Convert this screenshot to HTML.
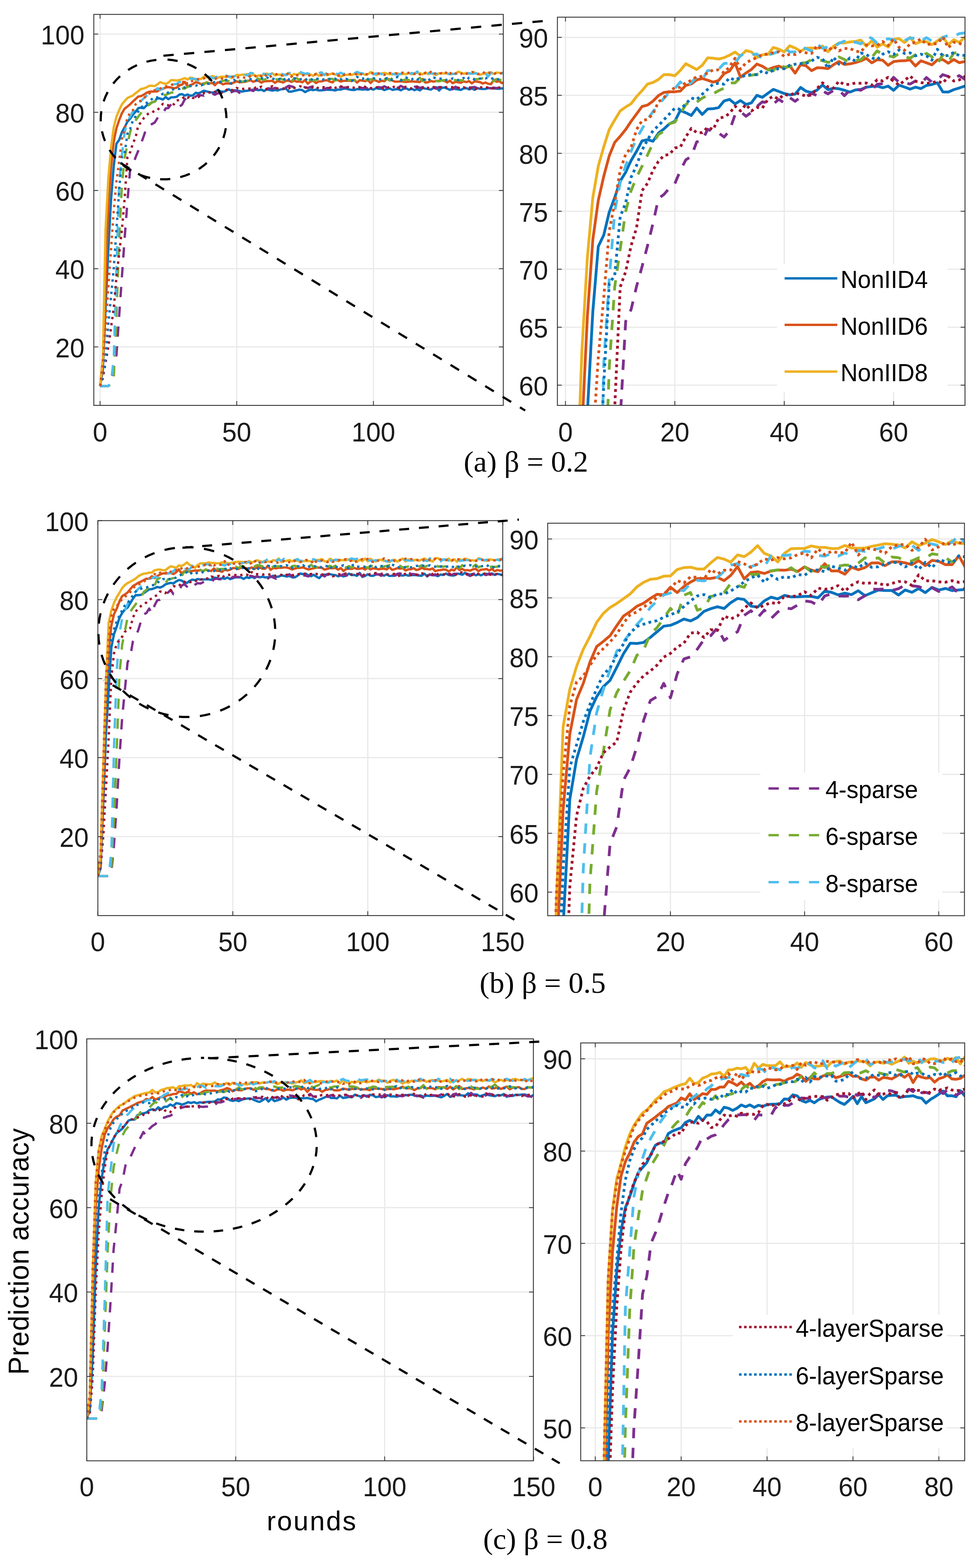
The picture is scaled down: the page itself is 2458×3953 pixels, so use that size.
<!DOCTYPE html><html><head><meta charset="utf-8"><style>html,body{margin:0;padding:0;background:#fff;overflow:hidden;}svg{display:block;}</style></head><body><svg width="2458" height="3953" viewBox="0 0 2458 3953">
<rect width="2458" height="3953" fill="#fff"/>
<g stroke="#e9e9e9" stroke-width="3" fill="none">
<line x1="252.3" y1="36.3" x2="252.3" y2="1022.0"/>
<line x1="596.8" y1="36.3" x2="596.8" y2="1022.0"/>
<line x1="941.4" y1="36.3" x2="941.4" y2="1022.0"/>
<line x1="236.5" y1="874.6" x2="1268.8" y2="874.6"/>
<line x1="236.5" y1="677.4" x2="1268.8" y2="677.4"/>
<line x1="236.5" y1="480.2" x2="1268.8" y2="480.2"/>
<line x1="236.5" y1="283.1" x2="1268.8" y2="283.1"/>
<line x1="236.5" y1="85.9" x2="1268.8" y2="85.9"/>
</g>
<clipPath id="cAl"><rect x="236.5" y="36.3" width="1032.3" height="985.7"/></clipPath>
<g clip-path="url(#cAl)" fill="none" stroke-width="5.9" stroke-linejoin="round">
<polyline points="252.3,973.2 259.2,933.8 266.1,776.4 273.0,628.8 279.9,504.3 286.8,417.7 293.6,362.3 300.5,352.6 307.4,333.1 314.3,320.7 321.2,306.8 328.1,299.2 335.0,289.2 341.9,281.4 348.8,272.5 355.7,271.5 362.6,272.8 369.4,265.9 376.3,262.3 383.2,258.0 390.1,255.9 397.0,246.6 403.9,248.6 410.8,250.9 417.7,244.6 424.6,250.1 431.5,245.4 438.4,245.2 445.2,244.2 452.1,238.5 459.0,237.3 465.9,241.0 472.8,238.2 479.7,241.5 486.6,240.2 493.5,233.8 500.4,235.5 507.3,232.1 514.2,228.7 521.0,230.5 527.9,232.2 534.8,233.4 541.7,232.7 548.6,227.1 555.5,230.3 562.4,231.5 569.3,229.4 576.2,224.9 583.1,229.0 590.0,227.7 596.8,228.2 603.7,229.5 610.6,231.0 617.5,229.2 624.4,228.7 631.3,226.9 638.2,226.3 645.1,226.0 652.0,227.3 658.9,226.0 665.8,229.5 672.7,225.1 679.5,226.8 686.4,228.5 693.3,226.8 700.2,228.0 707.1,225.4 714.0,224.6 720.9,223.1 727.8,230.9 734.7,231.0 741.6,229.0 748.5,227.5 755.3,226.0 762.2,227.2 769.1,232.2 776.0,228.4 782.9,225.9 789.8,227.1 796.7,225.9 803.6,227.9 810.5,227.7 817.4,226.8 824.3,226.1 831.1,226.5 838.0,226.5 844.9,228.0 851.8,225.6 858.7,226.0 865.6,223.7 872.5,223.4 879.4,225.4 886.3,226.5 893.2,226.9 900.1,224.5 906.9,225.1 913.8,225.9 920.7,225.0 927.6,226.4 934.5,223.4 941.4,225.9 948.3,222.2 955.2,224.0 962.1,223.5 969.0,227.1 975.9,224.4 982.7,223.1 989.6,226.7 996.5,225.2 1003.4,224.5 1010.3,227.6 1017.2,223.9 1024.1,222.7 1031.0,226.4 1037.9,223.7 1044.8,227.3 1051.7,224.5 1058.5,227.9 1065.4,221.9 1072.3,223.4 1079.2,224.4 1086.1,226.0 1093.0,221.5 1099.9,220.0 1106.8,228.2 1113.7,221.5 1120.6,220.6 1127.5,223.4 1134.3,226.7 1141.2,222.2 1148.1,224.5 1155.0,225.4 1161.9,226.7 1168.8,222.9 1175.7,222.3 1182.6,225.4 1189.5,222.9 1196.4,226.5 1203.3,222.2 1210.1,223.9 1217.0,224.4 1223.9,224.2 1230.8,222.1 1237.7,222.3 1244.6,222.8 1251.5,223.6 1258.4,223.8 1265.3,222.6 1272.2,223.4 1279.1,222.4 1285.9,224.6" stroke="#0072BD"/>
<polyline points="252.3,973.2 259.2,923.9 266.1,728.1 273.0,518.6 279.9,422.3 286.8,356.6 293.6,323.2 300.5,302.6 307.4,285.2 314.3,273.8 321.2,268.6 328.1,262.9 335.0,255.9 341.9,249.6 348.8,243.3 355.7,242.1 362.6,238.7 369.4,234.0 376.3,231.3 383.2,230.8 390.1,230.8 397.0,230.2 403.9,225.3 410.8,224.1 417.7,220.6 424.6,219.5 431.5,220.9 438.4,222.6 445.2,221.1 452.1,215.4 459.0,213.1 465.9,206.3 472.8,218.4 479.7,214.8 486.6,211.8 493.5,207.2 500.4,209.0 507.3,212.0 514.2,210.1 521.0,208.9 527.9,210.8 534.8,208.7 541.7,214.9 548.6,207.6 555.5,208.7 562.4,212.8 569.3,210.3 576.2,210.5 583.1,211.0 590.0,207.8 596.8,205.0 603.7,207.5 610.6,207.1 617.5,206.0 624.4,204.5 631.3,202.3 638.2,206.2 645.1,203.4 652.0,203.9 658.9,208.3 665.8,205.1 672.7,204.5 679.5,204.4 686.4,203.6 693.3,208.9 700.2,204.4 707.1,206.1 714.0,207.9 720.9,203.7 727.8,203.4 734.7,206.5 741.6,203.3 748.5,206.0 755.3,205.0 762.2,207.6 769.1,201.7 776.0,210.9 782.9,205.3 789.8,203.6 796.7,209.5 803.6,205.4 810.5,205.1 817.4,203.1 824.3,202.2 831.1,205.7 838.0,207.8 844.9,201.8 851.8,202.0 858.7,205.6 865.6,203.8 872.5,203.7 879.4,203.2 886.3,204.0 893.2,201.3 900.1,208.1 906.9,202.0 913.8,203.4 920.7,204.7 927.6,201.7 934.5,209.3 941.4,201.7 948.3,203.4 955.2,206.7 962.1,203.3 969.0,204.9 975.9,198.7 982.7,200.3 989.6,203.4 996.5,205.9 1003.4,205.6 1010.3,205.1 1017.2,205.7 1024.1,206.5 1031.0,205.8 1037.9,205.2 1044.8,205.8 1051.7,206.3 1058.5,206.8 1065.4,199.4 1072.3,208.2 1079.2,207.3 1086.1,204.2 1093.0,205.9 1099.9,204.4 1106.8,203.7 1113.7,202.8 1120.6,204.0 1127.5,207.9 1134.3,203.4 1141.2,209.8 1148.1,206.3 1155.0,207.3 1161.9,208.6 1168.8,205.1 1175.7,207.0 1182.6,204.5 1189.5,210.1 1196.4,205.1 1203.3,206.0 1210.1,207.0 1217.0,210.5 1223.9,208.1 1230.8,211.1 1237.7,212.4 1244.6,201.0 1251.5,206.1 1258.4,204.5 1265.3,209.5 1272.2,207.3 1279.1,207.4 1285.9,207.8" stroke="#D95319"/>
<polyline points="252.3,973.2 259.2,903.9 266.1,578.8 273.0,450.9 279.9,372.0 286.8,320.8 293.6,294.0 300.5,277.6 307.4,262.9 314.3,254.8 321.2,247.1 328.1,243.8 335.0,240.9 341.9,234.8 348.8,229.8 355.7,224.2 362.6,222.8 369.4,220.3 376.3,216.2 383.2,216.2 390.1,217.1 397.0,212.6 403.9,206.9 410.8,209.4 417.7,211.8 424.6,208.2 431.5,201.9 438.4,202.2 445.2,202.9 452.1,201.7 459.0,199.6 465.9,197.0 472.8,200.5 479.7,195.7 486.6,196.9 493.5,201.8 500.4,199.3 507.3,199.0 514.2,193.1 521.0,194.5 527.9,196.9 534.8,191.6 541.7,193.5 548.6,196.3 555.5,193.7 562.4,193.5 569.3,194.0 576.2,191.9 583.1,196.7 590.0,192.2 596.8,189.2 603.7,189.3 610.6,188.4 617.5,188.0 624.4,186.8 631.3,192.0 638.2,187.4 645.1,193.0 652.0,190.0 658.9,192.6 665.8,186.2 672.7,185.5 679.5,188.9 686.4,184.6 693.3,189.9 700.2,188.1 707.1,188.1 714.0,190.7 720.9,187.5 727.8,184.2 734.7,190.7 741.6,186.5 748.5,188.8 755.3,184.6 762.2,187.4 769.1,186.9 776.0,187.0 782.9,187.8 789.8,191.3 796.7,185.2 803.6,191.1 810.5,187.6 817.4,186.7 824.3,189.8 831.1,187.5 838.0,185.2 844.9,187.7 851.8,189.5 858.7,193.8 865.6,189.5 872.5,188.6 879.4,188.3 886.3,189.2 893.2,186.2 900.1,188.1 906.9,187.0 913.8,185.3 920.7,188.5 927.6,187.2 934.5,181.8 941.4,184.6 948.3,189.2 955.2,186.5 962.1,185.1 969.0,183.6 975.9,185.9 982.7,187.3 989.6,187.7 996.5,184.6 1003.4,185.3 1010.3,187.1 1017.2,186.3 1024.1,186.7 1031.0,184.2 1037.9,187.2 1044.8,184.6 1051.7,183.8 1058.5,184.6 1065.4,187.4 1072.3,182.6 1079.2,186.9 1086.1,184.5 1093.0,187.0 1099.9,189.1 1106.8,184.8 1113.7,184.6 1120.6,185.4 1127.5,184.6 1134.3,186.5 1141.2,186.7 1148.1,185.4 1155.0,180.9 1161.9,183.2 1168.8,186.1 1175.7,183.7 1182.6,185.9 1189.5,185.8 1196.4,182.9 1203.3,185.9 1210.1,188.4 1217.0,186.7 1223.9,184.5 1230.8,184.4 1237.7,181.9 1244.6,186.2 1251.5,183.0 1258.4,183.6 1265.3,184.9 1272.2,182.7 1279.1,183.4 1285.9,186.4" stroke="#EDB120"/>
<polyline points="252.3,973.2 259.2,973.2 266.1,973.2 273.0,973.2 279.9,968.3 286.8,924.9 293.6,894.7 300.5,795.3 307.4,696.9 314.3,599.3 321.2,509.4 328.1,426.1 335.0,415.9 341.9,396.2 348.8,379.5 355.7,361.7 362.6,342.6 369.4,321.5 376.3,318.1 383.2,312.6 390.1,308.9 397.0,297.7 403.9,288.6 410.8,285.7 417.7,273.3 424.6,272.4 431.5,262.6 438.4,264.8 445.2,265.7 452.1,269.3 459.0,263.8 465.9,250.4 472.8,247.5 479.7,251.6 486.6,248.3 493.5,243.3 500.4,239.3 507.3,240.3 514.2,241.1 521.0,237.2 527.9,240.2 534.8,235.7 541.7,238.9 548.6,235.2 555.5,234.8 562.4,232.2 569.3,234.0 576.2,230.1 583.1,232.5 590.0,229.7 596.8,229.1 603.7,234.1 610.6,229.3 617.5,228.5 624.4,229.5 631.3,226.7 638.2,229.5 645.1,224.4 652.0,223.9 658.9,223.7 665.8,218.6 672.7,222.7 679.5,222.9 686.4,224.2 693.3,221.6 700.2,223.9 707.1,218.7 714.0,222.5 720.9,220.4 727.8,216.2 734.7,217.8 741.6,219.6 748.5,217.0 755.3,220.1 762.2,218.3 769.1,220.0 776.0,222.0 782.9,219.1 789.8,218.0 796.7,220.9 803.6,222.5 810.5,221.3 817.4,225.4 824.3,221.6 831.1,222.7 838.0,216.0 844.9,221.7 851.8,223.8 858.7,218.7 865.6,221.0 872.5,220.6 879.4,220.3 886.3,220.3 893.2,221.6 900.1,218.8 906.9,219.7 913.8,222.0 920.7,221.3 927.6,223.0 934.5,220.4 941.4,219.4 948.3,219.6 955.2,219.6 962.1,221.2 969.0,217.5 975.9,221.4 982.7,220.9 989.6,221.7 996.5,220.8 1003.4,221.5 1010.3,216.6 1017.2,220.0 1024.1,224.6 1031.0,221.9 1037.9,224.0 1044.8,219.1 1051.7,218.0 1058.5,221.9 1065.4,219.6 1072.3,221.4 1079.2,220.1 1086.1,217.2 1093.0,221.7 1099.9,223.6 1106.8,219.4 1113.7,219.8 1120.6,219.5 1127.5,218.7 1134.3,222.4 1141.2,225.2 1148.1,218.7 1155.0,221.9 1161.9,223.6 1168.8,223.5 1175.7,218.5 1182.6,220.6 1189.5,220.3 1196.4,219.1 1203.3,222.4 1210.1,223.4 1217.0,222.8 1223.9,223.4 1230.8,221.6 1237.7,222.9 1244.6,220.9 1251.5,222.0 1258.4,221.1 1265.3,219.6 1272.2,217.9 1279.1,217.6 1285.9,220.7" stroke="#7E2F8E" stroke-dasharray="26 24" stroke-linecap="butt"/>
<polyline points="252.3,973.2 259.2,973.2 266.1,973.2 273.0,973.2 279.9,968.3 286.8,953.5 293.6,796.3 300.5,598.9 307.4,465.3 314.3,396.7 321.2,364.7 328.1,332.5 335.0,314.9 341.9,303.4 348.8,294.0 355.7,284.5 362.6,274.4 369.4,267.1 376.3,264.3 383.2,258.0 390.1,256.6 397.0,249.4 403.9,241.6 410.8,238.6 417.7,239.5 424.6,236.2 431.5,233.7 438.4,232.5 445.2,229.8 452.1,227.7 459.0,223.2 465.9,223.2 472.8,218.8 479.7,217.2 486.6,216.7 493.5,215.9 500.4,215.6 507.3,211.9 514.2,212.9 521.0,207.2 527.9,209.8 534.8,209.4 541.7,207.5 548.6,206.4 555.5,206.0 562.4,203.4 569.3,203.3 576.2,204.3 583.1,205.7 590.0,204.8 596.8,201.1 603.7,203.3 610.6,206.1 617.5,204.2 624.4,203.4 631.3,199.2 638.2,201.5 645.1,195.9 652.0,199.1 658.9,200.1 665.8,201.2 672.7,198.2 679.5,200.8 686.4,202.2 693.3,199.3 700.2,200.6 707.1,198.1 714.0,201.0 720.9,207.1 727.8,199.3 734.7,205.2 741.6,197.8 748.5,197.3 755.3,202.2 762.2,203.8 769.1,204.3 776.0,199.4 782.9,201.7 789.8,202.5 796.7,201.8 803.6,196.7 810.5,200.5 817.4,199.6 824.3,199.6 831.1,199.0 838.0,198.9 844.9,202.8 851.8,201.7 858.7,202.9 865.6,202.8 872.5,198.8 879.4,202.3 886.3,201.4 893.2,202.8 900.1,202.5 906.9,199.5 913.8,202.2 920.7,202.3 927.6,200.2 934.5,200.2 941.4,199.5 948.3,200.9 955.2,205.1 962.1,199.9 969.0,200.2 975.9,199.0 982.7,203.1 989.6,195.8 996.5,203.9 1003.4,199.7 1010.3,201.1 1017.2,202.3 1024.1,199.5 1031.0,201.9 1037.9,206.3 1044.8,203.8 1051.7,200.3 1058.5,196.4 1065.4,204.5 1072.3,201.3 1079.2,198.1 1086.1,199.9 1093.0,202.1 1099.9,204.3 1106.8,205.1 1113.7,202.9 1120.6,202.0 1127.5,206.1 1134.3,204.9 1141.2,200.6 1148.1,202.1 1155.0,202.9 1161.9,202.1 1168.8,203.0 1175.7,199.2 1182.6,197.7 1189.5,196.7 1196.4,199.7 1203.3,199.6 1210.1,198.1 1217.0,197.5 1223.9,198.1 1230.8,198.6 1237.7,202.6 1244.6,204.7 1251.5,199.3 1258.4,201.5 1265.3,201.4 1272.2,203.2 1279.1,204.1 1285.9,198.2" stroke="#77AC30" stroke-dasharray="26 24" stroke-linecap="butt"/>
<polyline points="252.3,973.2 259.2,973.2 266.1,973.2 273.0,973.2 279.9,963.3 286.8,903.6 293.6,676.7 300.5,461.5 307.4,390.5 314.3,332.6 321.2,308.0 328.1,293.5 335.0,281.3 341.9,270.4 348.8,262.3 355.7,254.4 362.6,247.5 369.4,241.8 376.3,236.3 383.2,231.3 390.1,228.1 397.0,222.3 403.9,226.9 410.8,222.9 417.7,218.1 424.6,220.6 431.5,212.7 438.4,212.5 445.2,211.6 452.1,206.7 459.0,206.5 465.9,206.5 472.8,199.8 479.7,198.2 486.6,199.0 493.5,198.6 500.4,202.7 507.3,199.4 514.2,198.2 521.0,196.3 527.9,193.3 534.8,196.9 541.7,196.8 548.6,192.4 555.5,194.1 562.4,196.2 569.3,189.9 576.2,193.8 583.1,192.6 590.0,193.1 596.8,189.6 603.7,187.7 610.6,190.5 617.5,188.5 624.4,190.1 631.3,183.7 638.2,185.2 645.1,189.5 652.0,186.8 658.9,185.7 665.8,186.5 672.7,188.8 679.5,187.2 686.4,185.0 693.3,185.3 700.2,187.8 707.1,184.7 714.0,187.6 720.9,189.8 727.8,184.6 734.7,182.7 741.6,183.7 748.5,181.3 755.3,180.7 762.2,183.7 769.1,185.9 776.0,184.6 782.9,187.7 789.8,184.7 796.7,184.8 803.6,184.3 810.5,182.3 817.4,189.4 824.3,183.2 831.1,186.0 838.0,183.2 844.9,184.6 851.8,187.3 858.7,183.2 865.6,186.7 872.5,184.0 879.4,186.5 886.3,186.3 893.2,185.1 900.1,181.2 906.9,183.9 913.8,185.5 920.7,181.8 927.6,185.4 934.5,186.1 941.4,187.6 948.3,185.1 955.2,185.2 962.1,187.0 969.0,189.6 975.9,185.8 982.7,185.2 989.6,186.3 996.5,187.5 1003.4,187.8 1010.3,186.5 1017.2,182.5 1024.1,185.1 1031.0,189.0 1037.9,184.0 1044.8,186.4 1051.7,180.4 1058.5,186.1 1065.4,185.5 1072.3,185.0 1079.2,184.8 1086.1,185.3 1093.0,185.3 1099.9,185.8 1106.8,186.5 1113.7,186.1 1120.6,187.9 1127.5,186.4 1134.3,186.7 1141.2,186.2 1148.1,186.2 1155.0,185.5 1161.9,184.2 1168.8,185.8 1175.7,184.9 1182.6,184.5 1189.5,185.8 1196.4,185.4 1203.3,184.2 1210.1,188.7 1217.0,183.5 1223.9,185.9 1230.8,192.9 1237.7,183.7 1244.6,187.4 1251.5,182.8 1258.4,186.8 1265.3,185.1 1272.2,183.2 1279.1,186.3 1285.9,186.6" stroke="#4DBEEE" stroke-dasharray="26 24" stroke-linecap="butt"/>
<polyline points="252.3,973.2 259.2,953.5 266.1,914.0 273.0,874.3 279.9,825.8 286.8,776.0 293.6,697.1 300.5,639.1 307.4,578.2 314.3,499.6 321.2,396.9 328.1,383.7 335.0,361.6 341.9,346.3 348.8,314.8 355.7,308.7 362.6,297.5 369.4,289.9 376.3,284.9 383.2,284.1 390.1,278.5 397.0,277.8 403.9,269.1 410.8,261.9 417.7,265.4 424.6,265.5 431.5,260.9 438.4,263.0 445.2,253.2 452.1,252.3 459.0,249.2 465.9,242.9 472.8,247.0 479.7,241.5 486.6,247.1 493.5,244.1 500.4,244.6 507.3,237.3 514.2,234.6 521.0,237.1 527.9,232.9 534.8,234.0 541.7,231.3 548.6,233.2 555.5,234.3 562.4,233.6 569.3,228.0 576.2,223.1 583.1,226.7 590.0,227.7 596.8,221.7 603.7,224.7 610.6,224.4 617.5,223.4 624.4,223.5 631.3,223.3 638.2,225.2 645.1,220.5 652.0,221.5 658.9,218.5 665.8,221.8 672.7,225.1 679.5,221.2 686.4,217.3 693.3,221.8 700.2,222.9 707.1,223.6 714.0,223.2 720.9,221.6 727.8,223.5 734.7,217.7 741.6,221.6 748.5,220.7 755.3,217.8 762.2,217.7 769.1,221.4 776.0,220.2 782.9,219.4 789.8,221.4 796.7,224.8 803.6,219.5 810.5,219.0 817.4,220.1 824.3,223.0 831.1,221.4 838.0,222.2 844.9,221.6 851.8,218.2 858.7,217.6 865.6,219.5 872.5,219.8 879.4,219.5 886.3,221.0 893.2,221.1 900.1,222.4 906.9,221.1 913.8,216.1 920.7,219.1 927.6,221.7 934.5,222.0 941.4,222.8 948.3,220.2 955.2,220.1 962.1,224.1 969.0,219.9 975.9,222.2 982.7,217.9 989.6,220.6 996.5,217.2 1003.4,221.9 1010.3,221.5 1017.2,220.3 1024.1,218.6 1031.0,219.7 1037.9,223.5 1044.8,220.5 1051.7,220.8 1058.5,221.8 1065.4,222.2 1072.3,217.0 1079.2,221.6 1086.1,222.6 1093.0,219.4 1099.9,220.4 1106.8,220.9 1113.7,219.0 1120.6,219.6 1127.5,219.8 1134.3,218.5 1141.2,220.0 1148.1,221.9 1155.0,221.3 1161.9,221.6 1168.8,220.0 1175.7,222.8 1182.6,224.4 1189.5,220.2 1196.4,223.3 1203.3,224.6 1210.1,219.5 1217.0,221.8 1223.9,219.2 1230.8,221.4 1237.7,222.6 1244.6,222.9 1251.5,221.3 1258.4,220.7 1265.3,221.9 1272.2,220.7 1279.1,223.3 1285.9,219.9" stroke="#A2142F" stroke-dasharray="5.9 9.7" stroke-linecap="butt"/>
<polyline points="252.3,973.2 259.2,943.6 266.1,905.4 273.0,816.3 279.9,747.9 286.8,675.9 293.6,577.7 300.5,478.8 307.4,394.0 314.3,386.9 321.2,337.1 328.1,325.2 335.0,303.5 341.9,293.4 348.8,280.4 355.7,271.8 362.6,263.8 369.4,259.6 376.3,254.5 383.2,249.7 390.1,244.7 397.0,245.7 403.9,241.1 410.8,236.1 417.7,237.4 424.6,232.8 431.5,228.7 438.4,224.1 445.2,223.6 452.1,224.3 459.0,218.8 465.9,220.9 472.8,218.5 479.7,216.6 486.6,216.1 493.5,216.2 500.4,212.9 507.3,215.1 514.2,212.4 521.0,211.0 527.9,211.2 534.8,208.2 541.7,207.3 548.6,206.8 555.5,206.7 562.4,204.5 569.3,201.5 576.2,202.5 583.1,211.0 590.0,201.2 596.8,207.3 603.7,206.6 610.6,201.9 617.5,204.6 624.4,197.8 631.3,199.1 638.2,202.0 645.1,203.4 652.0,198.8 658.9,196.7 665.8,199.1 672.7,195.2 679.5,198.2 686.4,197.7 693.3,200.2 700.2,198.8 707.1,200.2 714.0,203.9 720.9,194.6 727.8,200.4 734.7,199.9 741.6,197.3 748.5,200.0 755.3,199.8 762.2,199.3 769.1,202.7 776.0,196.9 782.9,199.4 789.8,201.5 796.7,198.1 803.6,199.4 810.5,202.2 817.4,199.7 824.3,200.0 831.1,199.2 838.0,199.1 844.9,198.3 851.8,202.4 858.7,199.8 865.6,201.7 872.5,198.6 879.4,202.5 886.3,204.3 893.2,200.5 900.1,194.0 906.9,197.0 913.8,199.2 920.7,194.0 927.6,199.8 934.5,199.7 941.4,197.4 948.3,198.6 955.2,199.4 962.1,200.2 969.0,199.3 975.9,196.9 982.7,202.0 989.6,200.5 996.5,196.2 1003.4,193.6 1010.3,203.0 1017.2,198.1 1024.1,195.4 1031.0,199.4 1037.9,200.2 1044.8,196.2 1051.7,200.1 1058.5,200.4 1065.4,200.1 1072.3,201.8 1079.2,204.0 1086.1,196.3 1093.0,195.1 1099.9,198.2 1106.8,199.1 1113.7,197.6 1120.6,199.0 1127.5,202.4 1134.3,201.2 1141.2,197.7 1148.1,199.4 1155.0,201.9 1161.9,201.7 1168.8,196.5 1175.7,201.8 1182.6,196.0 1189.5,197.4 1196.4,200.6 1203.3,199.1 1210.1,198.1 1217.0,197.6 1223.9,197.8 1230.8,195.3 1237.7,196.4 1244.6,199.5 1251.5,198.7 1258.4,200.3 1265.3,199.5 1272.2,198.1 1279.1,203.4 1285.9,198.1" stroke="#0072BD" stroke-dasharray="5.9 9.7" stroke-linecap="butt"/>
<polyline points="252.3,973.2 259.2,914.2 266.1,826.0 273.0,726.7 279.9,628.4 286.8,529.9 293.6,456.6 300.5,405.6 307.4,349.3 314.3,324.9 321.2,297.4 328.1,283.9 335.0,278.0 341.9,262.9 348.8,255.3 355.7,254.2 362.6,249.5 369.4,239.3 376.3,235.8 383.2,230.0 390.1,227.4 397.0,226.9 403.9,222.9 410.8,221.1 417.7,217.9 424.6,217.7 431.5,214.6 438.4,212.2 445.2,212.2 452.1,214.6 459.0,209.3 465.9,202.3 472.8,211.5 479.7,206.2 486.6,203.6 493.5,201.6 500.4,199.1 507.3,198.7 514.2,197.5 521.0,196.8 527.9,200.7 534.8,198.8 541.7,199.1 548.6,196.5 555.5,197.6 562.4,198.2 569.3,191.4 576.2,195.3 583.1,195.8 590.0,192.1 596.8,196.0 603.7,194.0 610.6,193.9 617.5,196.1 624.4,197.1 631.3,190.9 638.2,191.8 645.1,191.4 652.0,188.0 658.9,191.4 665.8,185.7 672.7,193.1 679.5,195.5 686.4,189.9 693.3,188.6 700.2,185.8 707.1,190.5 714.0,190.2 720.9,189.8 727.8,184.2 734.7,193.3 741.6,188.7 748.5,189.5 755.3,191.5 762.2,190.2 769.1,189.1 776.0,191.2 782.9,189.3 789.8,187.8 796.7,187.5 803.6,190.0 810.5,189.5 817.4,188.7 824.3,186.8 831.1,188.2 838.0,185.7 844.9,187.1 851.8,191.5 858.7,185.7 865.6,189.2 872.5,186.5 879.4,187.5 886.3,185.3 893.2,187.1 900.1,186.7 906.9,190.5 913.8,183.8 920.7,186.7 927.6,187.5 934.5,183.7 941.4,185.2 948.3,185.9 955.2,185.3 962.1,186.1 969.0,188.5 975.9,188.9 982.7,184.1 989.6,183.8 996.5,184.8 1003.4,185.3 1010.3,183.8 1017.2,183.3 1024.1,184.8 1031.0,183.5 1037.9,183.7 1044.8,186.7 1051.7,183.8 1058.5,187.7 1065.4,190.3 1072.3,183.9 1079.2,186.2 1086.1,181.1 1093.0,187.9 1099.9,183.1 1106.8,185.7 1113.7,184.5 1120.6,187.4 1127.5,179.8 1134.3,185.6 1141.2,180.5 1148.1,185.1 1155.0,187.5 1161.9,186.6 1168.8,181.9 1175.7,186.0 1182.6,184.5 1189.5,181.7 1196.4,182.3 1203.3,186.8 1210.1,185.3 1217.0,181.2 1223.9,185.8 1230.8,182.5 1237.7,184.1 1244.6,187.2 1251.5,183.9 1258.4,185.8 1265.3,184.2 1272.2,186.2 1279.1,183.1 1285.9,184.6" stroke="#D95319" stroke-dasharray="5.9 9.7" stroke-linecap="butt"/>
</g>
<g stroke="#e9e9e9" stroke-width="3" fill="none">
<line x1="1425.6" y1="43.3" x2="1425.6" y2="1022.0"/>
<line x1="1701.3" y1="43.3" x2="1701.3" y2="1022.0"/>
<line x1="1977.1" y1="43.3" x2="1977.1" y2="1022.0"/>
<line x1="2252.8" y1="43.3" x2="2252.8" y2="1022.0"/>
<line x1="1405.2" y1="971.0" x2="2432.8" y2="971.0"/>
<line x1="1405.2" y1="824.9" x2="2432.8" y2="824.9"/>
<line x1="1405.2" y1="678.7" x2="2432.8" y2="678.7"/>
<line x1="1405.2" y1="532.6" x2="2432.8" y2="532.6"/>
<line x1="1405.2" y1="386.5" x2="2432.8" y2="386.5"/>
<line x1="1405.2" y1="240.3" x2="2432.8" y2="240.3"/>
<line x1="1405.2" y1="94.2" x2="2432.8" y2="94.2"/>
</g>
<clipPath id="cAr"><rect x="1405.2" y="43.3" width="1027.6" height="978.7"/></clipPath>
<g clip-path="url(#cAr)" fill="none" stroke-width="7.0" stroke-linejoin="round">
<polyline points="1425.6,2432.3 1439.4,2315.4 1453.2,1848.8 1467.0,1411.5 1480.7,1042.4 1494.5,785.5 1508.3,621.3 1522.1,592.5 1535.9,534.9 1549.7,498.0 1563.5,456.7 1577.3,434.3 1591.0,404.6 1604.8,381.4 1618.6,355.1 1632.4,352.1 1646.2,356.1 1660.0,335.6 1673.8,325.0 1687.5,312.3 1701.3,305.9 1715.1,278.3 1728.9,284.2 1742.7,291.2 1756.5,272.5 1770.3,288.6 1784.1,274.7 1797.8,274.1 1811.6,271.3 1825.4,254.5 1839.2,250.6 1853.0,261.9 1866.8,253.5 1880.6,263.3 1894.3,259.3 1908.1,240.4 1921.9,245.4 1935.7,235.3 1949.5,225.3 1963.3,230.5 1977.1,235.7 1990.9,239.2 2004.6,237.2 2018.4,220.5 2032.2,230.0 2046.0,233.5 2059.8,227.2 2073.6,214.1 2087.4,226.1 2101.1,222.3 2114.9,223.8 2128.7,227.5 2142.5,232.2 2156.3,226.7 2170.1,225.4 2183.9,219.9 2197.7,218.0 2211.4,217.2 2225.2,221.1 2239.0,217.1 2252.8,227.6 2266.6,214.7 2280.4,219.5 2294.2,224.7 2307.9,219.7 2321.7,223.3 2335.5,215.5 2349.3,213.0 2363.1,208.7 2376.9,231.8 2390.7,232.1 2404.5,226.0 2418.2,221.8 2432.0,217.2 2445.8,220.7 2459.6,235.7 2473.4,224.5 2487.2,217.0 2501.0,220.6 2514.7,216.9 2528.5,222.9 2542.3,222.4 2556.1,219.5 2569.9,217.7 2583.7,218.6 2597.5,218.7 2611.3,223.3 2625.0,216.1 2638.8,217.3 2652.6,210.4 2666.4,209.5 2680.2,215.5 2694.0,218.7 2707.8,220.0 2721.5,212.8 2735.3,214.7 2749.1,217.1 2762.9,214.3 2776.7,218.3 2790.5,209.7 2804.3,216.9 2818.1,206.1 2831.8,211.2 2845.6,209.9 2859.4,220.7 2873.2,212.4 2887.0,208.7 2900.8,219.5 2914.6,214.9 2928.3,212.9 2942.1,221.9 2955.9,210.9 2969.7,207.4 2983.5,218.3 2997.3,210.4 3011.1,221.1 3024.9,212.8 3038.6,222.8 3052.4,205.2 3066.2,209.7 3080.0,212.4 3093.8,217.1 3107.6,203.9 3121.4,199.4 3135.1,223.9 3148.9,204.0 3162.7,201.4 3176.5,209.6 3190.3,219.4 3204.1,206.1 3217.9,212.8 3231.7,215.5 3245.4,219.4 3259.2,207.9 3273.0,206.3 3286.8,215.4 3300.6,208.0 3314.4,218.7 3328.2,206.1 3341.9,211.0 3355.7,212.4 3369.5,211.9 3383.3,205.6 3397.1,206.3 3410.9,207.8 3424.7,210.3 3438.5,210.6 3452.2,207.1 3466.0,209.6 3479.8,206.7 3493.6,213.1" stroke="#0072BD"/>
<polyline points="1425.6,2432.3 1439.4,2286.3 1453.2,1705.8 1467.0,1084.7 1480.7,799.1 1494.5,604.4 1508.3,505.3 1522.1,444.4 1535.9,392.9 1549.7,359.0 1563.5,343.6 1577.3,326.5 1591.0,306.0 1604.8,287.2 1618.6,268.5 1632.4,264.9 1646.2,255.0 1660.0,241.0 1673.8,233.0 1687.5,231.5 1701.3,231.4 1715.1,229.6 1728.9,215.3 1742.7,211.6 1756.5,201.4 1770.3,198.0 1784.1,202.1 1797.8,207.1 1811.6,202.9 1825.4,185.8 1839.2,179.1 1853.0,158.8 1866.8,194.6 1880.6,184.1 1894.3,175.1 1908.1,161.4 1921.9,167.0 1935.7,175.6 1949.5,170.2 1963.3,166.7 1977.1,172.2 1990.9,165.8 2004.6,184.3 2018.4,162.8 2032.2,166.0 2046.0,178.2 2059.8,170.8 2073.6,171.3 2087.4,172.9 2101.1,163.3 2114.9,155.0 2128.7,162.5 2142.5,161.1 2156.3,157.9 2170.1,153.5 2183.9,147.0 2197.7,158.4 2211.4,150.4 2225.2,151.7 2239.0,164.7 2252.8,155.3 2266.6,153.6 2280.4,153.1 2294.2,151.0 2307.9,166.4 2321.7,153.3 2335.5,158.3 2349.3,163.5 2363.1,151.2 2376.9,150.2 2390.7,159.4 2404.5,150.0 2418.2,158.0 2432.0,155.1 2445.8,162.6 2459.6,145.3 2473.4,172.6 2487.2,156.0 2501.0,150.8 2514.7,168.3 2528.5,156.3 2542.3,155.5 2556.1,149.5 2569.9,146.6 2583.7,157.1 2597.5,163.3 2611.3,145.4 2625.0,146.2 2638.8,156.8 2652.6,151.5 2666.4,151.1 2680.2,149.8 2694.0,152.0 2707.8,144.1 2721.5,164.2 2735.3,146.2 2749.1,150.4 2762.9,154.1 2776.7,145.2 2790.5,167.7 2804.3,145.2 2818.1,150.2 2831.8,160.0 2845.6,149.9 2859.4,154.7 2873.2,136.2 2887.0,141.1 2900.8,150.1 2914.6,157.7 2928.3,156.9 2942.1,155.4 2955.9,157.0 2969.7,159.4 2983.5,157.5 2997.3,155.7 3011.1,157.4 3024.9,158.8 3038.6,160.4 3052.4,138.3 3066.2,164.4 3080.0,161.7 3093.8,152.6 3107.6,157.7 3121.4,153.2 3135.1,151.1 3148.9,148.4 3162.7,152.0 3176.5,163.5 3190.3,150.3 3204.1,169.1 3217.9,158.9 3231.7,161.7 3245.4,165.7 3259.2,155.5 3273.0,160.8 3286.8,153.5 3300.6,170.0 3314.4,155.4 3328.2,158.1 3341.9,160.9 3355.7,171.3 3369.5,164.3 3383.3,173.1 3397.1,177.0 3410.9,143.0 3424.7,158.4 3438.5,153.6 3452.2,168.4 3466.0,161.7 3479.8,162.2 3493.6,163.4" stroke="#D95319"/>
<polyline points="1425.6,2432.3 1439.4,2226.9 1453.2,1263.1 1467.0,884.0 1480.7,650.0 1494.5,498.2 1508.3,418.8 1522.1,370.1 1535.9,326.6 1549.7,302.6 1563.5,279.7 1577.3,269.9 1591.0,261.4 1604.8,243.5 1618.6,228.5 1632.4,211.9 1646.2,207.8 1660.0,200.4 1673.8,188.2 1687.5,188.1 1701.3,191.0 1715.1,177.5 1728.9,160.6 1742.7,167.9 1756.5,175.3 1770.3,164.6 1784.1,145.7 1797.8,146.7 1811.6,148.8 1825.4,145.4 1839.2,139.1 1853.0,131.2 1866.8,141.7 1880.6,127.5 1894.3,130.9 1908.1,145.5 1921.9,138.1 1935.7,137.2 1949.5,119.7 1963.3,123.8 1977.1,130.9 1990.9,115.4 2004.6,121.0 2018.4,129.3 2032.2,121.4 2046.0,120.9 2059.8,122.3 2073.6,116.1 2087.4,130.3 2101.1,117.0 2114.9,108.1 2128.7,108.4 2142.5,105.7 2156.3,104.5 2170.1,101.0 2183.9,116.6 2197.7,102.9 2211.4,119.3 2225.2,110.5 2239.0,118.4 2252.8,99.2 2266.6,97.3 2280.4,107.2 2294.2,94.5 2307.9,110.2 2321.7,104.9 2335.5,104.9 2349.3,112.7 2363.1,103.1 2376.9,93.4 2390.7,112.5 2404.5,100.1 2418.2,106.9 2432.0,94.5 2445.8,102.8 2459.6,101.5 2473.4,101.6 2487.2,104.0 2501.0,114.5 2514.7,96.4 2528.5,113.9 2542.3,103.4 2556.1,100.7 2569.9,109.8 2583.7,103.3 2597.5,96.4 2611.3,103.8 2625.0,109.1 2638.8,121.8 2652.6,109.0 2666.4,106.3 2680.2,105.5 2694.0,108.1 2707.8,99.2 2721.5,105.0 2735.3,101.8 2749.1,96.5 2762.9,106.1 2776.7,102.3 2790.5,86.3 2804.3,94.4 2818.1,108.2 2831.8,100.2 2845.6,95.9 2859.4,91.5 2873.2,98.3 2887.0,102.5 2900.8,103.7 2914.6,94.7 2928.3,96.7 2942.1,101.8 2955.9,99.6 2969.7,100.9 2983.5,93.4 2997.3,102.4 3011.1,94.7 3024.9,92.2 3038.6,94.4 3052.4,102.7 3066.2,88.6 3080.0,101.5 3093.8,94.2 3107.6,101.7 3121.4,107.9 3135.1,95.1 3148.9,94.6 3162.7,96.8 3176.5,94.5 3190.3,100.3 3204.1,100.7 3217.9,97.0 3231.7,83.5 3245.4,90.4 3259.2,98.9 3273.0,91.9 3286.8,98.4 3300.6,98.2 3314.4,89.6 3328.2,98.4 3341.9,105.8 3355.7,100.7 3369.5,94.2 3383.3,93.9 3397.1,86.7 3410.9,99.2 3424.7,89.8 3438.5,91.7 3452.2,95.3 3466.0,88.9 3479.8,91.1 3493.6,99.7" stroke="#EDB120"/>
<polyline points="1425.6,2432.3 1439.4,2432.3 1453.2,2432.3 1467.0,2432.3 1480.7,2417.7 1494.5,2289.3 1508.3,2199.8 1522.1,1905.1 1535.9,1613.3 1549.7,1323.9 1563.5,1057.5 1577.3,810.4 1591.0,780.2 1604.8,721.9 1618.6,672.2 1632.4,619.6 1646.2,563.0 1660.0,500.4 1673.8,490.3 1687.5,474.1 1701.3,462.9 1715.1,430.0 1728.9,403.0 1742.7,394.2 1756.5,357.6 1770.3,354.7 1784.1,325.9 1797.8,332.2 1811.6,335.0 1825.4,345.5 1839.2,329.3 1853.0,289.5 1866.8,280.9 1880.6,293.2 1894.3,283.3 1908.1,268.6 1921.9,256.7 1935.7,259.5 1949.5,262.1 1963.3,250.6 1977.1,259.4 1990.9,246.0 2004.6,255.5 2018.4,244.7 2032.2,243.4 2046.0,235.6 2059.8,240.9 2073.6,229.4 2087.4,236.6 2101.1,228.2 2114.9,226.5 2128.7,241.3 2142.5,227.0 2156.3,224.7 2170.1,227.6 2183.9,219.2 2197.7,227.5 2211.4,212.5 2225.2,210.9 2239.0,210.6 2252.8,195.2 2266.6,207.6 2280.4,208.1 2294.2,212.0 2307.9,204.1 2321.7,211.0 2335.5,195.5 2349.3,206.9 2363.1,200.8 2376.9,188.2 2390.7,192.8 2404.5,198.3 2418.2,190.6 2432.0,199.8 2445.8,194.3 2459.6,199.3 2473.4,205.3 2487.2,196.8 2501.0,193.7 2514.7,202.0 2528.5,207.0 2542.3,203.4 2556.1,215.5 2569.9,204.2 2583.7,207.4 2597.5,187.6 2611.3,204.4 2625.0,210.9 2638.8,195.5 2652.6,202.4 2666.4,201.1 2680.2,200.4 2694.0,200.4 2707.8,204.3 2721.5,195.8 2735.3,198.7 2749.1,205.4 2762.9,203.3 2776.7,208.4 2790.5,200.5 2804.3,197.6 2818.1,198.2 2831.8,198.4 2845.6,203.2 2859.4,192.2 2873.2,203.7 2887.0,202.1 2900.8,204.5 2914.6,201.8 2928.3,203.9 2942.1,189.3 2955.9,199.6 2969.7,213.2 2983.5,205.1 2997.3,211.4 3011.1,196.7 3024.9,193.5 3038.6,205.2 3052.4,198.4 3066.2,203.7 3080.0,199.7 3093.8,191.2 3107.6,204.6 3121.4,210.3 3135.1,197.7 3148.9,199.0 3162.7,198.0 3176.5,195.7 3190.3,206.7 3204.1,215.0 3217.9,195.6 3231.7,205.0 3245.4,210.1 3259.2,209.9 3273.0,195.1 3286.8,201.2 3300.6,200.4 3314.4,196.9 3328.2,206.7 3341.9,209.6 3355.7,207.8 3369.5,209.4 3383.3,204.2 3397.1,208.1 3410.9,202.1 3424.7,205.4 3438.5,202.9 3452.2,198.2 3466.0,193.3 3479.8,192.3 3493.6,201.6" stroke="#7E2F8E" stroke-dasharray="26 24" stroke-linecap="butt"/>
<polyline points="1425.6,2432.3 1439.4,2432.3 1453.2,2432.3 1467.0,2432.3 1480.7,2417.7 1494.5,2373.9 1508.3,1908.0 1522.1,1322.9 1535.9,926.8 1549.7,723.2 1563.5,628.4 1577.3,533.0 1591.0,480.7 1604.8,446.7 1618.6,418.9 1632.4,390.7 1646.2,360.9 1660.0,339.0 1673.8,330.9 1687.5,312.2 1701.3,308.0 1715.1,286.8 1728.9,263.5 1742.7,254.7 1756.5,257.3 1770.3,247.4 1784.1,240.0 1797.8,236.4 1811.6,228.6 1825.4,222.3 1839.2,208.9 1853.0,209.1 1866.8,195.8 1880.6,191.3 1894.3,189.8 1908.1,187.2 1921.9,186.5 1935.7,175.5 1949.5,178.5 1963.3,161.5 1977.1,169.2 1990.9,168.0 2004.6,162.4 2018.4,159.0 2032.2,158.1 2046.0,150.2 2059.8,150.0 2073.6,153.0 2087.4,157.2 2101.1,154.5 2114.9,143.6 2128.7,149.9 2142.5,158.2 2156.3,152.7 2170.1,150.4 2183.9,137.8 2197.7,144.5 2211.4,128.1 2225.2,137.5 2239.0,140.4 2252.8,143.8 2266.6,134.8 2280.4,142.7 2294.2,146.7 2307.9,138.0 2321.7,141.8 2335.5,134.6 2349.3,143.1 2363.1,161.3 2376.9,138.1 2390.7,155.6 2404.5,133.8 2418.2,132.1 2432.0,146.6 2445.8,151.4 2459.6,152.9 2473.4,138.3 2487.2,145.2 2501.0,147.7 2514.7,145.5 2528.5,130.5 2542.3,141.7 2556.1,139.1 2569.9,138.9 2583.7,137.3 2597.5,137.1 2611.3,148.5 2625.0,145.3 2638.8,148.8 2652.6,148.5 2666.4,136.5 2680.2,147.1 2694.0,144.4 2707.8,148.3 2721.5,147.7 2735.3,138.8 2749.1,146.7 2762.9,147.0 2776.7,140.7 2790.5,140.7 2804.3,138.8 2818.1,142.8 2831.8,155.2 2845.6,139.8 2859.4,140.7 2873.2,137.3 2887.0,149.3 2900.8,127.7 2914.6,151.8 2928.3,139.2 2942.1,143.6 2955.9,147.0 2969.7,138.6 2983.5,145.7 2997.3,158.9 3011.1,151.4 3024.9,140.9 3038.6,129.5 3052.4,153.4 3066.2,144.0 3080.0,134.6 3093.8,140.0 3107.6,146.3 3121.4,153.0 3135.1,155.3 3148.9,148.7 3162.7,146.3 3176.5,158.3 3190.3,154.8 3204.1,141.9 3217.9,146.5 3231.7,148.7 3245.4,146.5 3259.2,149.1 3273.0,137.9 3286.8,133.3 3300.6,130.6 3314.4,139.3 3328.2,139.1 3341.9,134.5 3355.7,132.7 3369.5,134.5 3383.3,136.1 3397.1,148.0 3410.9,154.2 3424.7,138.2 3438.5,144.5 3452.2,144.2 3466.0,149.6 3479.8,152.3 3493.6,134.9" stroke="#77AC30" stroke-dasharray="26 24" stroke-linecap="butt"/>
<polyline points="1425.6,2432.3 1439.4,2432.3 1453.2,2432.3 1467.0,2432.3 1480.7,2403.1 1494.5,2226.0 1508.3,1553.4 1522.1,915.5 1535.9,704.8 1549.7,533.4 1563.5,460.3 1577.3,417.5 1591.0,381.3 1604.8,349.0 1618.6,324.9 1632.4,301.5 1646.2,281.1 1660.0,264.0 1673.8,247.9 1687.5,232.9 1701.3,223.4 1715.1,206.4 1728.9,219.8 1742.7,207.9 1756.5,194.0 1770.3,201.1 1784.1,177.9 1797.8,177.3 1811.6,174.5 1825.4,160.1 1839.2,159.3 1853.0,159.4 1866.8,139.5 1880.6,134.9 1894.3,137.3 1908.1,136.2 1921.9,148.1 1935.7,138.5 1949.5,134.9 1963.3,129.2 1977.1,120.4 1990.9,130.9 2004.6,130.8 2018.4,117.8 2032.2,122.8 2046.0,128.8 2059.8,110.2 2073.6,121.8 2087.4,118.2 2101.1,119.7 2114.9,109.4 2128.7,103.7 2142.5,112.0 2156.3,106.1 2170.1,110.7 2183.9,91.8 2197.7,96.4 2211.4,109.1 2225.2,101.1 2239.0,97.7 2252.8,100.2 2266.6,107.0 2280.4,102.4 2294.2,95.7 2307.9,96.7 2321.7,104.1 2335.5,94.9 2349.3,103.5 2363.1,109.9 2376.9,94.4 2390.7,88.9 2404.5,91.7 2418.2,84.8 2432.0,83.0 2445.8,91.9 2459.6,98.4 2473.4,94.6 2487.2,103.7 2501.0,94.7 2514.7,95.2 2528.5,93.6 2542.3,87.8 2556.1,108.6 2569.9,90.3 2583.7,98.7 2597.5,90.3 2611.3,94.5 2625.0,102.4 2638.8,90.3 2652.6,100.8 2666.4,92.9 2680.2,100.2 2694.0,99.6 2707.8,95.9 2721.5,84.5 2735.3,92.4 2749.1,97.1 2762.9,86.3 2776.7,96.9 2790.5,99.0 2804.3,103.3 2818.1,96.0 2831.8,96.4 2845.6,101.5 2859.4,109.4 2873.2,98.0 2887.0,96.4 2900.8,99.6 2914.6,103.2 2928.3,104.0 2942.1,100.2 2955.9,88.3 2969.7,96.1 2983.5,107.5 2997.3,92.9 3011.1,99.9 3024.9,82.0 3038.6,99.0 3052.4,97.3 3066.2,95.7 3080.0,95.0 3093.8,96.5 3107.6,96.5 3121.4,98.2 3135.1,100.3 3148.9,99.1 3162.7,104.3 3176.5,100.0 3190.3,100.8 3204.1,99.3 3217.9,99.3 3231.7,97.3 3245.4,93.4 3259.2,98.2 3273.0,95.6 3286.8,94.3 3300.6,98.0 3314.4,96.8 3328.2,93.5 3341.9,106.6 3355.7,91.3 3369.5,98.5 3383.3,119.1 3397.1,91.8 3410.9,102.8 3424.7,89.2 3438.5,101.1 3452.2,96.0 3466.0,90.2 3479.8,99.5 3493.6,100.6" stroke="#4DBEEE" stroke-dasharray="26 24" stroke-linecap="butt"/>
<polyline points="1425.6,2432.3 1439.4,2373.9 1453.2,2256.9 1467.0,2139.3 1480.7,1995.5 1494.5,1847.8 1508.3,1614.0 1522.1,1442.0 1535.9,1261.3 1549.7,1028.3 1563.5,723.8 1577.3,684.9 1591.0,619.3 1604.8,574.0 1618.6,480.5 1632.4,462.3 1646.2,429.2 1660.0,406.7 1673.8,391.8 1687.5,389.4 1701.3,372.9 1715.1,370.9 1728.9,345.1 1742.7,323.7 1756.5,334.2 1770.3,334.4 1784.1,320.9 1797.8,326.8 1811.6,297.9 1825.4,295.2 1839.2,286.0 1853.0,267.4 1866.8,279.5 1880.6,263.2 1894.3,279.9 1908.1,270.9 1921.9,272.5 1935.7,250.7 1949.5,242.6 1963.3,250.0 1977.1,237.9 1990.9,241.0 2004.6,233.0 2018.4,238.5 2032.2,241.8 2046.0,239.7 2059.8,223.1 2073.6,208.8 2087.4,219.2 2101.1,222.3 2114.9,204.7 2128.7,213.5 2142.5,212.4 2156.3,209.4 2170.1,210.0 2183.9,209.3 2197.7,214.9 2211.4,201.1 2225.2,203.9 2239.0,194.9 2252.8,204.7 2266.6,214.6 2280.4,203.0 2294.2,191.4 2307.9,204.8 2321.7,208.1 2335.5,210.0 2349.3,209.1 2363.1,204.3 2376.9,209.9 2390.7,192.7 2404.5,204.2 2418.2,201.6 2432.0,193.1 2445.8,192.7 2459.6,203.7 2473.4,200.2 2487.2,197.6 2501.0,203.6 2514.7,213.8 2528.5,198.1 2542.3,196.6 2556.1,199.7 2569.9,208.3 2583.7,203.6 2597.5,206.1 2611.3,204.3 2625.0,194.0 2638.8,192.5 2652.6,198.0 2666.4,198.8 2680.2,198.0 2694.0,202.4 2707.8,202.8 2721.5,206.7 2735.3,202.7 2749.1,187.8 2762.9,196.8 2776.7,204.5 2790.5,205.4 2804.3,207.9 2818.1,199.9 2831.8,199.8 2845.6,211.6 2859.4,199.2 2873.2,206.0 2887.0,193.1 2900.8,201.3 2914.6,191.2 2928.3,205.2 2942.1,204.0 2955.9,200.2 2969.7,195.3 2983.5,198.5 2997.3,210.0 3011.1,200.8 3024.9,201.8 3038.6,204.7 3052.4,206.0 3066.2,190.6 3080.0,204.3 3093.8,207.2 3107.6,197.6 3121.4,200.8 3135.1,202.0 3148.9,196.5 3162.7,198.3 3176.5,199.0 3190.3,195.1 3204.1,199.4 3217.9,205.1 3231.7,203.4 3245.4,204.3 3259.2,199.6 3273.0,207.8 3286.8,212.5 3300.6,200.1 3314.4,209.2 3328.2,213.1 3341.9,198.0 3355.7,204.9 3369.5,197.1 3383.3,203.6 3397.1,207.3 3410.9,208.0 3424.7,203.2 3438.5,201.6 3452.2,205.0 3466.0,201.4 3479.8,209.4 3493.6,199.3" stroke="#A2142F" stroke-dasharray="7.0 8.6" stroke-linecap="butt"/>
<polyline points="1425.6,2432.3 1439.4,2344.7 1453.2,2231.5 1467.0,1967.4 1480.7,1764.5 1494.5,1550.9 1508.3,1259.9 1522.1,966.7 1535.9,715.2 1549.7,694.4 1563.5,546.6 1577.3,511.4 1591.0,447.1 1604.8,417.0 1618.6,378.4 1632.4,352.9 1646.2,329.3 1660.0,316.8 1673.8,301.8 1687.5,287.5 1701.3,272.6 1715.1,275.7 1728.9,261.9 1742.7,247.1 1756.5,250.9 1770.3,237.5 1784.1,225.2 1797.8,211.7 1811.6,210.1 1825.4,212.3 1839.2,196.0 1853.0,202.1 1866.8,195.0 1880.6,189.5 1894.3,188.0 1908.1,188.3 1921.9,178.3 1935.7,185.0 1949.5,176.9 1963.3,172.8 1977.1,173.3 1990.9,164.4 2004.6,161.9 2018.4,160.3 2032.2,159.9 2046.0,153.7 2059.8,144.6 2073.6,147.6 2087.4,172.7 2101.1,143.8 2114.9,161.8 2128.7,159.7 2142.5,145.9 2156.3,153.8 2170.1,133.6 2183.9,137.7 2197.7,146.0 2211.4,150.2 2225.2,136.7 2239.0,130.4 2252.8,137.4 2266.6,126.0 2280.4,134.8 2294.2,133.3 2307.9,140.7 2321.7,136.6 2335.5,140.8 2349.3,151.8 2363.1,124.1 2376.9,141.2 2390.7,139.8 2404.5,132.2 2418.2,140.2 2432.0,139.6 2445.8,138.2 2459.6,148.3 2473.4,131.1 2487.2,138.5 2501.0,144.7 2514.7,134.7 2528.5,138.3 2542.3,146.6 2556.1,139.4 2569.9,140.2 2583.7,138.0 2597.5,137.6 2611.3,135.2 2625.0,147.4 2638.8,139.5 2652.6,145.3 2666.4,136.1 2680.2,147.7 2694.0,153.1 2707.8,141.6 2721.5,122.3 2735.3,131.2 2749.1,137.9 2762.9,122.3 2776.7,139.5 2790.5,139.3 2804.3,132.5 2818.1,136.0 2831.8,138.3 2845.6,140.8 2859.4,138.2 2873.2,130.9 2887.0,146.0 2900.8,141.8 2914.6,128.8 2928.3,121.1 2942.1,149.1 2955.9,134.6 2969.7,126.6 2983.5,138.5 2997.3,140.7 3011.1,128.9 3024.9,140.4 3038.6,141.4 3052.4,140.4 3066.2,145.6 3080.0,152.0 3093.8,129.1 3107.6,125.6 3121.4,134.9 3135.1,137.6 3148.9,133.0 3162.7,137.4 3176.5,147.4 3190.3,143.9 3204.1,133.3 3217.9,138.5 3231.7,145.9 3245.4,145.1 3259.2,129.7 3273.0,145.6 3286.8,128.4 3300.6,132.5 3314.4,142.0 3328.2,137.6 3341.9,134.5 3355.7,133.1 3369.5,133.8 3383.3,126.2 3397.1,129.4 3410.9,138.6 3424.7,136.4 3438.5,141.1 3452.2,138.6 3466.0,134.7 3479.8,150.2 3493.6,134.5" stroke="#0072BD" stroke-dasharray="7.0 8.6" stroke-linecap="butt"/>
<polyline points="1425.6,2432.3 1439.4,2257.5 1453.2,1996.1 1467.0,1701.7 1480.7,1410.1 1494.5,1118.1 1508.3,900.9 1522.1,749.8 1535.9,582.7 1549.7,510.5 1563.5,429.1 1577.3,389.0 1591.0,371.3 1604.8,326.6 1618.6,304.0 1632.4,300.9 1646.2,287.0 1660.0,256.7 1673.8,246.4 1687.5,229.1 1701.3,221.4 1715.1,220.0 1728.9,208.1 1742.7,202.8 1756.5,193.2 1770.3,192.6 1784.1,183.5 1797.8,176.4 1811.6,176.3 1825.4,183.6 1839.2,167.8 1853.0,146.9 1866.8,174.4 1880.6,158.5 1894.3,150.9 1908.1,145.1 1921.9,137.5 1935.7,136.2 1949.5,132.9 1963.3,130.8 1977.1,142.3 1990.9,136.6 2004.6,137.6 2018.4,129.8 2032.2,133.1 2046.0,134.8 2059.8,114.7 2073.6,126.2 2087.4,127.7 2101.1,116.7 2114.9,128.3 2128.7,122.3 2142.5,122.0 2156.3,128.6 2170.1,131.4 2183.9,113.3 2197.7,115.8 2211.4,114.7 2225.2,104.6 2239.0,114.8 2252.8,97.9 2266.6,119.7 2280.4,126.8 2294.2,110.3 2307.9,106.3 2321.7,98.1 2335.5,112.0 2349.3,111.2 2363.1,109.9 2376.9,93.3 2390.7,120.4 2404.5,106.6 2418.2,109.0 2432.0,115.0 2445.8,111.2 2459.6,108.0 2473.4,114.1 2487.2,108.4 2501.0,103.9 2514.7,103.1 2528.5,110.6 2542.3,109.0 2556.1,106.7 2569.9,101.1 2583.7,105.1 2597.5,97.9 2611.3,102.0 2625.0,115.0 2638.8,97.8 2652.6,108.1 2666.4,100.0 2680.2,103.1 2694.0,96.7 2707.8,101.9 2721.5,100.9 2735.3,112.1 2749.1,92.3 2762.9,100.6 2776.7,103.0 2790.5,92.0 2804.3,96.4 2818.1,98.3 2831.8,96.6 2845.6,99.1 2859.4,106.2 2873.2,107.3 2887.0,93.1 2900.8,92.0 2914.6,95.2 2928.3,96.5 2942.1,92.0 2955.9,90.7 2969.7,95.2 2983.5,91.4 2997.3,91.9 3011.1,100.9 3024.9,92.1 3038.6,103.7 3052.4,111.5 3066.2,92.5 3080.0,99.3 3093.8,84.1 3107.6,104.4 3121.4,90.2 3135.1,97.7 3148.9,94.3 3162.7,102.9 3176.5,80.3 3190.3,97.4 3204.1,82.4 3217.9,95.9 3231.7,103.1 3245.4,100.4 3259.2,86.6 3273.0,98.7 3286.8,94.4 3300.6,85.8 3314.4,87.8 3328.2,101.2 3341.9,96.5 3355.7,84.5 3369.5,98.0 3383.3,88.2 3397.1,93.0 3410.9,102.3 3424.7,92.3 3438.5,98.1 3452.2,93.4 3466.0,99.3 3479.8,90.1 3493.6,94.6" stroke="#D95319" stroke-dasharray="7.0 8.6" stroke-linecap="butt"/>
</g>
<rect x="1959.0" y="666.0" width="430.0" height="322.0" fill="#fff"/>
<line x1="1978.0" y1="701.8" x2="2110.8" y2="701.8" stroke="#0072BD" stroke-width="6"/>
<text transform="translate(2119.0 726.3) scale(1 1.050)" font-family="Liberation Sans, Arial, sans-serif" font-size="60" fill="#000">NonIID4</text>
<line x1="1978.0" y1="819.0" x2="2110.8" y2="819.0" stroke="#D95319" stroke-width="6"/>
<text transform="translate(2119.0 843.5) scale(1 1.050)" font-family="Liberation Sans, Arial, sans-serif" font-size="60" fill="#000">NonIID6</text>
<line x1="1978.0" y1="936.7" x2="2110.8" y2="936.7" stroke="#EDB120" stroke-width="6"/>
<text transform="translate(2119.0 961.2) scale(1 1.050)" font-family="Liberation Sans, Arial, sans-serif" font-size="60" fill="#000">NonIID8</text>
<rect x="236.5" y="36.3" width="1032.3" height="985.7" fill="none" stroke="#303030" stroke-width="2.2"/>
<g stroke="#303030" stroke-width="2">
<line x1="252.3" y1="1022.0" x2="252.3" y2="1011.0"/>
<line x1="252.3" y1="36.3" x2="252.3" y2="47.3"/>
<line x1="596.8" y1="1022.0" x2="596.8" y2="1011.0"/>
<line x1="596.8" y1="36.3" x2="596.8" y2="47.3"/>
<line x1="941.4" y1="1022.0" x2="941.4" y2="1011.0"/>
<line x1="941.4" y1="36.3" x2="941.4" y2="47.3"/>
<line x1="236.5" y1="874.6" x2="247.5" y2="874.6"/>
<line x1="1268.8" y1="874.6" x2="1257.8" y2="874.6"/>
<line x1="236.5" y1="677.4" x2="247.5" y2="677.4"/>
<line x1="1268.8" y1="677.4" x2="1257.8" y2="677.4"/>
<line x1="236.5" y1="480.2" x2="247.5" y2="480.2"/>
<line x1="1268.8" y1="480.2" x2="1257.8" y2="480.2"/>
<line x1="236.5" y1="283.1" x2="247.5" y2="283.1"/>
<line x1="1268.8" y1="283.1" x2="1257.8" y2="283.1"/>
<line x1="236.5" y1="85.9" x2="247.5" y2="85.9"/>
<line x1="1268.8" y1="85.9" x2="1257.8" y2="85.9"/>
</g>
<g font-family="Liberation Sans, Arial, sans-serif" font-size="66.0" fill="#1a1a1a">
<text transform="translate(252.3 1112.7) scale(1 1.050)" text-anchor="middle">0</text>
<text transform="translate(596.8 1112.7) scale(1 1.050)" text-anchor="middle">50</text>
<text transform="translate(941.4 1112.7) scale(1 1.050)" text-anchor="middle">100</text>
<text transform="translate(212.9 900.6) scale(1 1.050)" text-anchor="end">20</text>
<text transform="translate(212.9 703.4) scale(1 1.050)" text-anchor="end">40</text>
<text transform="translate(212.9 506.2) scale(1 1.050)" text-anchor="end">60</text>
<text transform="translate(212.9 309.1) scale(1 1.050)" text-anchor="end">80</text>
<text transform="translate(212.9 111.9) scale(1 1.050)" text-anchor="end">100</text>
</g>
<rect x="1405.2" y="43.3" width="1027.6" height="978.7" fill="none" stroke="#303030" stroke-width="2.2"/>
<g stroke="#303030" stroke-width="2">
<line x1="1425.6" y1="1022.0" x2="1425.6" y2="1011.0"/>
<line x1="1425.6" y1="43.3" x2="1425.6" y2="54.3"/>
<line x1="1701.3" y1="1022.0" x2="1701.3" y2="1011.0"/>
<line x1="1701.3" y1="43.3" x2="1701.3" y2="54.3"/>
<line x1="1977.1" y1="1022.0" x2="1977.1" y2="1011.0"/>
<line x1="1977.1" y1="43.3" x2="1977.1" y2="54.3"/>
<line x1="2252.8" y1="1022.0" x2="2252.8" y2="1011.0"/>
<line x1="2252.8" y1="43.3" x2="2252.8" y2="54.3"/>
<line x1="1405.2" y1="971.0" x2="1416.2" y2="971.0"/>
<line x1="2432.8" y1="971.0" x2="2421.8" y2="971.0"/>
<line x1="1405.2" y1="824.9" x2="1416.2" y2="824.9"/>
<line x1="2432.8" y1="824.9" x2="2421.8" y2="824.9"/>
<line x1="1405.2" y1="678.7" x2="1416.2" y2="678.7"/>
<line x1="2432.8" y1="678.7" x2="2421.8" y2="678.7"/>
<line x1="1405.2" y1="532.6" x2="1416.2" y2="532.6"/>
<line x1="2432.8" y1="532.6" x2="2421.8" y2="532.6"/>
<line x1="1405.2" y1="386.5" x2="1416.2" y2="386.5"/>
<line x1="2432.8" y1="386.5" x2="2421.8" y2="386.5"/>
<line x1="1405.2" y1="240.3" x2="1416.2" y2="240.3"/>
<line x1="2432.8" y1="240.3" x2="2421.8" y2="240.3"/>
<line x1="1405.2" y1="94.2" x2="1416.2" y2="94.2"/>
<line x1="2432.8" y1="94.2" x2="2421.8" y2="94.2"/>
</g>
<g font-family="Liberation Sans, Arial, sans-serif" font-size="66.0" fill="#1a1a1a">
<text transform="translate(1425.6 1112.7) scale(1 1.050)" text-anchor="middle">0</text>
<text transform="translate(1701.3 1112.7) scale(1 1.050)" text-anchor="middle">20</text>
<text transform="translate(1977.1 1112.7) scale(1 1.050)" text-anchor="middle">40</text>
<text transform="translate(2252.8 1112.7) scale(1 1.050)" text-anchor="middle">60</text>
<text transform="translate(1381.6 997.0) scale(1 1.050)" text-anchor="end">60</text>
<text transform="translate(1381.6 850.9) scale(1 1.050)" text-anchor="end">65</text>
<text transform="translate(1381.6 704.7) scale(1 1.050)" text-anchor="end">70</text>
<text transform="translate(1381.6 558.6) scale(1 1.050)" text-anchor="end">75</text>
<text transform="translate(1381.6 412.5) scale(1 1.050)" text-anchor="end">80</text>
<text transform="translate(1381.6 266.3) scale(1 1.050)" text-anchor="end">85</text>
<text transform="translate(1381.6 120.2) scale(1 1.050)" text-anchor="end">90</text>
</g>
<g stroke="#e9e9e9" stroke-width="3" fill="none">
<line x1="586.9" y1="1312.5" x2="586.9" y2="2308.2"/>
<line x1="927.2" y1="1312.5" x2="927.2" y2="2308.2"/>
<line x1="246.7" y1="2109.1" x2="1267.4" y2="2109.1"/>
<line x1="246.7" y1="1909.9" x2="1267.4" y2="1909.9"/>
<line x1="246.7" y1="1710.8" x2="1267.4" y2="1710.8"/>
<line x1="246.7" y1="1511.6" x2="1267.4" y2="1511.6"/>
</g>
<clipPath id="cBl"><rect x="246.7" y="1312.5" width="1020.7" height="995.7"/></clipPath>
<g clip-path="url(#cBl)" fill="none" stroke-width="5.9" stroke-linejoin="round">
<polyline points="246.7,2208.6 253.5,2188.7 260.3,2028.7 267.1,1851.0 273.9,1740.2 280.7,1632.2 287.5,1598.4 294.3,1579.5 301.1,1557.7 307.9,1545.5 314.7,1536.9 321.6,1531.6 328.4,1520.5 335.2,1509.2 342.0,1500.2 348.8,1500.5 355.6,1499.6 362.4,1495.3 369.2,1490.6 376.0,1485.8 382.8,1485.1 389.6,1482.8 396.4,1479.8 403.2,1481.4 410.0,1478.6 416.8,1473.3 423.6,1471.1 430.4,1469.4 437.2,1470.8 444.0,1465.9 450.8,1462.4 457.6,1463.3 464.4,1468.9 471.3,1469.7 478.1,1464.4 484.9,1461.3 491.7,1462.7 498.5,1459.8 505.3,1461.0 512.1,1460.9 518.9,1460.6 525.7,1460.6 532.5,1461.8 539.3,1456.2 546.1,1457.2 552.9,1459.3 559.7,1457.9 566.5,1459.2 573.3,1455.8 580.1,1460.0 586.9,1457.6 593.7,1455.2 600.5,1455.6 607.3,1455.6 614.2,1459.5 621.0,1455.2 627.8,1457.2 634.6,1454.0 641.4,1457.5 648.2,1453.0 655.0,1455.3 661.8,1453.9 668.6,1455.7 675.4,1455.1 682.2,1454.7 689.0,1451.5 695.8,1454.5 702.6,1453.5 709.4,1450.5 716.2,1451.8 723.0,1453.3 729.8,1452.0 736.6,1455.5 743.4,1455.6 750.2,1451.2 757.0,1446.0 763.9,1447.5 770.7,1446.2 777.5,1450.4 784.3,1452.7 791.1,1449.1 797.9,1453.9 804.7,1457.5 811.5,1450.2 818.3,1448.8 825.1,1449.4 831.9,1447.5 838.7,1449.1 845.5,1449.9 852.3,1452.9 859.1,1450.8 865.9,1453.1 872.7,1451.2 879.5,1446.2 886.3,1449.8 893.1,1449.4 899.9,1451.7 906.8,1444.4 913.6,1454.4 920.4,1452.0 927.2,1447.8 934.0,1451.5 940.8,1451.5 947.6,1448.6 954.4,1448.0 961.2,1448.1 968.0,1451.4 974.8,1447.8 981.6,1452.1 988.4,1451.4 995.2,1451.5 1002.0,1448.5 1008.8,1450.0 1015.6,1451.2 1022.4,1449.0 1029.2,1451.3 1036.0,1450.1 1042.8,1449.6 1049.7,1450.1 1056.5,1451.0 1063.3,1451.5 1070.1,1446.3 1076.9,1453.2 1083.7,1448.0 1090.5,1450.3 1097.3,1450.1 1104.1,1452.4 1110.9,1448.5 1117.7,1449.6 1124.5,1446.0 1131.3,1449.6 1138.1,1450.7 1144.9,1450.9 1151.7,1446.1 1158.5,1446.9 1165.3,1448.9 1172.1,1444.5 1178.9,1447.5 1185.7,1448.7 1192.5,1446.9 1199.4,1450.4 1206.2,1447.8 1213.0,1450.5 1219.8,1446.7 1226.6,1446.6 1233.4,1448.2 1240.2,1445.6 1247.0,1449.5 1253.8,1446.7 1260.6,1448.2 1267.4,1450.4" stroke="#0072BD"/>
<polyline points="246.7,2208.6 253.5,2178.8 260.3,2008.8 267.1,1770.7 273.9,1641.4 280.7,1577.0 287.5,1547.9 294.3,1534.3 301.1,1516.2 307.9,1503.0 314.7,1498.7 321.6,1493.9 328.4,1485.4 335.2,1477.3 342.0,1473.5 348.8,1469.0 355.6,1466.3 362.4,1462.4 369.2,1458.9 376.0,1459.3 382.8,1452.8 389.6,1457.4 396.4,1452.3 403.2,1448.5 410.0,1445.6 416.8,1445.5 423.6,1445.4 430.4,1444.5 437.2,1447.3 444.0,1442.8 450.8,1435.5 457.6,1445.8 464.4,1440.4 471.3,1439.8 478.1,1441.2 484.9,1439.3 491.7,1438.3 498.5,1438.5 505.3,1437.6 512.1,1439.5 518.9,1435.7 525.7,1438.5 532.5,1439.7 539.3,1433.0 546.1,1439.1 552.9,1439.0 559.7,1441.8 566.5,1435.9 573.3,1438.1 580.1,1436.2 586.9,1432.3 593.7,1432.3 600.5,1434.6 607.3,1431.4 614.2,1431.3 621.0,1432.3 627.8,1433.8 634.6,1430.4 641.4,1434.6 648.2,1430.2 655.0,1431.0 661.8,1433.8 668.6,1433.7 675.4,1426.3 682.2,1436.5 689.0,1431.9 695.8,1432.9 702.6,1431.2 709.4,1431.6 716.2,1430.4 723.0,1430.9 729.8,1432.6 736.6,1435.7 743.4,1433.3 750.2,1431.6 757.0,1431.7 763.9,1430.4 770.7,1433.3 777.5,1435.6 784.3,1434.2 791.1,1432.5 797.9,1431.0 804.7,1431.0 811.5,1431.5 818.3,1436.0 825.1,1434.2 831.9,1432.1 838.7,1432.6 845.5,1431.5 852.3,1436.1 859.1,1432.1 865.9,1439.6 872.7,1434.6 879.5,1433.5 886.3,1434.4 893.1,1431.8 899.9,1434.2 906.8,1433.8 913.6,1432.3 920.4,1435.8 927.2,1430.7 934.0,1435.5 940.8,1432.8 947.6,1433.7 954.4,1435.2 961.2,1434.1 968.0,1433.7 974.8,1435.5 981.6,1429.7 988.4,1436.8 995.2,1434.7 1002.0,1432.3 1008.8,1433.7 1015.6,1432.5 1022.4,1438.3 1029.2,1435.5 1036.0,1435.0 1042.8,1432.4 1049.7,1437.0 1056.5,1435.4 1063.3,1431.3 1070.1,1434.6 1076.9,1434.6 1083.7,1435.8 1090.5,1433.1 1097.3,1439.9 1104.1,1437.7 1110.9,1437.2 1117.7,1435.7 1124.5,1436.1 1131.3,1440.9 1138.1,1436.0 1144.9,1438.2 1151.7,1430.2 1158.5,1437.1 1165.3,1434.3 1172.1,1437.9 1178.9,1437.3 1185.7,1438.7 1192.5,1435.1 1199.4,1434.1 1206.2,1439.9 1213.0,1436.1 1219.8,1435.6 1226.6,1434.4 1233.4,1438.5 1240.2,1434.1 1247.0,1440.1 1253.8,1437.0 1260.6,1438.6 1267.4,1438.3" stroke="#D95319"/>
<polyline points="246.7,2208.6 253.5,2158.8 260.3,1930.3 267.1,1720.1 273.9,1570.9 280.7,1539.2 287.5,1519.8 294.3,1505.4 301.1,1494.6 307.9,1482.6 314.7,1475.0 321.6,1470.0 328.4,1466.6 335.2,1462.6 342.0,1458.6 348.8,1452.6 355.6,1448.8 362.4,1446.2 369.2,1445.6 376.0,1443.6 382.8,1443.4 389.6,1437.9 396.4,1436.3 403.2,1435.9 410.0,1437.4 416.8,1437.5 423.6,1432.3 430.4,1427.7 437.2,1429.1 444.0,1431.7 450.8,1425.5 457.6,1427.0 464.4,1423.2 471.3,1417.7 478.1,1424.3 484.9,1426.5 491.7,1431.5 498.5,1424.1 505.3,1420.3 512.1,1420.1 518.9,1420.0 525.7,1418.0 532.5,1419.1 539.3,1419.1 546.1,1420.2 552.9,1420.1 559.7,1417.6 566.5,1419.7 573.3,1420.0 580.1,1419.7 586.9,1418.3 593.7,1417.2 600.5,1416.1 607.3,1416.5 614.2,1417.1 621.0,1419.6 627.8,1414.4 634.6,1417.7 641.4,1415.6 648.2,1412.5 655.0,1414.5 661.8,1416.8 668.6,1413.5 675.4,1415.6 682.2,1416.1 689.0,1412.3 695.8,1413.6 702.6,1408.0 709.4,1417.3 716.2,1414.9 723.0,1413.9 729.8,1411.9 736.6,1415.3 743.4,1411.2 750.2,1414.2 757.0,1416.0 763.9,1414.7 770.7,1414.3 777.5,1414.4 784.3,1415.3 791.1,1414.3 797.9,1411.6 804.7,1411.7 811.5,1409.4 818.3,1415.2 825.1,1415.6 831.9,1408.5 838.7,1412.2 845.5,1412.1 852.3,1414.7 859.1,1411.8 865.9,1412.5 872.7,1412.5 879.5,1409.8 886.3,1414.1 893.1,1411.9 899.9,1416.1 906.8,1411.2 913.6,1414.5 920.4,1408.1 927.2,1415.0 934.0,1408.5 940.8,1413.8 947.6,1415.5 954.4,1411.4 961.2,1411.4 968.0,1414.0 974.8,1414.6 981.6,1417.0 988.4,1412.5 995.2,1411.0 1002.0,1416.2 1008.8,1411.4 1015.6,1408.2 1022.4,1415.5 1029.2,1410.4 1036.0,1410.4 1042.8,1412.9 1049.7,1410.8 1056.5,1413.9 1063.3,1410.5 1070.1,1407.9 1076.9,1412.2 1083.7,1412.8 1090.5,1415.8 1097.3,1407.3 1104.1,1407.2 1110.9,1412.4 1117.7,1411.1 1124.5,1411.5 1131.3,1408.3 1138.1,1414.7 1144.9,1409.7 1151.7,1416.2 1158.5,1409.8 1165.3,1412.8 1172.1,1408.3 1178.9,1410.0 1185.7,1412.5 1192.5,1412.7 1199.4,1413.7 1206.2,1407.4 1213.0,1408.8 1219.8,1412.4 1226.6,1414.0 1233.4,1410.0 1240.2,1411.1 1247.0,1412.1 1253.8,1410.8 1260.6,1409.6 1267.4,1411.1" stroke="#EDB120"/>
<polyline points="246.7,2208.6 253.5,2208.6 260.3,2208.6 267.1,2208.6 273.9,2208.6 280.7,2198.7 287.5,2128.6 294.3,2029.2 301.1,1911.0 307.9,1810.2 314.7,1740.2 321.6,1669.7 328.4,1655.4 335.2,1616.1 342.0,1605.6 348.8,1587.8 355.6,1565.4 362.4,1548.8 369.2,1545.4 376.0,1534.2 382.8,1546.4 389.6,1526.3 396.4,1513.6 403.2,1511.8 410.0,1505.3 416.8,1497.0 423.6,1493.9 430.4,1487.2 437.2,1497.9 444.0,1493.7 450.8,1490.6 457.6,1476.6 464.4,1472.8 471.3,1478.7 478.1,1472.2 484.9,1479.4 491.7,1473.8 498.5,1470.2 505.3,1471.1 512.1,1467.8 518.9,1464.4 525.7,1465.2 532.5,1468.3 539.3,1460.3 546.1,1458.6 552.9,1460.3 559.7,1460.4 566.5,1460.1 573.3,1463.4 580.1,1460.1 586.9,1454.4 593.7,1454.7 600.5,1454.4 607.3,1455.7 614.2,1454.1 621.0,1451.0 627.8,1451.7 634.6,1452.3 641.4,1454.6 648.2,1453.3 655.0,1456.4 661.8,1455.3 668.6,1452.6 675.4,1458.3 682.2,1453.0 689.0,1456.0 695.8,1459.2 702.6,1456.0 709.4,1455.7 716.2,1450.9 723.0,1450.6 729.8,1447.7 736.6,1453.3 743.4,1452.9 750.2,1452.3 757.0,1448.4 763.9,1450.2 770.7,1451.4 777.5,1453.2 784.3,1446.8 791.1,1454.6 797.9,1451.4 804.7,1451.1 811.5,1449.1 818.3,1453.3 825.1,1447.3 831.9,1450.4 838.7,1452.1 845.5,1451.4 852.3,1449.9 859.1,1450.9 865.9,1447.6 872.7,1451.6 879.5,1448.4 886.3,1444.9 893.1,1448.5 899.9,1446.9 906.8,1447.1 913.6,1453.1 920.4,1446.3 927.2,1449.2 934.0,1447.0 940.8,1446.4 947.6,1447.8 954.4,1448.3 961.2,1451.5 968.0,1446.9 974.8,1448.5 981.6,1447.6 988.4,1446.4 995.2,1451.0 1002.0,1446.4 1008.8,1445.5 1015.6,1449.3 1022.4,1452.3 1029.2,1443.8 1036.0,1446.9 1042.8,1447.3 1049.7,1448.3 1056.5,1449.7 1063.3,1449.7 1070.1,1448.0 1076.9,1448.1 1083.7,1449.0 1090.5,1450.2 1097.3,1447.9 1104.1,1450.7 1110.9,1451.7 1117.7,1451.3 1124.5,1451.8 1131.3,1446.8 1138.1,1449.8 1144.9,1446.4 1151.7,1447.3 1158.5,1444.3 1165.3,1446.5 1172.1,1446.4 1178.9,1449.3 1185.7,1452.0 1192.5,1446.6 1199.4,1445.5 1206.2,1448.9 1213.0,1449.2 1219.8,1448.9 1226.6,1449.5 1233.4,1445.4 1240.2,1448.3 1247.0,1446.3 1253.8,1447.2 1260.6,1449.9 1267.4,1443.8" stroke="#7E2F8E" stroke-dasharray="26 24" stroke-linecap="butt"/>
<polyline points="246.7,2208.6 253.5,2208.6 260.3,2208.6 267.1,2208.6 273.9,2208.6 280.7,2188.7 287.5,2059.7 294.3,1888.8 301.1,1702.2 307.9,1625.6 314.7,1591.9 321.6,1556.6 328.4,1542.1 335.2,1532.4 342.0,1523.5 348.8,1510.5 355.6,1505.9 362.4,1492.4 369.2,1487.0 376.0,1479.1 382.8,1470.8 389.6,1477.1 396.4,1459.7 403.2,1457.4 410.0,1472.3 416.8,1470.5 423.6,1460.7 430.4,1459.5 437.2,1457.4 444.0,1449.5 450.8,1451.4 457.6,1453.0 464.4,1442.0 471.3,1442.1 478.1,1440.4 484.9,1439.0 491.7,1438.2 498.5,1439.1 505.3,1436.4 512.1,1440.6 518.9,1435.6 525.7,1439.6 532.5,1434.5 539.3,1436.3 546.1,1433.6 552.9,1435.1 559.7,1434.1 566.5,1434.4 573.3,1432.5 580.1,1428.0 586.9,1429.6 593.7,1428.0 600.5,1432.6 607.3,1427.3 614.2,1427.9 621.0,1430.8 627.8,1430.6 634.6,1428.0 641.4,1428.3 648.2,1424.6 655.0,1425.4 661.8,1427.8 668.6,1431.6 675.4,1428.0 682.2,1431.5 689.0,1428.3 695.8,1428.0 702.6,1427.7 709.4,1427.9 716.2,1430.3 723.0,1429.7 729.8,1433.4 736.6,1427.2 743.4,1426.4 750.2,1428.4 757.0,1430.9 763.9,1427.7 770.7,1429.9 777.5,1428.8 784.3,1424.3 791.1,1428.7 797.9,1430.4 804.7,1427.6 811.5,1429.1 818.3,1431.4 825.1,1428.6 831.9,1426.5 838.7,1430.0 845.5,1426.0 852.3,1429.6 859.1,1432.3 865.9,1428.4 872.7,1431.1 879.5,1427.0 886.3,1430.6 893.1,1429.2 899.9,1430.0 906.8,1428.5 913.6,1427.6 920.4,1428.7 927.2,1431.8 934.0,1426.3 940.8,1427.0 947.6,1432.7 954.4,1425.8 961.2,1429.3 968.0,1427.9 974.8,1426.8 981.6,1424.9 988.4,1428.0 995.2,1428.7 1002.0,1427.5 1008.8,1426.5 1015.6,1431.0 1022.4,1429.3 1029.2,1428.4 1036.0,1429.4 1042.8,1428.4 1049.7,1427.6 1056.5,1427.9 1063.3,1425.1 1070.1,1429.2 1076.9,1426.8 1083.7,1427.2 1090.5,1424.1 1097.3,1422.5 1104.1,1428.5 1110.9,1427.5 1117.7,1428.7 1124.5,1427.7 1131.3,1427.9 1138.1,1428.7 1144.9,1429.7 1151.7,1428.7 1158.5,1432.4 1165.3,1424.9 1172.1,1429.6 1178.9,1431.4 1185.7,1425.9 1192.5,1428.4 1199.4,1423.6 1206.2,1430.4 1213.0,1427.1 1219.8,1429.6 1226.6,1427.6 1233.4,1429.5 1240.2,1428.4 1247.0,1429.2 1253.8,1428.8 1260.6,1424.3 1267.4,1427.8" stroke="#77AC30" stroke-dasharray="26 24" stroke-linecap="butt"/>
<polyline points="246.7,2208.6 253.5,2208.6 260.3,2208.6 267.1,2208.6 273.9,2208.6 280.7,2148.7 287.5,1880.1 294.3,1692.0 301.1,1596.8 307.9,1559.0 314.7,1539.4 321.6,1522.5 328.4,1507.0 335.2,1499.2 342.0,1491.4 348.8,1484.4 355.6,1478.1 362.4,1470.0 369.2,1464.5 376.0,1459.4 382.8,1457.7 389.6,1455.0 396.4,1455.8 403.2,1449.6 410.0,1447.1 416.8,1447.5 423.6,1445.8 430.4,1444.5 437.2,1439.4 444.0,1434.2 450.8,1432.8 457.6,1437.2 464.4,1435.4 471.3,1433.6 478.1,1435.4 484.9,1426.3 491.7,1425.5 498.5,1426.0 505.3,1425.4 512.1,1425.2 518.9,1422.4 525.7,1422.9 532.5,1426.1 539.3,1426.6 546.1,1424.5 552.9,1426.6 559.7,1423.9 566.5,1425.9 573.3,1421.7 580.1,1422.6 586.9,1420.7 593.7,1420.3 600.5,1418.6 607.3,1420.6 614.2,1418.4 621.0,1416.7 627.8,1417.4 634.6,1421.8 641.4,1416.2 648.2,1416.3 655.0,1417.7 661.8,1417.5 668.6,1414.8 675.4,1408.6 682.2,1416.5 689.0,1414.3 695.8,1413.2 702.6,1410.4 709.4,1413.7 716.2,1408.7 723.0,1413.1 729.8,1413.5 736.6,1412.8 743.4,1412.6 750.2,1409.2 757.0,1414.7 763.9,1412.9 770.7,1411.7 777.5,1412.7 784.3,1412.4 791.1,1409.6 797.9,1413.8 804.7,1414.4 811.5,1414.6 818.3,1410.6 825.1,1415.2 831.9,1412.1 838.7,1415.7 845.5,1410.7 852.3,1411.4 859.1,1412.7 865.9,1409.8 872.7,1409.2 879.5,1411.3 886.3,1407.6 893.1,1410.1 899.9,1408.6 906.8,1411.0 913.6,1411.4 920.4,1413.5 927.2,1411.9 934.0,1413.5 940.8,1414.0 947.6,1412.1 954.4,1416.3 961.2,1408.2 968.0,1412.0 974.8,1415.7 981.6,1414.4 988.4,1412.9 995.2,1412.7 1002.0,1411.1 1008.8,1412.7 1015.6,1410.2 1022.4,1411.5 1029.2,1413.1 1036.0,1413.0 1042.8,1412.8 1049.7,1411.3 1056.5,1411.6 1063.3,1416.2 1070.1,1412.5 1076.9,1414.5 1083.7,1407.4 1090.5,1411.0 1097.3,1411.3 1104.1,1415.1 1110.9,1415.0 1117.7,1410.2 1124.5,1410.5 1131.3,1413.4 1138.1,1412.6 1144.9,1409.5 1151.7,1411.7 1158.5,1414.0 1165.3,1413.3 1172.1,1412.4 1178.9,1411.9 1185.7,1411.5 1192.5,1413.8 1199.4,1410.8 1206.2,1409.4 1213.0,1409.8 1219.8,1412.8 1226.6,1410.7 1233.4,1413.3 1240.2,1407.9 1247.0,1411.6 1253.8,1411.0 1260.6,1413.2 1267.4,1406.6" stroke="#4DBEEE" stroke-dasharray="26 24" stroke-linecap="butt"/>
<polyline points="246.7,2208.6 253.5,2188.7 260.3,2108.7 267.1,1989.3 273.9,1860.0 280.7,1705.8 287.5,1646.2 294.3,1623.0 301.1,1612.7 307.9,1605.4 314.7,1592.9 321.6,1588.1 328.4,1583.7 335.2,1557.1 342.0,1541.7 348.8,1533.9 355.6,1527.8 362.4,1523.8 369.2,1518.8 376.0,1512.0 382.8,1508.9 389.6,1503.6 396.4,1500.3 403.2,1491.6 410.0,1490.9 416.8,1495.4 423.6,1488.8 430.4,1489.5 437.2,1477.2 444.0,1479.7 450.8,1477.2 457.6,1470.7 464.4,1466.2 471.3,1470.4 478.1,1468.2 484.9,1465.8 491.7,1467.0 498.5,1460.2 505.3,1460.9 512.1,1459.9 518.9,1456.7 525.7,1459.9 532.5,1453.7 539.3,1454.6 546.1,1453.9 552.9,1451.6 559.7,1456.2 566.5,1451.2 573.3,1448.2 580.1,1449.7 586.9,1449.1 593.7,1449.6 600.5,1451.3 607.3,1449.8 614.2,1448.0 621.0,1448.3 627.8,1451.4 634.6,1442.4 641.4,1447.5 648.2,1447.4 655.0,1448.3 661.8,1448.6 668.6,1447.4 675.4,1448.7 682.2,1448.0 689.0,1449.7 695.8,1451.9 702.6,1449.3 709.4,1449.2 716.2,1451.7 723.0,1448.7 729.8,1452.2 736.6,1450.5 743.4,1447.5 750.2,1448.6 757.0,1445.9 763.9,1446.4 770.7,1446.6 777.5,1448.9 784.3,1447.2 791.1,1448.6 797.9,1446.9 804.7,1448.0 811.5,1447.7 818.3,1449.9 825.1,1448.6 831.9,1445.5 838.7,1452.8 845.5,1451.3 852.3,1447.5 859.1,1447.8 865.9,1446.8 872.7,1445.8 879.5,1445.9 886.3,1448.3 893.1,1447.3 899.9,1447.2 906.8,1449.2 913.6,1450.4 920.4,1450.6 927.2,1450.7 934.0,1446.6 940.8,1445.5 947.6,1444.6 954.4,1446.2 961.2,1446.8 968.0,1446.3 974.8,1448.1 981.6,1448.4 988.4,1447.4 995.2,1446.9 1002.0,1452.7 1008.8,1450.6 1015.6,1447.3 1022.4,1447.0 1029.2,1447.7 1036.0,1450.3 1042.8,1446.4 1049.7,1449.2 1056.5,1446.2 1063.3,1445.6 1070.1,1446.1 1076.9,1451.9 1083.7,1444.6 1090.5,1447.5 1097.3,1443.7 1104.1,1447.8 1110.9,1446.6 1117.7,1447.7 1124.5,1448.6 1131.3,1447.1 1138.1,1447.3 1144.9,1450.2 1151.7,1447.7 1158.5,1442.7 1165.3,1443.5 1172.1,1447.6 1178.9,1446.6 1185.7,1451.7 1192.5,1448.6 1199.4,1445.8 1206.2,1446.8 1213.0,1447.5 1219.8,1446.7 1226.6,1444.7 1233.4,1448.0 1240.2,1450.4 1247.0,1448.1 1253.8,1447.0 1260.6,1448.1 1267.4,1449.1" stroke="#A2142F" stroke-dasharray="5.9 9.7" stroke-linecap="butt"/>
<polyline points="246.7,2208.6 253.5,2178.8 260.3,2009.7 267.1,1830.9 273.9,1690.8 280.7,1605.2 287.5,1586.1 294.3,1566.6 301.1,1552.0 307.9,1538.9 314.7,1526.4 321.6,1521.2 328.4,1510.1 335.2,1500.9 342.0,1491.6 348.8,1486.1 355.6,1484.2 362.4,1482.4 369.2,1481.1 376.0,1478.3 382.8,1476.0 389.6,1474.1 396.4,1469.2 403.2,1464.5 410.0,1460.2 416.8,1459.1 423.6,1461.7 430.4,1458.6 437.2,1458.6 444.0,1456.0 450.8,1452.4 457.6,1448.4 464.4,1444.9 471.3,1442.7 478.1,1448.7 484.9,1442.8 491.7,1446.2 498.5,1443.9 505.3,1444.9 512.1,1442.2 518.9,1442.8 525.7,1438.6 532.5,1438.3 539.3,1439.7 546.1,1435.2 552.9,1436.5 559.7,1438.6 566.5,1434.4 573.3,1436.5 580.1,1432.3 586.9,1436.1 593.7,1435.6 600.5,1433.1 607.3,1432.0 614.2,1431.9 621.0,1435.7 627.8,1432.4 634.6,1437.7 641.4,1431.8 648.2,1436.5 655.0,1429.5 661.8,1431.1 668.6,1432.4 675.4,1426.3 682.2,1427.3 689.0,1427.5 695.8,1426.6 702.6,1427.0 709.4,1427.4 716.2,1427.5 723.0,1424.8 729.8,1431.4 736.6,1431.3 743.4,1429.1 750.2,1427.5 757.0,1428.1 763.9,1424.7 770.7,1431.0 777.5,1428.9 784.3,1428.1 791.1,1426.4 797.9,1429.5 804.7,1428.7 811.5,1430.6 818.3,1426.2 825.1,1427.6 831.9,1434.3 838.7,1427.3 845.5,1429.2 852.3,1429.5 859.1,1427.8 865.9,1425.0 872.7,1429.4 879.5,1432.8 886.3,1425.5 893.1,1423.4 899.9,1428.2 906.8,1428.9 913.6,1428.1 920.4,1429.9 927.2,1427.8 934.0,1427.8 940.8,1424.9 947.6,1429.8 954.4,1426.7 961.2,1427.1 968.0,1426.6 974.8,1428.1 981.6,1428.1 988.4,1423.0 995.2,1426.7 1002.0,1429.5 1008.8,1430.7 1015.6,1429.2 1022.4,1430.3 1029.2,1429.4 1036.0,1430.3 1042.8,1428.6 1049.7,1426.9 1056.5,1425.6 1063.3,1426.1 1070.1,1426.3 1076.9,1427.2 1083.7,1425.1 1090.5,1428.3 1097.3,1428.8 1104.1,1426.1 1110.9,1428.6 1117.7,1428.5 1124.5,1428.7 1131.3,1427.9 1138.1,1426.7 1144.9,1431.5 1151.7,1428.1 1158.5,1428.9 1165.3,1429.1 1172.1,1426.0 1178.9,1427.6 1185.7,1424.7 1192.5,1428.0 1199.4,1427.4 1206.2,1430.1 1213.0,1428.0 1219.8,1426.1 1226.6,1424.1 1233.4,1428.7 1240.2,1428.2 1247.0,1432.1 1253.8,1428.5 1260.6,1427.4 1267.4,1428.6" stroke="#0072BD" stroke-dasharray="5.9 9.7" stroke-linecap="butt"/>
<polyline points="246.7,2208.6 253.5,2148.4 260.3,1928.6 267.1,1712.2 273.9,1610.7 280.7,1553.2 287.5,1533.0 294.3,1528.0 301.1,1519.1 307.9,1510.3 314.7,1504.8 321.6,1499.1 328.4,1492.7 335.2,1483.2 342.0,1476.1 348.8,1473.7 355.6,1469.6 362.4,1466.2 369.2,1461.5 376.0,1458.3 382.8,1454.4 389.6,1447.3 396.4,1449.4 403.2,1444.0 410.0,1444.6 416.8,1445.9 423.6,1437.9 430.4,1441.6 437.2,1438.5 444.0,1438.3 450.8,1431.2 457.6,1433.1 464.4,1436.1 471.3,1433.0 478.1,1428.9 484.9,1430.1 491.7,1427.8 498.5,1428.9 505.3,1428.0 512.1,1425.2 518.9,1423.9 525.7,1428.0 532.5,1420.3 539.3,1425.4 546.1,1422.6 552.9,1423.6 559.7,1423.7 566.5,1414.8 573.3,1425.7 580.1,1419.7 586.9,1420.5 593.7,1421.8 600.5,1424.1 607.3,1418.6 614.2,1417.0 621.0,1416.6 627.8,1421.7 634.6,1419.2 641.4,1412.3 648.2,1421.4 655.0,1418.6 661.8,1414.9 668.6,1417.3 675.4,1415.0 682.2,1416.6 689.0,1417.0 695.8,1419.0 702.6,1417.3 709.4,1415.7 716.2,1414.5 723.0,1418.6 729.8,1417.0 736.6,1418.7 743.4,1413.8 750.2,1415.2 757.0,1417.0 763.9,1414.7 770.7,1411.9 777.5,1411.9 784.3,1414.1 791.1,1422.6 797.9,1414.4 804.7,1414.8 811.5,1412.8 818.3,1415.6 825.1,1417.1 831.9,1413.7 838.7,1416.5 845.5,1413.5 852.3,1412.5 859.1,1411.0 865.9,1411.6 872.7,1409.5 879.5,1414.3 886.3,1413.9 893.1,1418.5 899.9,1414.6 906.8,1412.8 913.6,1409.4 920.4,1412.6 927.2,1408.9 934.0,1415.0 940.8,1416.5 947.6,1411.7 954.4,1413.8 961.2,1413.0 968.0,1407.9 974.8,1413.9 981.6,1412.0 988.4,1410.1 995.2,1414.4 1002.0,1415.0 1008.8,1411.8 1015.6,1413.9 1022.4,1408.4 1029.2,1410.7 1036.0,1409.6 1042.8,1409.7 1049.7,1411.6 1056.5,1412.7 1063.3,1411.7 1070.1,1411.5 1076.9,1413.4 1083.7,1411.3 1090.5,1413.6 1097.3,1408.9 1104.1,1413.0 1110.9,1409.9 1117.7,1411.8 1124.5,1412.2 1131.3,1411.3 1138.1,1410.9 1144.9,1413.6 1151.7,1410.3 1158.5,1410.3 1165.3,1412.3 1172.1,1410.5 1178.9,1409.9 1185.7,1413.7 1192.5,1413.0 1199.4,1414.2 1206.2,1412.6 1213.0,1412.4 1219.8,1411.6 1226.6,1412.4 1233.4,1412.8 1240.2,1411.0 1247.0,1413.0 1253.8,1410.9 1260.6,1411.1 1267.4,1409.6" stroke="#D95319" stroke-dasharray="5.9 9.7" stroke-linecap="butt"/>
</g>
<g stroke="#e9e9e9" stroke-width="3" fill="none">
<line x1="1690.2" y1="1319.0" x2="1690.2" y2="2308.5"/>
<line x1="2028.4" y1="1319.0" x2="2028.4" y2="2308.5"/>
<line x1="2366.6" y1="1319.0" x2="2366.6" y2="2308.5"/>
<line x1="1380.8" y1="2249.1" x2="2431.4" y2="2249.1"/>
<line x1="1380.8" y1="2100.7" x2="2431.4" y2="2100.7"/>
<line x1="1380.8" y1="1952.3" x2="2431.4" y2="1952.3"/>
<line x1="1380.8" y1="1803.9" x2="2431.4" y2="1803.9"/>
<line x1="1380.8" y1="1655.6" x2="2431.4" y2="1655.6"/>
<line x1="1380.8" y1="1507.2" x2="2431.4" y2="1507.2"/>
<line x1="1380.8" y1="1358.8" x2="2431.4" y2="1358.8"/>
</g>
<clipPath id="cBr"><rect x="1380.8" y="1319.0" width="1050.6" height="989.5"/></clipPath>
<g clip-path="url(#cBr)" fill="none" stroke-width="7.0" stroke-linejoin="round">
<polyline points="1352.0,3732.9 1368.9,3673.6 1385.8,3196.7 1402.7,2667.0 1419.6,2336.7 1436.5,2015.0 1453.5,1914.2 1470.4,1857.8 1487.3,1792.8 1504.2,1756.5 1521.1,1731.0 1538.0,1715.2 1554.9,1682.1 1571.8,1648.1 1588.7,1621.6 1605.6,1622.3 1622.6,1619.6 1639.5,1607.0 1656.4,1592.8 1673.3,1578.6 1690.2,1576.4 1707.1,1569.5 1724.0,1560.6 1740.9,1565.3 1757.8,1557.0 1774.8,1541.3 1791.7,1534.6 1808.6,1529.6 1825.5,1534.0 1842.4,1519.2 1859.3,1508.8 1876.2,1511.4 1893.1,1528.1 1910.0,1530.5 1926.9,1514.8 1943.8,1505.5 1960.8,1509.8 1977.7,1501.0 1994.6,1504.8 2011.5,1504.4 2028.4,1503.5 2045.3,1503.5 2062.2,1507.0 2079.1,1490.3 2096.0,1493.3 2112.9,1499.7 2129.9,1495.3 2146.8,1499.1 2163.7,1489.2 2180.6,1501.7 2197.5,1494.5 2214.4,1487.5 2231.3,1488.7 2248.2,1488.6 2265.1,1500.1 2282.0,1487.4 2299.0,1493.2 2315.9,1483.7 2332.8,1494.1 2349.7,1480.8 2366.6,1487.6 2383.5,1483.5 2400.4,1488.9 2417.3,1487.2 2434.2,1486.0 2451.1,1476.3 2468.1,1485.1 2485.0,1482.4 2501.9,1473.5 2518.8,1477.2 2535.7,1481.7 2552.6,1477.7 2569.5,1488.3 2586.4,1488.5 2603.3,1475.4 2620.2,1459.9 2637.2,1464.3 2654.1,1460.6 2671.0,1473.0 2687.9,1479.8 2704.8,1469.1 2721.7,1483.5 2738.6,1494.1 2755.5,1472.4 2772.4,1468.1 2789.3,1470.0 2806.3,1464.3 2823.2,1469.1 2840.1,1471.6 2857.0,1480.6 2873.9,1474.3 2890.8,1481.0 2907.7,1475.5 2924.6,1460.4 2941.5,1471.3 2958.4,1470.0 2975.4,1476.8 2992.3,1455.1 3009.2,1484.9 3026.1,1477.8 3043.0,1465.4 3059.9,1476.3 3076.8,1476.4 3093.7,1467.7 3110.6,1466.0 3127.5,1466.2 3144.5,1476.1 3161.4,1465.4 3178.3,1478.1 3195.2,1476.0 3212.1,1476.3 3229.0,1467.5 3245.9,1471.8 3262.8,1475.5 3279.7,1468.9 3296.6,1475.7 3313.6,1472.1 3330.5,1470.7 3347.4,1472.2 3364.3,1474.9 3381.2,1476.3 3398.1,1460.9 3415.0,1481.4 3431.9,1465.8 3448.8,1472.9 3465.7,1472.1 3482.7,1479.0 3499.6,1467.4 3516.5,1470.7 3533.4,1460.1 3550.3,1470.6 3567.2,1473.9 3584.1,1474.5 3601.0,1460.3 3617.9,1462.7 3634.8,1468.6 3651.8,1455.4 3668.7,1464.4 3685.6,1468.0 3702.5,1462.7 3719.4,1473.2 3736.3,1465.3 3753.2,1473.2 3770.1,1462.0 3787.0,1461.6 3803.9,1466.4 3820.9,1458.7 3837.8,1470.3 3854.7,1462.1 3871.6,1466.5 3888.5,1473.2" stroke="#0072BD"/>
<polyline points="1352.0,3732.9 1368.9,3643.9 1385.8,3137.3 1402.7,2427.6 1419.6,2042.3 1436.5,1850.4 1453.5,1763.6 1470.4,1723.0 1487.3,1669.2 1504.2,1630.0 1521.1,1616.9 1538.0,1602.6 1554.9,1577.3 1571.8,1553.2 1588.7,1541.9 1605.6,1528.4 1622.6,1520.6 1639.5,1508.7 1656.4,1498.3 1673.3,1499.6 1690.2,1480.2 1707.1,1493.8 1724.0,1478.8 1740.9,1467.3 1757.8,1458.8 1774.8,1458.6 1791.7,1458.3 1808.6,1455.4 1825.5,1463.8 1842.4,1450.4 1859.3,1428.5 1876.2,1459.3 1893.1,1443.3 1910.0,1441.5 1926.9,1445.7 1943.8,1439.8 1960.8,1436.9 1977.7,1437.6 1994.6,1435.0 2011.5,1440.5 2028.4,1429.1 2045.3,1437.5 2062.2,1441.3 2079.1,1421.2 2096.0,1439.4 2112.9,1439.1 2129.9,1447.5 2146.8,1429.9 2163.7,1436.3 2180.6,1430.9 2197.5,1419.2 2214.4,1419.1 2231.3,1426.0 2248.2,1416.4 2265.1,1416.2 2282.0,1419.0 2299.0,1423.5 2315.9,1413.4 2332.8,1425.9 2349.7,1412.7 2366.6,1415.1 2383.5,1423.6 2400.4,1423.4 2417.3,1401.1 2434.2,1431.5 2451.1,1417.9 2468.1,1420.8 2485.0,1415.8 2501.9,1417.0 2518.8,1413.3 2535.7,1414.8 2552.6,1419.9 2569.5,1429.2 2586.4,1422.2 2603.3,1417.0 2620.2,1417.3 2637.2,1413.3 2654.1,1422.1 2671.0,1428.9 2687.9,1424.9 2704.8,1419.7 2721.7,1415.2 2738.6,1415.1 2755.5,1416.7 2772.4,1430.1 2789.3,1424.8 2806.3,1418.6 2823.2,1420.1 2840.1,1416.8 2857.0,1430.5 2873.9,1418.5 2890.8,1440.8 2907.7,1426.1 2924.6,1422.5 2941.5,1425.4 2958.4,1417.6 2975.4,1424.8 2992.3,1423.4 3009.2,1419.2 3026.1,1429.7 3043.0,1414.3 3059.9,1428.5 3076.8,1420.5 3093.7,1423.3 3110.6,1427.6 3127.5,1424.4 3144.5,1423.2 3161.4,1428.5 3178.3,1411.3 3195.2,1432.5 3212.1,1426.1 3229.0,1419.0 3245.9,1423.2 3262.8,1419.7 3279.7,1437.0 3296.6,1428.7 3313.6,1427.2 3330.5,1419.4 3347.4,1433.2 3364.3,1428.4 3381.2,1416.0 3398.1,1426.0 3415.0,1425.9 3431.9,1429.4 3448.8,1421.5 3465.7,1441.7 3482.7,1435.0 3499.6,1433.7 3516.5,1429.4 3533.4,1430.4 3550.3,1444.6 3567.2,1430.2 3584.1,1436.8 3601.0,1413.0 3617.9,1433.5 3634.8,1425.0 3651.8,1435.8 3668.7,1434.1 3685.6,1438.3 3702.5,1427.4 3719.4,1424.6 3736.3,1441.8 3753.2,1430.4 3770.1,1428.9 3787.0,1425.2 3803.9,1437.7 3820.9,1424.5 3837.8,1442.2 3854.7,1433.1 3871.6,1437.8 3888.5,1436.8" stroke="#D95319"/>
<polyline points="1352.0,3732.9 1368.9,3584.5 1385.8,2903.5 1402.7,2276.9 1419.6,1832.3 1436.5,1737.8 1453.5,1680.0 1470.4,1637.0 1487.3,1604.7 1504.2,1569.0 1521.1,1546.4 1538.0,1531.4 1554.9,1521.4 1571.8,1509.3 1588.7,1497.4 1605.6,1479.5 1622.6,1468.1 1639.5,1460.5 1656.4,1458.7 1673.3,1452.6 1690.2,1452.1 1707.1,1435.8 1724.0,1431.0 1740.9,1429.9 1757.8,1434.4 1774.8,1434.6 1791.7,1419.0 1808.6,1405.4 1825.5,1409.6 1842.4,1417.2 1859.3,1398.9 1876.2,1403.3 1893.1,1392.0 1910.0,1375.6 1926.9,1395.1 1943.8,1401.7 1960.8,1416.7 1977.7,1394.8 1994.6,1383.2 2011.5,1382.7 2028.4,1382.5 2045.3,1376.4 2062.2,1379.8 2079.1,1379.9 2096.0,1383.0 2112.9,1382.8 2129.9,1375.3 2146.8,1381.6 2163.7,1382.3 2180.6,1381.6 2197.5,1377.4 2214.4,1374.1 2231.3,1370.7 2248.2,1371.9 2265.1,1373.8 2282.0,1381.3 2299.0,1365.8 2315.9,1375.5 2332.8,1369.4 2349.7,1360.1 2366.6,1366.1 2383.5,1373.0 2400.4,1363.1 2417.3,1369.5 2434.2,1370.9 2451.1,1359.6 2468.1,1363.2 2485.0,1346.7 2501.9,1374.5 2518.8,1367.2 2535.7,1364.3 2552.6,1358.3 2569.5,1368.4 2586.4,1356.1 2603.3,1365.1 2620.2,1370.6 2637.2,1366.5 2654.1,1365.5 2671.0,1365.7 2687.9,1368.4 2704.8,1365.6 2721.7,1357.4 2738.6,1357.7 2755.5,1350.7 2772.4,1368.2 2789.3,1369.3 2806.3,1348.3 2823.2,1359.2 2840.1,1358.8 2857.0,1366.6 2873.9,1358.1 2890.8,1360.0 2907.7,1360.0 2924.6,1352.1 2941.5,1364.9 2958.4,1358.4 2975.4,1370.7 2992.3,1356.2 3009.2,1366.1 3026.1,1347.0 3043.0,1367.5 3059.9,1348.0 3076.8,1364.0 3093.7,1368.9 3110.6,1356.9 3127.5,1356.8 3144.5,1364.4 3161.4,1366.4 3178.3,1373.6 3195.2,1360.1 3212.1,1355.6 3229.0,1371.0 3245.9,1356.8 3262.8,1347.1 3279.7,1369.0 3296.6,1353.7 3313.6,1353.8 3330.5,1361.3 3347.4,1355.1 3364.3,1364.3 3381.2,1354.1 3398.1,1346.4 3415.0,1359.1 3431.9,1360.9 3448.8,1369.9 3465.7,1344.5 3482.7,1344.4 3499.6,1359.8 3516.5,1355.9 3533.4,1357.1 3550.3,1347.5 3567.2,1366.6 3584.1,1351.9 3601.0,1371.0 3617.9,1351.9 3634.8,1361.0 3651.8,1347.6 3668.7,1352.5 3685.6,1360.0 3702.5,1360.8 3719.4,1363.8 3736.3,1345.0 3753.2,1349.0 3770.1,1359.9 3787.0,1364.6 3803.9,1352.6 3820.9,1355.8 3837.8,1359.0 3854.7,1355.1 3871.6,1351.5 3888.5,1356.0" stroke="#EDB120"/>
<polyline points="1352.0,3732.9 1368.9,3732.9 1385.8,3732.9 1402.7,3732.9 1419.6,3732.9 1436.5,3703.3 1453.5,3494.4 1470.4,3198.2 1487.3,2845.8 1504.2,2545.4 1521.1,2336.8 1538.0,2126.7 1554.9,2084.0 1571.8,1967.0 1588.7,1935.5 1605.6,1882.4 1622.6,1815.9 1639.5,1766.3 1656.4,1756.1 1673.3,1722.8 1690.2,1759.3 1707.1,1699.4 1724.0,1661.3 1740.9,1656.0 1757.8,1636.8 1774.8,1612.1 1791.7,1602.8 1808.6,1582.6 1825.5,1614.7 1842.4,1602.0 1859.3,1592.8 1876.2,1551.3 1893.1,1539.7 1910.0,1557.4 1926.9,1538.0 1943.8,1559.4 1960.8,1542.8 1977.7,1532.1 1994.6,1534.8 2011.5,1525.0 2028.4,1514.9 2045.3,1517.2 2062.2,1526.4 2079.1,1502.4 2096.0,1497.5 2112.9,1502.5 2129.9,1502.8 2146.8,1501.8 2163.7,1511.9 2180.6,1501.8 2197.5,1485.1 2214.4,1485.7 2231.3,1484.8 2248.2,1488.7 2265.1,1484.1 2282.0,1474.9 2299.0,1476.8 2315.9,1478.7 2332.8,1485.5 2349.7,1481.8 2366.6,1491.1 2383.5,1487.6 2400.4,1479.6 2417.3,1496.5 2434.2,1480.7 2451.1,1489.8 2468.1,1499.1 2485.0,1489.7 2501.9,1488.7 2518.8,1474.5 2535.7,1473.6 2552.6,1465.0 2569.5,1481.7 2586.4,1480.6 2603.3,1478.8 2620.2,1467.1 2637.2,1472.4 2654.1,1476.1 2671.0,1481.4 2687.9,1462.4 2704.8,1485.5 2721.7,1475.9 2738.6,1475.0 2755.5,1469.2 2772.4,1481.6 2789.3,1463.8 2806.3,1473.1 2823.2,1478.2 2840.1,1476.0 2857.0,1471.5 2873.9,1474.6 2890.8,1464.8 2907.7,1476.5 2924.6,1467.2 2941.5,1456.8 2958.4,1467.4 2975.4,1462.7 2992.3,1463.3 3009.2,1481.1 3026.1,1460.7 3043.0,1469.4 3059.9,1463.0 3076.8,1461.2 3093.7,1465.2 3110.6,1466.8 3127.5,1476.5 3144.5,1462.7 3161.4,1467.3 3178.3,1464.7 3195.2,1461.2 3212.1,1474.9 3229.0,1461.0 3245.9,1458.4 3262.8,1469.8 3279.7,1478.7 3296.6,1453.4 3313.6,1462.7 3330.5,1463.8 3347.4,1466.9 3364.3,1470.9 3381.2,1471.1 3398.1,1465.8 3415.0,1466.2 3431.9,1468.9 3448.8,1472.4 3465.7,1465.5 3482.7,1473.9 3499.6,1477.0 3516.5,1475.7 3533.4,1477.1 3550.3,1462.4 3567.2,1471.3 3584.1,1461.3 3601.0,1463.8 3617.9,1454.9 3634.8,1461.4 3651.8,1461.1 3668.7,1469.7 3685.6,1477.7 3702.5,1461.9 3719.4,1458.4 3736.3,1468.6 3753.2,1469.3 3770.1,1468.5 3787.0,1470.5 3803.9,1458.2 3820.9,1466.8 3837.8,1460.9 3854.7,1463.6 3871.6,1471.5 3888.5,1453.4" stroke="#7E2F8E" stroke-dasharray="26 24" stroke-linecap="butt"/>
<polyline points="1352.0,3732.9 1368.9,3732.9 1385.8,3732.9 1402.7,3732.9 1419.6,3732.9 1436.5,3673.6 1453.5,3289.0 1470.4,2779.7 1487.3,2223.4 1504.2,1995.1 1521.1,1894.8 1538.0,1789.6 1554.9,1746.3 1571.8,1717.5 1588.7,1691.0 1605.6,1652.1 1622.6,1638.4 1639.5,1598.3 1656.4,1582.3 1673.3,1558.5 1690.2,1533.7 1707.1,1552.5 1724.0,1500.6 1740.9,1493.8 1757.8,1538.3 1774.8,1532.8 1791.7,1503.7 1808.6,1500.2 1825.5,1493.8 1842.4,1470.5 1859.3,1476.0 1876.2,1480.7 1893.1,1448.0 1910.0,1448.3 1926.9,1443.3 1943.8,1439.0 1960.8,1436.7 1977.7,1439.4 1994.6,1431.4 2011.5,1443.9 2028.4,1429.0 2045.3,1440.8 2062.2,1425.8 2079.1,1430.9 2096.0,1422.9 2112.9,1427.4 2129.9,1424.4 2146.8,1425.4 2163.7,1419.8 2180.6,1406.2 2197.5,1411.0 2214.4,1406.2 2231.3,1420.0 2248.2,1404.2 2265.1,1405.9 2282.0,1414.7 2299.0,1413.9 2315.9,1406.2 2332.8,1407.1 2349.7,1396.2 2366.6,1398.6 2383.5,1405.7 2400.4,1416.9 2417.3,1406.3 2434.2,1416.8 2451.1,1407.2 2468.1,1406.1 2485.0,1405.4 2501.9,1405.8 2518.8,1413.2 2535.7,1411.3 2552.6,1422.4 2569.5,1403.9 2586.4,1401.4 2603.3,1407.6 2620.2,1414.9 2637.2,1405.3 2654.1,1412.0 2671.0,1408.8 2687.9,1395.3 2704.8,1408.4 2721.7,1413.4 2738.6,1405.0 2755.5,1409.5 2772.4,1416.5 2789.3,1408.0 2806.3,1401.8 2823.2,1412.3 2840.1,1400.2 2857.0,1411.2 2873.9,1419.2 2890.8,1407.4 2907.7,1415.5 2924.6,1403.3 2941.5,1414.0 2958.4,1409.9 2975.4,1412.4 2992.3,1407.7 3009.2,1405.1 3026.1,1408.4 3043.0,1417.6 3059.9,1401.3 3076.8,1403.4 3093.7,1420.2 3110.6,1399.6 3127.5,1410.1 3144.5,1406.0 3161.4,1402.6 3178.3,1397.0 3195.2,1406.3 3212.1,1408.2 3229.0,1404.8 3245.9,1401.9 3262.8,1415.1 3279.7,1410.2 3296.6,1407.4 3313.6,1410.6 3330.5,1407.6 3347.4,1405.1 3364.3,1406.1 3381.2,1397.8 3398.1,1409.8 3415.0,1402.8 3431.9,1403.8 3448.8,1394.5 3465.7,1389.9 3482.7,1407.9 3499.6,1404.9 3516.5,1408.2 3533.4,1405.3 3550.3,1406.1 3567.2,1408.4 3584.1,1411.4 3601.0,1408.5 3617.9,1419.5 3634.8,1397.0 3651.8,1411.1 3668.7,1416.5 3685.6,1400.0 3702.5,1407.5 3719.4,1393.0 3736.3,1413.4 3753.2,1403.5 3770.1,1411.1 3787.0,1405.2 3803.9,1410.7 3820.9,1407.4 3837.8,1409.8 3854.7,1408.6 3871.6,1395.3 3888.5,1405.7" stroke="#77AC30" stroke-dasharray="26 24" stroke-linecap="butt"/>
<polyline points="1352.0,3732.9 1368.9,3732.9 1385.8,3732.9 1402.7,3732.9 1419.6,3732.9 1436.5,3554.3 1453.5,2753.7 1470.4,2193.2 1487.3,1909.4 1504.2,1796.8 1521.1,1738.3 1538.0,1687.8 1554.9,1641.8 1571.8,1618.5 1588.7,1595.4 1605.6,1574.5 1622.6,1555.7 1639.5,1531.5 1656.4,1515.1 1673.3,1499.9 1690.2,1494.9 1707.1,1486.7 1724.0,1489.2 1740.9,1470.7 1757.8,1463.1 1774.8,1464.5 1791.7,1459.2 1808.6,1455.3 1825.5,1440.4 1842.4,1424.7 1859.3,1420.7 1876.2,1433.6 1893.1,1428.3 1910.0,1423.0 1926.9,1428.4 1943.8,1401.2 1960.8,1398.9 1977.7,1400.4 1994.6,1398.6 2011.5,1397.8 2028.4,1389.5 2045.3,1391.1 2062.2,1400.6 2079.1,1402.0 2096.0,1395.7 2112.9,1402.2 2129.9,1394.2 2146.8,1400.0 2163.7,1387.4 2180.6,1390.2 2197.5,1384.5 2214.4,1383.4 2231.3,1378.1 2248.2,1384.3 2265.1,1377.6 2282.0,1372.5 2299.0,1374.6 2315.9,1387.7 2332.8,1371.2 2349.7,1371.3 2366.6,1375.6 2383.5,1375.1 2400.4,1366.8 2417.3,1348.4 2434.2,1371.9 2451.1,1365.5 2468.1,1362.1 2485.0,1353.9 2501.9,1363.8 2518.8,1348.9 2535.7,1361.9 2552.6,1363.0 2569.5,1360.9 2586.4,1360.2 2603.3,1350.2 2620.2,1366.7 2637.2,1361.4 2654.1,1357.7 2671.0,1360.7 2687.9,1359.7 2704.8,1351.5 2721.7,1363.9 2738.6,1365.9 2755.5,1366.3 2772.4,1354.3 2789.3,1368.0 2806.3,1358.9 2823.2,1369.5 2840.1,1354.7 2857.0,1356.9 2873.9,1360.6 2890.8,1352.0 2907.7,1350.3 2924.6,1356.4 2941.5,1345.4 2958.4,1353.0 2975.4,1348.6 2992.3,1355.7 3009.2,1356.7 3026.1,1363.2 3043.0,1358.2 3059.9,1363.1 3076.8,1364.7 3093.7,1358.8 3110.6,1371.4 3127.5,1347.4 3144.5,1358.7 3161.4,1369.7 3178.3,1365.8 3195.2,1361.3 3212.1,1360.7 3229.0,1355.8 3245.9,1360.6 3262.8,1353.3 3279.7,1357.2 3296.6,1361.9 3313.6,1361.5 3330.5,1360.9 3347.4,1356.5 3364.3,1357.5 3381.2,1371.1 3398.1,1360.0 3415.0,1366.1 3431.9,1344.8 3448.8,1355.7 3465.7,1356.6 3482.7,1367.8 3499.6,1367.6 3516.5,1353.2 3533.4,1354.1 3550.3,1362.8 3567.2,1360.5 3584.1,1351.2 3601.0,1357.8 3617.9,1364.5 3634.8,1362.6 3651.8,1359.8 3668.7,1358.3 3685.6,1357.2 3702.5,1363.9 3719.4,1355.0 3736.3,1350.7 3753.2,1352.1 3770.1,1361.1 3787.0,1354.8 3803.9,1362.4 3820.9,1346.5 3837.8,1357.3 3854.7,1355.7 3871.6,1362.0 3888.5,1342.5" stroke="#4DBEEE" stroke-dasharray="26 24" stroke-linecap="butt"/>
<polyline points="1352.0,3732.9 1368.9,3673.6 1385.8,3435.0 1402.7,3079.3 1419.6,2693.8 1436.5,2234.4 1453.5,2056.6 1470.4,1987.5 1487.3,1956.7 1504.2,1935.1 1521.1,1897.8 1538.0,1883.3 1554.9,1870.3 1571.8,1791.1 1588.7,1745.2 1605.6,1721.9 1622.6,1703.6 1639.5,1691.7 1656.4,1676.8 1673.3,1656.6 1690.2,1647.3 1707.1,1631.6 1724.0,1621.6 1740.9,1596.0 1757.8,1593.8 1774.8,1607.1 1791.7,1587.5 1808.6,1589.5 1825.5,1552.9 1842.4,1560.3 1859.3,1552.8 1876.2,1533.5 1893.1,1520.1 1910.0,1532.7 1926.9,1526.2 1943.8,1519.0 1960.8,1522.6 1977.7,1502.2 1994.6,1504.4 2011.5,1501.2 2028.4,1491.8 2045.3,1501.5 2062.2,1482.8 2079.1,1485.6 2096.0,1483.6 2112.9,1476.5 2129.9,1490.4 2146.8,1475.3 2163.7,1466.6 2180.6,1471.0 2197.5,1469.2 2214.4,1470.6 2231.3,1475.8 2248.2,1471.1 2265.1,1465.9 2282.0,1466.8 2299.0,1475.9 2315.9,1449.3 2332.8,1464.3 2349.7,1464.1 2366.6,1466.8 2383.5,1467.7 2400.4,1464.0 2417.3,1468.0 2434.2,1465.9 2451.1,1470.9 2468.1,1477.5 2485.0,1469.7 2501.9,1469.5 2518.8,1476.8 2535.7,1467.9 2552.6,1478.3 2569.5,1473.2 2586.4,1464.4 2603.3,1467.8 2620.2,1459.5 2637.2,1461.2 2654.1,1461.6 2671.0,1468.5 2687.9,1463.6 2704.8,1467.6 2721.7,1462.6 2738.6,1465.8 2755.5,1464.9 2772.4,1471.4 2789.3,1467.8 2806.3,1458.4 2823.2,1480.2 2840.1,1475.7 2857.0,1464.5 2873.9,1465.2 2890.8,1462.4 2907.7,1459.3 2924.6,1459.7 2941.5,1466.7 2958.4,1463.7 2975.4,1463.6 2992.3,1469.3 3009.2,1472.9 3026.1,1473.7 3043.0,1473.9 3059.9,1461.7 3076.8,1458.4 3093.7,1455.8 3110.6,1460.7 3127.5,1462.2 3144.5,1460.9 3161.4,1466.2 3178.3,1467.1 3195.2,1464.1 3212.1,1462.6 3229.0,1479.8 3245.9,1473.8 3262.8,1463.8 3279.7,1463.0 3296.6,1465.1 3313.6,1472.9 3330.5,1461.3 3347.4,1469.5 3364.3,1460.4 3381.2,1458.7 3398.1,1460.2 3415.0,1477.6 3431.9,1455.8 3448.8,1464.4 3465.7,1453.2 3482.7,1465.4 3499.6,1461.7 3516.5,1465.0 3533.4,1467.5 3550.3,1463.2 3567.2,1463.8 3584.1,1472.4 3601.0,1464.9 3617.9,1450.2 3634.8,1452.6 3651.8,1464.8 3668.7,1461.7 3685.6,1477.0 3702.5,1467.6 3719.4,1459.2 3736.3,1462.4 3753.2,1464.5 3770.1,1461.9 3787.0,1456.1 3803.9,1465.8 3820.9,1473.0 3837.8,1466.2 3854.7,1462.9 3871.6,1466.3 3888.5,1469.1" stroke="#A2142F" stroke-dasharray="7.0 8.6" stroke-linecap="butt"/>
<polyline points="1352.0,3732.9 1368.9,3643.9 1385.8,3139.9 1402.7,2607.1 1419.6,2189.6 1436.5,1934.5 1453.5,1877.5 1470.4,1819.4 1487.3,1775.9 1504.2,1736.7 1521.1,1699.6 1538.0,1684.2 1554.9,1650.9 1571.8,1623.4 1588.7,1595.8 1605.6,1579.4 1622.6,1573.7 1639.5,1568.3 1656.4,1564.6 1673.3,1556.1 1690.2,1549.4 1707.1,1543.8 1724.0,1529.2 1740.9,1515.0 1757.8,1502.4 1774.8,1499.0 1791.7,1506.6 1808.6,1497.4 1825.5,1497.6 1842.4,1489.8 1859.3,1479.1 1876.2,1467.0 1893.1,1456.6 1910.0,1450.2 1926.9,1467.9 1943.8,1450.5 1960.8,1460.7 1977.7,1453.7 1994.6,1456.8 2011.5,1448.5 2028.4,1450.4 2045.3,1437.9 2062.2,1436.9 2079.1,1441.0 2096.0,1427.8 2112.9,1431.6 2129.9,1437.9 2146.8,1425.2 2163.7,1431.6 2180.6,1419.1 2197.5,1430.3 2214.4,1428.8 2231.3,1421.5 2248.2,1418.2 2265.1,1417.8 2282.0,1429.2 2299.0,1419.3 2315.9,1435.3 2332.8,1417.6 2349.7,1431.5 2366.6,1410.8 2383.5,1415.6 2400.4,1419.4 2417.3,1401.2 2434.2,1404.2 2451.1,1404.9 2468.1,1402.0 2485.0,1403.4 2501.9,1404.6 2518.8,1404.8 2535.7,1396.8 2552.6,1416.4 2569.5,1416.0 2586.4,1409.5 2603.3,1404.8 2620.2,1406.7 2637.2,1396.4 2654.1,1415.3 2671.0,1409.0 2687.9,1406.6 2704.8,1401.5 2721.7,1410.9 2738.6,1408.3 2755.5,1414.1 2772.4,1401.0 2789.3,1405.1 2806.3,1425.1 2823.2,1404.3 2840.1,1410.0 2857.0,1410.8 2873.9,1405.7 2890.8,1397.3 2907.7,1410.4 2924.6,1420.6 2941.5,1398.8 2958.4,1392.6 2975.4,1406.9 2992.3,1409.0 3009.2,1406.5 3026.1,1411.8 3043.0,1405.7 3059.9,1405.7 3076.8,1397.0 3093.7,1411.8 3110.6,1402.3 3127.5,1403.5 3144.5,1402.1 3161.4,1406.7 3178.3,1406.5 3195.2,1391.4 3212.1,1402.4 3229.0,1410.9 3245.9,1414.3 3262.8,1409.8 3279.7,1413.1 3296.6,1410.4 3313.6,1413.1 3330.5,1408.0 3347.4,1403.1 3364.3,1399.0 3381.2,1400.6 3398.1,1401.3 3415.0,1403.8 3431.9,1397.6 3448.8,1407.1 3465.7,1408.5 3482.7,1400.7 3499.6,1408.2 3516.5,1407.9 3533.4,1408.3 3550.3,1406.1 3567.2,1402.4 3584.1,1416.7 3601.0,1406.5 3617.9,1408.9 3634.8,1409.7 3651.8,1400.4 3668.7,1405.0 3685.6,1396.3 3702.5,1406.4 3719.4,1404.4 3736.3,1412.5 3753.2,1406.2 3770.1,1400.5 3787.0,1394.8 3803.9,1408.3 3820.9,1406.8 3837.8,1418.4 3854.7,1407.7 3871.6,1404.6 3888.5,1408.0" stroke="#0072BD" stroke-dasharray="7.0 8.6" stroke-linecap="butt"/>
<polyline points="1352.0,3732.9 1368.9,3553.5 1385.8,2898.2 1402.7,2253.3 1419.6,1950.9 1436.5,1779.3 1453.5,1719.4 1470.4,1704.3 1487.3,1677.7 1504.2,1651.5 1521.1,1635.0 1538.0,1618.2 1554.9,1599.0 1571.8,1570.9 1588.7,1549.8 1605.6,1542.6 1622.6,1530.2 1639.5,1520.0 1656.4,1506.0 1673.3,1496.6 1690.2,1485.1 1707.1,1463.9 1724.0,1470.1 1740.9,1453.9 1757.8,1455.8 1774.8,1459.6 1791.7,1435.6 1808.6,1446.7 1825.5,1437.6 1842.4,1437.0 1859.3,1415.7 1876.2,1421.5 1893.1,1430.3 1910.0,1421.3 1926.9,1409.0 1943.8,1412.5 1960.8,1405.8 1977.7,1408.9 1994.6,1406.3 2011.5,1397.8 2028.4,1394.0 2045.3,1406.4 2062.2,1383.5 2079.1,1398.5 2096.0,1390.2 2112.9,1393.3 2129.9,1393.5 2146.8,1366.9 2163.7,1399.3 2180.6,1381.6 2197.5,1383.8 2214.4,1387.8 2231.3,1394.7 2248.2,1378.3 2265.1,1373.6 2282.0,1372.3 2299.0,1387.5 2315.9,1380.0 2332.8,1359.5 2349.7,1386.7 2366.6,1378.4 2383.5,1367.2 2400.4,1374.5 2417.3,1367.6 2434.2,1372.2 2451.1,1373.6 2468.1,1379.6 2485.0,1374.4 2501.9,1369.6 2518.8,1366.1 2535.7,1378.4 2552.6,1373.5 2569.5,1378.4 2586.4,1364.0 2603.3,1368.1 2620.2,1373.4 2637.2,1366.7 2654.1,1358.2 2671.0,1358.3 2687.9,1364.7 2704.8,1390.3 2721.7,1365.9 2738.6,1366.9 2755.5,1360.9 2772.4,1369.4 2789.3,1373.8 2806.3,1363.8 2823.2,1372.1 2840.1,1363.1 2857.0,1360.0 2873.9,1355.7 2890.8,1357.4 2907.7,1351.2 2924.6,1365.4 2941.5,1364.2 2958.4,1377.9 2975.4,1366.2 2992.3,1361.1 3009.2,1351.0 3026.1,1360.3 3043.0,1349.5 3059.9,1367.5 3076.8,1371.9 3093.7,1357.8 3110.6,1363.9 3127.5,1361.6 3144.5,1346.3 3161.4,1364.3 3178.3,1358.5 3195.2,1353.0 3212.1,1365.8 3229.0,1367.6 3245.9,1358.1 3262.8,1364.1 3279.7,1347.9 3296.6,1354.7 3313.6,1351.5 3330.5,1351.6 3347.4,1357.5 3364.3,1360.8 3381.2,1357.8 3398.1,1357.1 3415.0,1362.8 3431.9,1356.4 3448.8,1363.4 3465.7,1349.5 3482.7,1361.5 3499.6,1352.2 3516.5,1358.1 3533.4,1359.3 3550.3,1356.4 3567.2,1355.2 3584.1,1363.5 3601.0,1353.5 3617.9,1353.6 3634.8,1359.4 3651.8,1354.1 3668.7,1352.4 3685.6,1363.7 3702.5,1361.6 3719.4,1365.3 3736.3,1360.3 3753.2,1359.6 3770.1,1357.4 3787.0,1359.7 3803.9,1361.1 3820.9,1355.7 3837.8,1361.6 3854.7,1355.4 3871.6,1356.0 3888.5,1351.4" stroke="#D95319" stroke-dasharray="7.0 8.6" stroke-linecap="butt"/>
</g>
<rect x="1917.0" y="1948.0" width="459.0" height="322.0" fill="#fff"/>
<line x1="1937.4" y1="1987.8" x2="2065.2" y2="1987.8" stroke="#7E2F8E" stroke-width="6" stroke-dasharray="26 25"/>
<text transform="translate(2081.0 2012.3) scale(1 1.050)" font-family="Liberation Sans, Arial, sans-serif" font-size="60" fill="#000">4-sparse</text>
<line x1="1937.4" y1="2105.6" x2="2065.2" y2="2105.6" stroke="#77AC30" stroke-width="6" stroke-dasharray="26 25"/>
<text transform="translate(2081.0 2130.1) scale(1 1.050)" font-family="Liberation Sans, Arial, sans-serif" font-size="60" fill="#000">6-sparse</text>
<line x1="1937.4" y1="2224.0" x2="2065.2" y2="2224.0" stroke="#4DBEEE" stroke-width="6" stroke-dasharray="26 25"/>
<text transform="translate(2081.0 2248.5) scale(1 1.050)" font-family="Liberation Sans, Arial, sans-serif" font-size="60" fill="#000">8-sparse</text>
<rect x="246.7" y="1312.5" width="1020.7" height="995.7" fill="none" stroke="#303030" stroke-width="2.2"/>
<g stroke="#303030" stroke-width="2">
<line x1="246.7" y1="2308.2" x2="246.7" y2="2297.2"/>
<line x1="246.7" y1="1312.5" x2="246.7" y2="1323.5"/>
<line x1="586.9" y1="2308.2" x2="586.9" y2="2297.2"/>
<line x1="586.9" y1="1312.5" x2="586.9" y2="1323.5"/>
<line x1="927.2" y1="2308.2" x2="927.2" y2="2297.2"/>
<line x1="927.2" y1="1312.5" x2="927.2" y2="1323.5"/>
<line x1="1267.4" y1="2308.2" x2="1267.4" y2="2297.2"/>
<line x1="1267.4" y1="1312.5" x2="1267.4" y2="1323.5"/>
<line x1="246.7" y1="2109.1" x2="257.7" y2="2109.1"/>
<line x1="1267.4" y1="2109.1" x2="1256.4" y2="2109.1"/>
<line x1="246.7" y1="1909.9" x2="257.7" y2="1909.9"/>
<line x1="1267.4" y1="1909.9" x2="1256.4" y2="1909.9"/>
<line x1="246.7" y1="1710.8" x2="257.7" y2="1710.8"/>
<line x1="1267.4" y1="1710.8" x2="1256.4" y2="1710.8"/>
<line x1="246.7" y1="1511.6" x2="257.7" y2="1511.6"/>
<line x1="1267.4" y1="1511.6" x2="1256.4" y2="1511.6"/>
<line x1="246.7" y1="1312.5" x2="257.7" y2="1312.5"/>
<line x1="1267.4" y1="1312.5" x2="1256.4" y2="1312.5"/>
</g>
<g font-family="Liberation Sans, Arial, sans-serif" font-size="66.0" fill="#1a1a1a">
<text transform="translate(246.7 2397.8) scale(1 1.050)" text-anchor="middle">0</text>
<text transform="translate(586.9 2397.8) scale(1 1.050)" text-anchor="middle">50</text>
<text transform="translate(927.2 2397.8) scale(1 1.050)" text-anchor="middle">100</text>
<text transform="translate(1267.4 2397.8) scale(1 1.050)" text-anchor="middle">150</text>
<text transform="translate(223.5 2135.1) scale(1 1.050)" text-anchor="end">20</text>
<text transform="translate(223.5 1935.9) scale(1 1.050)" text-anchor="end">40</text>
<text transform="translate(223.5 1736.8) scale(1 1.050)" text-anchor="end">60</text>
<text transform="translate(223.5 1537.6) scale(1 1.050)" text-anchor="end">80</text>
<text transform="translate(223.5 1338.5) scale(1 1.050)" text-anchor="end">100</text>
</g>
<rect x="1380.8" y="1319.0" width="1050.6" height="989.5" fill="none" stroke="#303030" stroke-width="2.2"/>
<g stroke="#303030" stroke-width="2">
<line x1="1690.2" y1="2308.5" x2="1690.2" y2="2297.5"/>
<line x1="1690.2" y1="1319.0" x2="1690.2" y2="1330.0"/>
<line x1="2028.4" y1="2308.5" x2="2028.4" y2="2297.5"/>
<line x1="2028.4" y1="1319.0" x2="2028.4" y2="1330.0"/>
<line x1="2366.6" y1="2308.5" x2="2366.6" y2="2297.5"/>
<line x1="2366.6" y1="1319.0" x2="2366.6" y2="1330.0"/>
<line x1="1380.8" y1="2249.1" x2="1391.8" y2="2249.1"/>
<line x1="2431.4" y1="2249.1" x2="2420.4" y2="2249.1"/>
<line x1="1380.8" y1="2100.7" x2="1391.8" y2="2100.7"/>
<line x1="2431.4" y1="2100.7" x2="2420.4" y2="2100.7"/>
<line x1="1380.8" y1="1952.3" x2="1391.8" y2="1952.3"/>
<line x1="2431.4" y1="1952.3" x2="2420.4" y2="1952.3"/>
<line x1="1380.8" y1="1803.9" x2="1391.8" y2="1803.9"/>
<line x1="2431.4" y1="1803.9" x2="2420.4" y2="1803.9"/>
<line x1="1380.8" y1="1655.6" x2="1391.8" y2="1655.6"/>
<line x1="2431.4" y1="1655.6" x2="2420.4" y2="1655.6"/>
<line x1="1380.8" y1="1507.2" x2="1391.8" y2="1507.2"/>
<line x1="2431.4" y1="1507.2" x2="2420.4" y2="1507.2"/>
<line x1="1380.8" y1="1358.8" x2="1391.8" y2="1358.8"/>
<line x1="2431.4" y1="1358.8" x2="2420.4" y2="1358.8"/>
</g>
<g font-family="Liberation Sans, Arial, sans-serif" font-size="66.0" fill="#1a1a1a">
<text transform="translate(1690.2 2397.8) scale(1 1.050)" text-anchor="middle">20</text>
<text transform="translate(2028.4 2397.8) scale(1 1.050)" text-anchor="middle">40</text>
<text transform="translate(2366.6 2397.8) scale(1 1.050)" text-anchor="middle">60</text>
<text transform="translate(1357.6 2275.1) scale(1 1.050)" text-anchor="end">60</text>
<text transform="translate(1357.6 2126.7) scale(1 1.050)" text-anchor="end">65</text>
<text transform="translate(1357.6 1978.3) scale(1 1.050)" text-anchor="end">70</text>
<text transform="translate(1357.6 1829.9) scale(1 1.050)" text-anchor="end">75</text>
<text transform="translate(1357.6 1681.6) scale(1 1.050)" text-anchor="end">80</text>
<text transform="translate(1357.6 1533.2) scale(1 1.050)" text-anchor="end">85</text>
<text transform="translate(1357.6 1384.8) scale(1 1.050)" text-anchor="end">90</text>
</g>
<g stroke="#e9e9e9" stroke-width="3" fill="none">
<line x1="594.3" y1="2619.0" x2="594.3" y2="3682.8"/>
<line x1="969.7" y1="2619.0" x2="969.7" y2="3682.8"/>
<line x1="218.8" y1="3470.0" x2="1344.7" y2="3470.0"/>
<line x1="218.8" y1="3257.3" x2="1344.7" y2="3257.3"/>
<line x1="218.8" y1="3044.5" x2="1344.7" y2="3044.5"/>
<line x1="218.8" y1="2831.8" x2="1344.7" y2="2831.8"/>
</g>
<clipPath id="cCl"><rect x="218.8" y="2619.0" width="1125.9" height="1063.8"/></clipPath>
<g clip-path="url(#cCl)" fill="none" stroke-width="5.9" stroke-linejoin="round">
<polyline points="218.8,3576.4 226.3,3555.1 233.8,3416.7 241.3,3194.1 248.8,3044.1 256.3,2970.8 263.9,2924.4 271.4,2897.2 278.9,2884.7 286.4,2869.7 293.9,2856.6 301.4,2850.8 308.9,2845.1 316.4,2835.0 323.9,2825.0 331.4,2822.4 338.9,2822.6 346.5,2811.6 354.0,2808.7 361.5,2806.8 369.0,2804.9 376.5,2798.8 384.0,2796.4 391.5,2799.1 399.0,2791.6 406.5,2796.7 414.0,2790.2 421.6,2790.3 429.1,2784.4 436.6,2788.2 444.1,2781.2 451.6,2782.3 459.1,2784.9 466.6,2782.3 474.1,2778.6 481.6,2780.7 489.1,2778.5 496.6,2781.4 504.2,2778.9 511.7,2780.3 519.2,2778.3 526.7,2777.7 534.2,2777.8 541.7,2777.0 549.2,2771.7 556.7,2772.0 564.2,2766.9 571.7,2768.0 579.2,2773.5 586.8,2775.5 594.3,2773.3 601.8,2776.1 609.3,2772.4 616.8,2770.6 624.3,2769.5 631.8,2769.1 639.3,2772.6 646.8,2775.8 654.3,2778.0 661.9,2773.7 669.4,2768.7 676.9,2777.1 684.4,2769.0 691.9,2776.0 699.4,2773.8 706.9,2771.5 714.4,2766.8 721.9,2772.3 729.4,2768.0 736.9,2767.4 744.5,2767.3 752.0,2769.9 759.5,2768.9 767.0,2768.6 774.5,2768.0 782.0,2769.9 789.5,2770.8 797.0,2776.5 804.5,2772.4 812.0,2769.4 819.5,2766.1 827.1,2762.6 834.6,2768.1 842.1,2767.9 849.6,2769.1 857.1,2762.1 864.6,2768.0 872.1,2767.0 879.6,2765.4 887.1,2766.3 894.6,2759.6 902.1,2762.3 909.7,2764.7 917.2,2760.7 924.7,2764.9 932.2,2760.3 939.7,2761.1 947.2,2765.8 954.7,2764.6 962.2,2763.1 969.7,2766.4 977.2,2761.1 984.8,2764.0 992.3,2763.8 999.8,2764.8 1007.3,2763.0 1014.8,2761.4 1022.3,2761.1 1029.8,2760.5 1037.3,2759.6 1044.8,2761.7 1052.3,2763.9 1059.8,2761.4 1067.4,2764.7 1074.9,2762.0 1082.4,2762.8 1089.9,2762.7 1097.4,2762.3 1104.9,2764.4 1112.4,2766.4 1119.9,2762.8 1127.4,2758.1 1134.9,2765.4 1142.4,2761.9 1150.0,2760.1 1157.5,2760.7 1165.0,2761.6 1172.5,2762.6 1180.0,2756.2 1187.5,2760.3 1195.0,2759.1 1202.5,2759.5 1210.0,2763.8 1217.5,2761.0 1225.1,2758.6 1232.6,2761.0 1240.1,2762.1 1247.6,2763.5 1255.1,2760.6 1262.6,2761.5 1270.1,2758.1 1277.6,2765.2 1285.1,2760.9 1292.6,2762.9 1300.1,2759.9 1307.7,2760.5 1315.2,2759.5 1322.7,2759.1 1330.2,2761.6 1337.7,2764.3 1345.2,2760.6" stroke="#0072BD"/>
<polyline points="218.8,3576.4 226.3,3544.5 233.8,3278.1 241.3,3043.5 248.8,2948.9 256.3,2895.8 263.9,2860.4 271.4,2844.0 278.9,2834.2 286.4,2821.8 293.9,2815.1 301.4,2811.9 308.9,2799.7 316.4,2796.2 323.9,2792.5 331.4,2788.5 338.9,2785.1 346.5,2780.5 354.0,2778.4 361.5,2776.4 369.0,2770.5 376.5,2772.7 384.0,2765.6 391.5,2772.3 399.0,2769.1 406.5,2765.5 414.0,2766.4 421.6,2760.7 429.1,2760.6 436.6,2758.0 444.1,2757.9 451.6,2751.4 459.1,2753.1 466.6,2756.0 474.1,2752.2 481.6,2757.0 489.1,2753.6 496.6,2758.7 504.2,2756.6 511.7,2751.7 519.2,2749.2 526.7,2749.7 534.2,2749.7 541.7,2749.5 549.2,2751.3 556.7,2748.5 564.2,2747.0 571.7,2743.1 579.2,2745.3 586.8,2751.3 594.3,2747.0 601.8,2748.4 609.3,2748.7 616.8,2745.1 624.3,2743.6 631.8,2743.4 639.3,2747.3 646.8,2745.7 654.3,2744.0 661.9,2742.3 669.4,2745.6 676.9,2745.4 684.4,2748.5 691.9,2750.0 699.4,2746.6 706.9,2746.3 714.4,2750.0 721.9,2747.0 729.4,2747.4 736.9,2748.7 744.5,2745.8 752.0,2743.1 759.5,2746.7 767.0,2743.0 774.5,2752.8 782.0,2744.7 789.5,2746.6 797.0,2747.7 804.5,2747.1 812.0,2752.3 819.5,2748.2 827.1,2746.8 834.6,2744.1 842.1,2748.5 849.6,2749.0 857.1,2748.0 864.6,2744.5 872.1,2745.7 879.6,2747.6 887.1,2744.9 894.6,2745.7 902.1,2743.5 909.7,2747.2 917.2,2746.2 924.7,2746.2 932.2,2748.5 939.7,2744.3 947.2,2744.2 954.7,2744.7 962.2,2745.2 969.7,2747.8 977.2,2745.4 984.8,2745.2 992.3,2746.2 999.8,2744.6 1007.3,2743.2 1014.8,2739.7 1022.3,2743.6 1029.8,2743.4 1037.3,2744.1 1044.8,2748.3 1052.3,2743.8 1059.8,2743.6 1067.4,2737.9 1074.9,2744.0 1082.4,2742.8 1089.9,2743.5 1097.4,2746.1 1104.9,2740.7 1112.4,2741.5 1119.9,2741.4 1127.4,2745.3 1134.9,2739.9 1142.4,2746.4 1150.0,2741.7 1157.5,2737.9 1165.0,2745.3 1172.5,2744.2 1180.0,2742.6 1187.5,2744.0 1195.0,2746.4 1202.5,2742.6 1210.0,2745.2 1217.5,2741.6 1225.1,2744.8 1232.6,2739.0 1240.1,2744.4 1247.6,2743.3 1255.1,2740.6 1262.6,2745.4 1270.1,2742.0 1277.6,2739.4 1285.1,2746.2 1292.6,2742.0 1300.1,2741.8 1307.7,2740.6 1315.2,2745.3 1322.7,2745.5 1330.2,2741.2 1337.7,2741.7 1345.2,2741.8" stroke="#D95319"/>
<polyline points="218.8,3576.4 226.3,3523.9 233.8,3204.4 241.3,2981.1 248.8,2900.3 256.3,2864.0 263.9,2846.3 271.4,2827.2 278.9,2812.8 286.4,2802.3 293.9,2794.8 301.4,2787.8 308.9,2784.4 316.4,2779.2 323.9,2772.9 331.4,2768.8 338.9,2763.4 346.5,2761.6 354.0,2759.1 361.5,2757.2 369.0,2755.1 376.5,2754.2 384.0,2747.8 391.5,2754.0 399.0,2752.9 406.5,2747.7 414.0,2745.8 421.6,2743.0 429.1,2742.5 436.6,2741.0 444.1,2745.7 451.6,2738.2 459.1,2737.9 466.6,2736.1 474.1,2736.9 481.6,2735.3 489.1,2741.3 496.6,2730.6 504.2,2736.0 511.7,2731.9 519.2,2733.2 526.7,2733.4 534.2,2733.1 541.7,2728.9 549.2,2734.8 556.7,2734.2 564.2,2734.1 571.7,2730.2 579.2,2735.2 586.8,2729.6 594.3,2732.4 601.8,2734.0 609.3,2733.9 616.8,2733.0 624.3,2734.4 631.8,2729.5 639.3,2728.5 646.8,2728.0 654.3,2731.5 661.9,2729.1 669.4,2729.6 676.9,2727.9 684.4,2728.3 691.9,2729.0 699.4,2733.5 706.9,2729.4 714.4,2728.7 721.9,2730.5 729.4,2729.4 736.9,2731.7 744.5,2729.3 752.0,2727.3 759.5,2723.4 767.0,2730.6 774.5,2728.1 782.0,2730.2 789.5,2728.0 797.0,2728.2 804.5,2725.6 812.0,2725.2 819.5,2727.1 827.1,2727.8 834.6,2724.7 842.1,2727.1 849.6,2724.0 857.1,2731.3 864.6,2723.3 872.1,2728.9 879.6,2730.0 887.1,2727.4 894.6,2729.9 902.1,2725.6 909.7,2727.9 917.2,2725.9 924.7,2728.7 932.2,2726.7 939.7,2725.7 947.2,2726.2 954.7,2721.9 962.2,2724.1 969.7,2724.9 977.2,2729.7 984.8,2724.3 992.3,2722.3 999.8,2726.7 1007.3,2725.5 1014.8,2732.0 1022.3,2727.8 1029.8,2729.7 1037.3,2724.5 1044.8,2725.0 1052.3,2724.9 1059.8,2725.6 1067.4,2722.1 1074.9,2727.3 1082.4,2724.5 1089.9,2722.9 1097.4,2724.7 1104.9,2724.4 1112.4,2726.1 1119.9,2724.9 1127.4,2722.4 1134.9,2728.7 1142.4,2724.3 1150.0,2725.3 1157.5,2724.0 1165.0,2719.7 1172.5,2724.8 1180.0,2720.2 1187.5,2721.1 1195.0,2723.6 1202.5,2723.4 1210.0,2723.1 1217.5,2725.5 1225.1,2722.0 1232.6,2724.9 1240.1,2723.4 1247.6,2728.6 1255.1,2725.4 1262.6,2722.1 1270.1,2726.0 1277.6,2722.6 1285.1,2724.5 1292.6,2721.0 1300.1,2720.3 1307.7,2722.9 1315.2,2723.3 1322.7,2723.2 1330.2,2723.3 1337.7,2720.5 1345.2,2717.4" stroke="#EDB120"/>
<polyline points="218.8,3576.4 226.3,3576.4 233.8,3576.4 241.3,3576.4 248.8,3576.4 256.3,3555.1 263.9,3490.0 271.4,3395.5 278.9,3278.6 286.4,3150.5 293.9,3077.1 301.4,2996.8 308.9,2976.2 316.4,2937.7 323.9,2926.0 331.4,2911.3 338.9,2894.8 346.5,2879.7 354.0,2868.4 361.5,2853.9 369.0,2864.3 376.5,2846.1 384.0,2838.6 391.5,2834.3 399.0,2825.4 406.5,2815.1 414.0,2817.8 421.6,2814.7 429.1,2813.0 436.6,2807.9 444.1,2801.2 451.6,2795.5 459.1,2792.2 466.6,2790.1 474.1,2790.0 481.6,2789.8 489.1,2790.9 496.6,2796.4 504.2,2789.8 511.7,2790.5 519.2,2789.8 526.7,2789.9 534.2,2781.1 541.7,2785.5 549.2,2778.8 556.7,2779.1 564.2,2776.4 571.7,2774.2 579.2,2770.5 586.8,2771.0 594.3,2770.8 601.8,2768.9 609.3,2771.1 616.8,2770.1 624.3,2770.6 631.8,2768.3 639.3,2766.1 646.8,2768.5 654.3,2768.3 661.9,2769.7 669.4,2764.2 676.9,2767.6 684.4,2766.0 691.9,2767.5 699.4,2765.5 706.9,2770.5 714.4,2765.5 721.9,2766.8 729.4,2761.7 736.9,2762.4 744.5,2764.3 752.0,2764.7 759.5,2764.6 767.0,2760.5 774.5,2763.2 782.0,2757.7 789.5,2764.6 797.0,2764.2 804.5,2765.5 812.0,2766.9 819.5,2762.8 827.1,2765.5 834.6,2760.7 842.1,2763.1 849.6,2767.3 857.1,2764.7 864.6,2762.7 872.1,2759.7 879.6,2763.9 887.1,2763.4 894.6,2766.3 902.1,2759.8 909.7,2767.9 917.2,2762.1 924.7,2762.7 932.2,2762.0 939.7,2761.2 947.2,2760.2 954.7,2762.6 962.2,2766.7 969.7,2759.0 977.2,2764.1 984.8,2760.6 992.3,2763.4 999.8,2760.9 1007.3,2762.8 1014.8,2763.7 1022.3,2760.6 1029.8,2768.5 1037.3,2763.5 1044.8,2762.6 1052.3,2761.8 1059.8,2764.0 1067.4,2767.2 1074.9,2761.9 1082.4,2765.4 1089.9,2761.1 1097.4,2761.7 1104.9,2762.6 1112.4,2759.0 1119.9,2759.8 1127.4,2764.9 1134.9,2766.7 1142.4,2759.2 1150.0,2757.1 1157.5,2764.2 1165.0,2761.7 1172.5,2764.6 1180.0,2763.9 1187.5,2755.4 1195.0,2761.3 1202.5,2762.1 1210.0,2761.9 1217.5,2765.1 1225.1,2761.3 1232.6,2757.8 1240.1,2758.6 1247.6,2763.2 1255.1,2764.1 1262.6,2760.4 1270.1,2761.9 1277.6,2762.2 1285.1,2763.7 1292.6,2759.9 1300.1,2761.7 1307.7,2761.9 1315.2,2761.7 1322.7,2760.8 1330.2,2764.0 1337.7,2764.1 1345.2,2767.6" stroke="#7E2F8E" stroke-dasharray="26 24" stroke-linecap="butt"/>
<polyline points="218.8,3576.4 226.3,3576.4 233.8,3576.4 241.3,3576.4 248.8,3576.4 256.3,3544.5 263.9,3363.5 271.4,3151.5 278.9,3017.6 286.4,2942.8 293.9,2908.4 301.4,2877.3 308.9,2862.6 316.4,2848.2 323.9,2840.4 331.4,2832.1 338.9,2825.0 346.5,2814.0 354.0,2804.2 361.5,2798.8 369.0,2794.8 376.5,2792.5 384.0,2784.2 391.5,2777.8 399.0,2782.7 406.5,2775.7 414.0,2779.2 421.6,2773.8 429.1,2768.0 436.6,2775.0 444.1,2769.6 451.6,2766.5 459.1,2765.6 466.6,2758.9 474.1,2760.8 481.6,2756.4 489.1,2760.0 496.6,2757.3 504.2,2758.3 511.7,2756.6 519.2,2753.6 526.7,2752.2 534.2,2755.0 541.7,2754.4 549.2,2753.2 556.7,2751.3 564.2,2753.4 571.7,2749.9 579.2,2745.8 586.8,2750.7 594.3,2747.2 601.8,2741.6 609.3,2746.1 616.8,2745.9 624.3,2742.3 631.8,2742.4 639.3,2740.1 646.8,2745.5 654.3,2741.4 661.9,2741.1 669.4,2741.5 676.9,2743.1 684.4,2741.1 691.9,2739.1 699.4,2741.9 706.9,2741.9 714.4,2741.5 721.9,2742.8 729.4,2743.6 736.9,2740.9 744.5,2737.7 752.0,2739.2 759.5,2740.8 767.0,2736.9 774.5,2736.8 782.0,2735.6 789.5,2742.6 797.0,2738.0 804.5,2735.0 812.0,2735.9 819.5,2740.4 827.1,2741.5 834.6,2741.6 842.1,2739.3 849.6,2738.9 857.1,2737.3 864.6,2738.6 872.1,2739.7 879.6,2738.9 887.1,2739.0 894.6,2740.0 902.1,2742.4 909.7,2739.9 917.2,2741.1 924.7,2740.9 932.2,2742.8 939.7,2739.3 947.2,2740.1 954.7,2746.8 962.2,2739.0 969.7,2741.1 977.2,2740.3 984.8,2739.9 992.3,2739.6 999.8,2744.1 1007.3,2737.8 1014.8,2743.0 1022.3,2742.1 1029.8,2739.5 1037.3,2745.3 1044.8,2738.0 1052.3,2742.8 1059.8,2742.5 1067.4,2735.6 1074.9,2745.0 1082.4,2745.6 1089.9,2740.5 1097.4,2743.7 1104.9,2743.6 1112.4,2741.8 1119.9,2740.6 1127.4,2741.9 1134.9,2740.0 1142.4,2744.6 1150.0,2738.1 1157.5,2745.6 1165.0,2741.0 1172.5,2737.2 1180.0,2742.6 1187.5,2739.0 1195.0,2743.8 1202.5,2744.5 1210.0,2745.6 1217.5,2742.5 1225.1,2737.5 1232.6,2740.6 1240.1,2739.7 1247.6,2734.3 1255.1,2740.8 1262.6,2742.0 1270.1,2740.8 1277.6,2739.0 1285.1,2741.3 1292.6,2740.6 1300.1,2742.0 1307.7,2741.5 1315.2,2737.9 1322.7,2742.4 1330.2,2740.6 1337.7,2741.7 1345.2,2740.9" stroke="#77AC30" stroke-dasharray="26 24" stroke-linecap="butt"/>
<polyline points="218.8,3576.4 226.3,3576.4 233.8,3576.4 241.3,3576.4 248.8,3571.1 256.3,3502.1 263.9,3278.6 271.4,3013.0 278.9,2948.8 286.4,2884.3 293.9,2859.0 301.4,2840.3 308.9,2825.6 316.4,2816.1 323.9,2807.6 331.4,2799.3 338.9,2792.3 346.5,2786.7 354.0,2780.6 361.5,2778.7 369.0,2774.6 376.5,2772.6 384.0,2772.7 391.5,2768.9 399.0,2765.0 406.5,2766.2 414.0,2759.9 421.6,2756.8 429.1,2750.4 436.6,2749.1 444.1,2748.1 451.6,2746.8 459.1,2746.5 466.6,2745.6 474.1,2743.3 481.6,2744.8 489.1,2744.9 496.6,2741.1 504.2,2736.7 511.7,2737.9 519.2,2742.4 526.7,2735.1 534.2,2736.7 541.7,2738.0 549.2,2738.6 556.7,2738.2 564.2,2735.1 571.7,2736.2 579.2,2734.2 586.8,2729.3 594.3,2731.6 601.8,2735.8 609.3,2736.3 616.8,2727.8 624.3,2736.7 631.8,2730.8 639.3,2733.8 646.8,2731.4 654.3,2729.3 661.9,2736.0 669.4,2731.6 676.9,2727.7 684.4,2728.4 691.9,2725.5 699.4,2732.0 706.9,2730.6 714.4,2729.7 721.9,2728.1 729.4,2729.6 736.9,2728.9 744.5,2728.2 752.0,2726.5 759.5,2725.9 767.0,2727.7 774.5,2726.2 782.0,2722.5 789.5,2729.9 797.0,2724.6 804.5,2726.8 812.0,2728.4 819.5,2727.8 827.1,2729.6 834.6,2726.8 842.1,2730.1 849.6,2724.4 857.1,2723.8 864.6,2720.0 872.1,2724.1 879.6,2725.0 887.1,2724.9 894.6,2726.4 902.1,2720.7 909.7,2723.4 917.2,2722.3 924.7,2721.1 932.2,2725.5 939.7,2724.8 947.2,2723.4 954.7,2723.8 962.2,2726.5 969.7,2724.8 977.2,2725.6 984.8,2723.6 992.3,2728.9 999.8,2721.8 1007.3,2726.7 1014.8,2725.7 1022.3,2725.4 1029.8,2724.8 1037.3,2725.3 1044.8,2723.9 1052.3,2725.1 1059.8,2719.4 1067.4,2724.8 1074.9,2723.6 1082.4,2728.9 1089.9,2724.4 1097.4,2726.2 1104.9,2719.6 1112.4,2723.8 1119.9,2722.2 1127.4,2721.2 1134.9,2719.4 1142.4,2728.7 1150.0,2723.1 1157.5,2723.0 1165.0,2721.4 1172.5,2725.0 1180.0,2724.7 1187.5,2723.8 1195.0,2722.3 1202.5,2722.1 1210.0,2728.0 1217.5,2724.9 1225.1,2723.4 1232.6,2724.5 1240.1,2720.4 1247.6,2722.1 1255.1,2724.6 1262.6,2724.3 1270.1,2721.4 1277.6,2719.8 1285.1,2723.0 1292.6,2725.0 1300.1,2721.1 1307.7,2727.3 1315.2,2724.5 1322.7,2720.0 1330.2,2724.2 1337.7,2720.3 1345.2,2719.0" stroke="#4DBEEE" stroke-dasharray="26 24" stroke-linecap="butt"/>
<polyline points="218.8,3576.4 226.3,3565.8 233.8,3469.4 241.3,3256.8 248.8,3109.1 256.3,3011.3 263.9,2944.2 271.4,2900.3 278.9,2883.0 286.4,2868.3 293.9,2857.2 301.4,2846.9 308.9,2842.0 316.4,2835.6 323.9,2825.1 331.4,2822.4 338.9,2820.6 346.5,2817.5 354.0,2814.6 361.5,2810.4 369.0,2811.6 376.5,2802.4 384.0,2798.7 391.5,2798.0 399.0,2799.7 406.5,2796.0 414.0,2797.8 421.6,2804.6 429.1,2803.7 436.6,2795.9 444.1,2790.3 451.6,2791.7 459.1,2789.9 466.6,2791.6 474.1,2788.0 481.6,2789.3 489.1,2789.1 496.6,2789.4 504.2,2787.3 511.7,2779.7 519.2,2777.8 526.7,2780.4 534.2,2776.7 541.7,2778.6 549.2,2777.3 556.7,2775.1 564.2,2769.0 571.7,2770.6 579.2,2774.1 586.8,2769.4 594.3,2769.4 601.8,2768.7 609.3,2768.6 616.8,2769.0 624.3,2773.2 631.8,2770.1 639.3,2766.8 646.8,2765.9 654.3,2765.4 661.9,2765.3 669.4,2770.3 676.9,2766.3 684.4,2763.1 691.9,2772.4 699.4,2765.3 706.9,2761.2 714.4,2766.7 721.9,2766.1 729.4,2764.5 736.9,2766.7 744.5,2764.1 752.0,2771.5 759.5,2767.0 767.0,2760.7 774.5,2760.8 782.0,2761.7 789.5,2762.0 797.0,2765.8 804.5,2763.6 812.0,2760.2 819.5,2761.7 827.1,2760.3 834.6,2758.9 842.1,2761.3 849.6,2762.0 857.1,2761.7 864.6,2760.3 872.1,2760.2 879.6,2762.4 887.1,2765.7 894.6,2760.3 902.1,2761.8 909.7,2762.7 917.2,2762.0 924.7,2762.2 932.2,2766.6 939.7,2759.2 947.2,2759.6 954.7,2760.2 962.2,2757.4 969.7,2763.9 977.2,2760.6 984.8,2759.4 992.3,2761.5 999.8,2760.7 1007.3,2762.5 1014.8,2759.8 1022.3,2762.8 1029.8,2761.8 1037.3,2756.2 1044.8,2758.2 1052.3,2761.6 1059.8,2763.5 1067.4,2762.8 1074.9,2757.4 1082.4,2761.0 1089.9,2759.7 1097.4,2762.8 1104.9,2762.7 1112.4,2760.7 1119.9,2759.0 1127.4,2756.1 1134.9,2763.4 1142.4,2763.9 1150.0,2764.2 1157.5,2758.4 1165.0,2759.0 1172.5,2765.0 1180.0,2761.6 1187.5,2761.7 1195.0,2759.6 1202.5,2763.5 1210.0,2765.5 1217.5,2764.2 1225.1,2756.4 1232.6,2759.4 1240.1,2760.6 1247.6,2761.2 1255.1,2762.4 1262.6,2761.2 1270.1,2760.4 1277.6,2760.1 1285.1,2760.4 1292.6,2763.9 1300.1,2762.0 1307.7,2759.0 1315.2,2763.3 1322.7,2760.4 1330.2,2760.3 1337.7,2760.4 1345.2,2757.9" stroke="#A2142F" stroke-dasharray="5.9 9.7" stroke-linecap="butt"/>
<polyline points="218.8,3576.4 226.3,3555.1 233.8,3364.1 241.3,3128.9 248.8,3012.7 256.3,2958.6 263.9,2902.4 271.4,2865.3 278.9,2843.3 286.4,2829.9 293.9,2820.6 301.4,2816.5 308.9,2806.6 316.4,2802.2 323.9,2796.9 331.4,2793.6 338.9,2787.8 346.5,2785.4 354.0,2781.7 361.5,2779.1 369.0,2781.2 376.5,2781.0 384.0,2772.7 391.5,2777.5 399.0,2771.4 406.5,2771.2 414.0,2770.3 421.6,2772.1 429.1,2769.6 436.6,2770.8 444.1,2765.9 451.6,2766.8 459.1,2760.4 466.6,2765.2 474.1,2763.1 481.6,2763.8 489.1,2759.3 496.6,2759.7 504.2,2756.5 511.7,2757.0 519.2,2759.5 526.7,2757.7 534.2,2755.4 541.7,2754.9 549.2,2753.1 556.7,2751.4 564.2,2751.8 571.7,2749.0 579.2,2752.5 586.8,2746.9 594.3,2752.1 601.8,2745.9 609.3,2747.3 616.8,2745.2 624.3,2745.3 631.8,2744.4 639.3,2751.2 646.8,2750.6 654.3,2749.2 661.9,2744.1 669.4,2740.4 676.9,2747.7 684.4,2748.2 691.9,2747.9 699.4,2745.2 706.9,2743.8 714.4,2744.4 721.9,2744.7 729.4,2741.6 736.9,2741.2 744.5,2744.5 752.0,2744.4 759.5,2740.9 767.0,2739.3 774.5,2743.6 782.0,2741.8 789.5,2742.0 797.0,2745.2 804.5,2745.6 812.0,2743.3 819.5,2744.1 827.1,2740.9 834.6,2746.1 842.1,2743.3 849.6,2741.4 857.1,2745.1 864.6,2746.0 872.1,2745.7 879.6,2746.0 887.1,2745.8 894.6,2744.9 902.1,2745.0 909.7,2746.9 917.2,2741.7 924.7,2744.3 932.2,2743.1 939.7,2746.4 947.2,2748.2 954.7,2744.2 962.2,2742.1 969.7,2747.5 977.2,2745.6 984.8,2744.7 992.3,2740.7 999.8,2738.3 1007.3,2744.4 1014.8,2741.0 1022.3,2742.3 1029.8,2745.3 1037.3,2740.8 1044.8,2741.6 1052.3,2742.6 1059.8,2743.6 1067.4,2743.2 1074.9,2739.7 1082.4,2740.4 1089.9,2738.6 1097.4,2742.0 1104.9,2739.2 1112.4,2745.0 1119.9,2740.4 1127.4,2737.7 1134.9,2741.8 1142.4,2743.0 1150.0,2741.0 1157.5,2742.1 1165.0,2744.1 1172.5,2745.6 1180.0,2739.0 1187.5,2745.7 1195.0,2742.6 1202.5,2741.5 1210.0,2743.9 1217.5,2742.8 1225.1,2744.7 1232.6,2741.5 1240.1,2742.5 1247.6,2740.2 1255.1,2744.4 1262.6,2741.9 1270.1,2743.9 1277.6,2741.6 1285.1,2738.4 1292.6,2744.2 1300.1,2743.7 1307.7,2740.9 1315.2,2745.0 1322.7,2746.1 1330.2,2741.4 1337.7,2742.4 1345.2,2739.9" stroke="#0072BD" stroke-dasharray="5.9 9.7" stroke-linecap="butt"/>
<polyline points="218.8,3576.4 226.3,3513.2 233.8,3193.0 241.3,2979.4 248.8,2901.9 256.3,2868.8 263.9,2847.5 271.4,2831.6 278.9,2817.9 286.4,2803.9 293.9,2796.8 301.4,2791.1 308.9,2785.3 316.4,2779.3 323.9,2775.8 331.4,2771.9 338.9,2767.2 346.5,2764.4 354.0,2762.5 361.5,2759.6 369.0,2760.0 376.5,2760.6 384.0,2756.4 391.5,2754.7 399.0,2756.3 406.5,2754.3 414.0,2750.9 421.6,2750.3 429.1,2747.7 436.6,2745.2 444.1,2749.1 451.6,2742.1 459.1,2749.5 466.6,2741.6 474.1,2749.1 481.6,2743.9 489.1,2739.4 496.6,2740.9 504.2,2740.5 511.7,2739.2 519.2,2735.6 526.7,2736.7 534.2,2738.1 541.7,2737.6 549.2,2733.1 556.7,2734.0 564.2,2732.9 571.7,2737.6 579.2,2729.6 586.8,2732.8 594.3,2729.8 601.8,2728.5 609.3,2731.7 616.8,2730.6 624.3,2728.3 631.8,2729.0 639.3,2729.1 646.8,2729.5 654.3,2730.5 661.9,2729.8 669.4,2728.9 676.9,2726.3 684.4,2727.2 691.9,2730.9 699.4,2728.1 706.9,2729.6 714.4,2728.8 721.9,2731.7 729.4,2726.0 736.9,2727.5 744.5,2725.3 752.0,2727.2 759.5,2727.8 767.0,2722.6 774.5,2731.1 782.0,2730.5 789.5,2725.3 797.0,2726.1 804.5,2731.0 812.0,2731.0 819.5,2729.1 827.1,2724.8 834.6,2727.4 842.1,2725.4 849.6,2728.6 857.1,2726.8 864.6,2732.5 872.1,2730.2 879.6,2732.9 887.1,2726.4 894.6,2727.5 902.1,2732.4 909.7,2730.3 917.2,2727.9 924.7,2725.0 932.2,2723.3 939.7,2725.1 947.2,2724.8 954.7,2727.9 962.2,2724.7 969.7,2725.1 977.2,2726.9 984.8,2727.5 992.3,2726.4 999.8,2725.4 1007.3,2722.6 1014.8,2724.0 1022.3,2727.0 1029.8,2724.6 1037.3,2723.2 1044.8,2727.6 1052.3,2726.3 1059.8,2717.9 1067.4,2723.7 1074.9,2723.9 1082.4,2726.3 1089.9,2727.2 1097.4,2722.9 1104.9,2728.8 1112.4,2725.9 1119.9,2723.6 1127.4,2725.6 1134.9,2724.3 1142.4,2723.2 1150.0,2727.4 1157.5,2725.5 1165.0,2724.7 1172.5,2724.3 1180.0,2725.9 1187.5,2722.9 1195.0,2726.2 1202.5,2725.5 1210.0,2719.9 1217.5,2725.6 1225.1,2722.4 1232.6,2722.7 1240.1,2720.4 1247.6,2724.1 1255.1,2722.8 1262.6,2721.3 1270.1,2722.1 1277.6,2726.9 1285.1,2724.4 1292.6,2719.8 1300.1,2724.7 1307.7,2723.1 1315.2,2722.4 1322.7,2728.8 1330.2,2721.6 1337.7,2725.0 1345.2,2724.2" stroke="#D95319" stroke-dasharray="5.9 9.7" stroke-linecap="butt"/>
</g>
<g stroke="#e9e9e9" stroke-width="3" fill="none">
<line x1="1500.7" y1="2629.3" x2="1500.7" y2="3682.6"/>
<line x1="1717.2" y1="2629.3" x2="1717.2" y2="3682.6"/>
<line x1="1933.8" y1="2629.3" x2="1933.8" y2="3682.6"/>
<line x1="2150.4" y1="2629.3" x2="2150.4" y2="3682.6"/>
<line x1="2366.9" y1="2629.3" x2="2366.9" y2="3682.6"/>
<line x1="1464.0" y1="3599.8" x2="2432.0" y2="3599.8"/>
<line x1="1464.0" y1="3367.2" x2="2432.0" y2="3367.2"/>
<line x1="1464.0" y1="3134.6" x2="2432.0" y2="3134.6"/>
<line x1="1464.0" y1="2901.9" x2="2432.0" y2="2901.9"/>
<line x1="1464.0" y1="2669.3" x2="2432.0" y2="2669.3"/>
</g>
<clipPath id="cCr"><rect x="1464.0" y="2629.3" width="968.0" height="1053.3"/></clipPath>
<g clip-path="url(#cCr)" fill="none" stroke-width="7.0" stroke-linejoin="round">
<polyline points="1500.7,4530.3 1511.5,4483.8 1522.4,4181.0 1533.2,3694.3 1544.0,3366.3 1554.8,3205.9 1565.7,3104.5 1576.5,3044.9 1587.3,3017.8 1598.1,2984.8 1609.0,2956.3 1619.8,2943.6 1630.6,2931.0 1641.5,2909.0 1652.3,2887.2 1663.1,2881.5 1673.9,2881.9 1684.8,2857.8 1695.6,2851.5 1706.4,2847.3 1717.2,2843.1 1728.1,2829.8 1738.9,2824.5 1749.7,2830.6 1760.6,2814.1 1771.4,2825.2 1782.2,2811.1 1793.0,2811.2 1803.9,2798.3 1814.7,2806.6 1825.5,2791.3 1836.4,2793.8 1847.2,2799.4 1858.0,2793.9 1868.8,2785.6 1879.7,2790.2 1890.5,2785.4 1901.3,2791.8 1912.1,2786.4 1923.0,2789.3 1933.8,2785.0 1944.6,2783.8 1955.5,2783.8 1966.3,2782.3 1977.1,2770.6 1987.9,2771.2 1998.8,2760.1 2009.6,2762.6 2020.4,2774.5 2031.2,2778.8 2042.1,2774.0 2052.9,2780.2 2063.7,2772.2 2074.6,2768.3 2085.4,2765.7 2096.2,2764.9 2107.0,2772.6 2117.9,2779.5 2128.7,2784.3 2139.5,2775.0 2150.4,2764.0 2161.2,2782.4 2172.0,2764.7 2182.8,2780.0 2193.7,2775.3 2204.5,2770.2 2215.3,2759.8 2226.1,2771.8 2237.0,2762.5 2247.8,2761.2 2258.6,2761.0 2269.5,2766.8 2280.3,2764.4 2291.1,2763.8 2301.9,2762.5 2312.8,2766.7 2323.6,2768.6 2334.4,2781.0 2345.2,2772.1 2356.1,2765.6 2366.9,2758.3 2377.7,2750.7 2388.6,2762.8 2399.4,2762.3 2410.2,2764.9 2421.0,2749.6 2431.9,2762.6 2442.7,2760.4 2453.5,2756.7 2464.3,2758.9 2475.2,2744.2 2486.0,2750.0 2496.8,2755.3 2507.7,2746.6 2518.5,2755.7 2529.3,2745.7 2540.1,2747.5 2551.0,2757.6 2561.8,2755.0 2572.6,2751.7 2583.4,2759.0 2594.3,2747.3 2605.1,2753.8 2615.9,2753.3 2626.8,2755.6 2637.6,2751.6 2648.4,2748.2 2659.2,2747.5 2670.1,2746.2 2680.9,2744.1 2691.7,2748.6 2702.6,2753.6 2713.4,2748.1 2724.2,2755.2 2735.0,2749.4 2745.9,2751.0 2756.7,2750.8 2767.5,2750.1 2778.3,2754.5 2789.2,2759.1 2800.0,2751.2 2810.8,2740.8 2821.7,2756.8 2832.5,2749.1 2843.3,2745.1 2854.1,2746.4 2865.0,2748.5 2875.8,2750.6 2886.6,2736.8 2897.4,2745.7 2908.3,2743.1 2919.1,2744.0 2929.9,2753.3 2940.8,2747.1 2951.6,2742.0 2962.4,2747.1 2973.2,2749.6 2984.1,2752.6 2994.9,2746.3 3005.7,2748.2 3016.6,2741.0 3027.4,2756.4 3038.2,2747.1 3049.0,2751.3 3059.9,2744.8 3070.7,2746.1 3081.5,2743.9 3092.3,2743.0 3103.2,2748.5 3114.0,2754.4 3124.8,2746.3" stroke="#0072BD"/>
<polyline points="1500.7,4530.3 1511.5,4460.5 1522.4,3878.0 1533.2,3364.8 1544.0,3158.2 1554.8,3041.9 1565.7,2964.6 1576.5,2928.7 1587.3,2907.3 1598.1,2880.2 1609.0,2865.4 1619.8,2858.4 1630.6,2831.8 1641.5,2824.1 1652.3,2816.2 1663.1,2807.4 1673.9,2799.8 1684.8,2789.8 1695.6,2785.2 1706.4,2780.8 1717.2,2768.0 1728.1,2772.8 1738.9,2757.4 1749.7,2772.0 1760.6,2765.0 1771.4,2757.1 1782.2,2759.1 1793.0,2746.5 1803.9,2746.3 1814.7,2740.6 1825.5,2740.5 1836.4,2726.1 1847.2,2729.9 1858.0,2736.4 1868.8,2727.9 1879.7,2738.4 1890.5,2731.0 1901.3,2742.1 1912.1,2737.5 1923.0,2726.8 1933.8,2721.4 1944.6,2722.6 1955.5,2722.6 1966.3,2722.0 1977.1,2726.0 1987.9,2719.9 1998.8,2716.6 2009.6,2708.1 2020.4,2712.9 2031.2,2726.0 2042.1,2716.5 2052.9,2719.7 2063.7,2720.3 2074.6,2712.5 2085.4,2709.1 2096.2,2708.7 2107.0,2717.2 2117.9,2713.8 2128.7,2710.0 2139.5,2706.3 2150.4,2713.6 2161.2,2713.0 2172.0,2719.8 2182.8,2723.1 2193.7,2715.6 2204.5,2715.0 2215.3,2723.2 2226.1,2716.6 2237.0,2717.5 2247.8,2720.2 2258.6,2714.0 2269.5,2708.0 2280.3,2716.0 2291.1,2707.8 2301.9,2729.2 2312.8,2711.6 2323.6,2715.6 2334.4,2718.2 2345.2,2716.9 2356.1,2728.1 2366.9,2719.3 2377.7,2716.2 2388.6,2710.1 2399.4,2719.9 2410.2,2720.9 2421.0,2718.8 2431.9,2711.1 2442.7,2713.8 2453.5,2717.8 2464.3,2712.1 2475.2,2713.8 2486.0,2709.0 2496.8,2717.1 2507.7,2714.8 2518.5,2714.8 2529.3,2719.9 2540.1,2710.6 2551.0,2710.5 2561.8,2711.6 2572.6,2712.6 2583.4,2718.4 2594.3,2713.2 2605.1,2712.6 2615.9,2714.8 2626.8,2711.4 2637.6,2708.3 2648.4,2700.6 2659.2,2709.2 2670.1,2708.6 2680.9,2710.2 2691.7,2719.5 2702.6,2709.6 2713.4,2709.1 2724.2,2696.6 2735.0,2710.1 2745.9,2707.4 2756.7,2709.0 2767.5,2714.7 2778.3,2702.8 2789.2,2704.6 2800.0,2704.3 2810.8,2712.9 2821.7,2701.0 2832.5,2715.2 2843.3,2704.9 2854.1,2696.6 2865.0,2712.8 2875.8,2710.5 2886.6,2707.0 2897.4,2710.0 2908.3,2715.3 2919.1,2706.9 2929.9,2712.7 2940.8,2704.7 2951.6,2711.8 2962.4,2699.1 2973.2,2711.0 2984.1,2708.5 2994.9,2702.7 3005.7,2713.1 3016.6,2705.6 3027.4,2700.0 3038.2,2714.9 3049.0,2705.7 3059.9,2705.3 3070.7,2702.6 3081.5,2712.9 3092.3,2713.3 3103.2,2703.9 3114.0,2705.0 3124.8,2705.2" stroke="#D95319"/>
<polyline points="1500.7,4530.3 1511.5,4415.4 1522.4,3716.7 1533.2,3228.4 1544.0,3051.8 1554.8,2972.3 1565.7,2933.7 1576.5,2891.9 1587.3,2860.4 1598.1,2837.5 1609.0,2821.0 1619.8,2805.8 1630.6,2798.4 1641.5,2786.9 1652.3,2773.2 1663.1,2764.2 1673.9,2752.4 1684.8,2748.5 1695.6,2743.0 1706.4,2738.8 1717.2,2734.4 1728.1,2732.2 1738.9,2718.4 1749.7,2731.8 1760.6,2729.5 1771.4,2718.0 1782.2,2714.1 1793.0,2707.8 1803.9,2706.8 1814.7,2703.5 1825.5,2713.7 1836.4,2697.3 1847.2,2696.8 1858.0,2692.7 1868.8,2694.5 1879.7,2691.1 1890.5,2704.2 1901.3,2680.7 1912.1,2692.6 1923.0,2683.5 1933.8,2686.3 1944.6,2686.8 1955.5,2686.2 1966.3,2676.9 1977.1,2689.8 1987.9,2688.6 1998.8,2688.3 2009.6,2679.8 2020.4,2690.7 2031.2,2678.5 2042.1,2684.7 2052.9,2688.3 2063.7,2687.8 2074.6,2685.9 2085.4,2689.0 2096.2,2678.3 2107.0,2676.1 2117.9,2675.0 2128.7,2682.6 2139.5,2677.4 2150.4,2678.6 2161.2,2674.8 2172.0,2675.7 2182.8,2677.3 2193.7,2687.1 2204.5,2678.2 2215.3,2676.6 2226.1,2680.5 2237.0,2678.1 2247.8,2683.2 2258.6,2677.9 2269.5,2673.4 2280.3,2665.0 2291.1,2680.6 2301.9,2675.2 2312.8,2679.7 2323.6,2675.0 2334.4,2675.5 2345.2,2669.9 2356.1,2669.0 2366.9,2673.1 2377.7,2674.5 2388.6,2667.9 2399.4,2673.0 2410.2,2666.2 2421.0,2682.3 2431.9,2664.8 2442.7,2677.1 2453.5,2679.3 2464.3,2673.7 2475.2,2679.1 2486.0,2669.9 2496.8,2674.7 2507.7,2670.4 2518.5,2676.5 2529.3,2672.1 2540.1,2670.1 2551.0,2671.1 2561.8,2661.7 2572.6,2666.5 2583.4,2668.3 2594.3,2678.6 2605.1,2667.0 2615.9,2662.5 2626.8,2672.2 2637.6,2669.5 2648.4,2683.8 2659.2,2674.6 2670.1,2678.7 2680.9,2667.4 2691.7,2668.5 2702.6,2668.2 2713.4,2669.7 2724.2,2662.1 2735.0,2673.5 2745.9,2667.5 2756.7,2663.9 2767.5,2667.8 2778.3,2667.2 2789.2,2670.8 2800.0,2668.2 2810.8,2662.7 2821.7,2676.6 2832.5,2667.0 2843.3,2669.0 2854.1,2666.3 2865.0,2656.8 2875.8,2668.1 2886.6,2658.1 2897.4,2660.0 2908.3,2665.4 2919.1,2665.0 2929.9,2664.4 2940.8,2669.5 2951.6,2662.0 2962.4,2668.3 2973.2,2664.9 2984.1,2676.3 2994.9,2669.4 3005.7,2662.2 3016.6,2670.6 3027.4,2663.1 3038.2,2667.4 3049.0,2659.7 3059.9,2658.3 3070.7,2663.8 3081.5,2664.8 3092.3,2664.5 3103.2,2664.8 3114.0,2658.6 3124.8,2651.8" stroke="#EDB120"/>
<polyline points="1500.7,4530.3 1511.5,4530.3 1522.4,4530.3 1533.2,4530.3 1544.0,4530.3 1554.8,4483.8 1565.7,4341.3 1576.5,4134.7 1587.3,3879.0 1598.1,3598.9 1609.0,3438.4 1619.8,3262.8 1630.6,3217.8 1641.5,3133.6 1652.3,3108.1 1663.1,3075.8 1673.9,3039.9 1684.8,3006.8 1695.6,2982.1 1706.4,2950.3 1717.2,2973.2 1728.1,2933.4 1738.9,2917.0 1749.7,2907.4 1760.6,2888.1 1771.4,2865.5 1782.2,2871.5 1793.0,2864.6 1803.9,2861.0 1814.7,2849.8 1825.5,2835.0 1836.4,2822.6 1847.2,2815.5 1858.0,2810.8 1868.8,2810.6 1879.7,2810.2 1890.5,2812.5 1901.3,2824.6 1912.1,2810.2 1923.0,2811.7 1933.8,2810.1 1944.6,2810.3 1955.5,2791.1 1966.3,2800.8 1977.1,2786.2 1987.9,2786.8 1998.8,2780.8 2009.6,2776.1 2020.4,2768.0 2031.2,2769.1 2042.1,2768.6 2052.9,2764.4 2063.7,2769.3 2074.6,2767.0 2085.4,2768.2 2096.2,2763.1 2107.0,2758.4 2117.9,2763.7 2128.7,2763.2 2139.5,2766.1 2150.4,2754.2 2161.2,2761.6 2172.0,2758.2 2182.8,2761.3 2193.7,2757.1 2204.5,2767.9 2215.3,2757.0 2226.1,2759.8 2237.0,2748.8 2247.8,2750.3 2258.6,2754.5 2269.5,2755.4 2280.3,2755.0 2291.1,2746.0 2301.9,2751.9 2312.8,2740.0 2323.6,2755.0 2334.4,2754.1 2345.2,2757.0 2356.1,2760.2 2366.9,2751.0 2377.7,2757.0 2388.6,2746.5 2399.4,2751.7 2410.2,2761.0 2421.0,2755.3 2431.9,2751.0 2442.7,2744.4 2453.5,2753.4 2464.3,2752.4 2475.2,2758.7 2486.0,2744.5 2496.8,2762.3 2507.7,2749.6 2518.5,2751.0 2529.3,2749.3 2540.1,2747.7 2551.0,2745.5 2561.8,2750.7 2572.6,2759.7 2583.4,2742.8 2594.3,2754.0 2605.1,2746.2 2615.9,2752.3 2626.8,2747.0 2637.6,2751.0 2648.4,2753.0 2659.2,2746.3 2670.1,2763.6 2680.9,2752.6 2691.7,2750.7 2702.6,2749.0 2713.4,2753.8 2724.2,2760.7 2735.0,2749.1 2745.9,2756.8 2756.7,2747.5 2767.5,2748.8 2778.3,2750.8 2789.2,2742.8 2800.0,2744.5 2810.8,2755.8 2821.7,2759.7 2832.5,2743.3 2843.3,2738.7 2854.1,2754.1 2865.0,2748.8 2875.8,2755.1 2886.6,2753.6 2897.4,2735.0 2908.3,2747.8 2919.1,2749.5 2929.9,2749.1 2940.8,2756.2 2951.6,2747.8 2962.4,2740.1 2973.2,2742.0 2984.1,2752.1 2994.9,2754.0 3005.7,2745.9 3016.6,2749.1 3027.4,2749.8 3038.2,2753.0 3049.0,2744.9 3059.9,2748.7 3070.7,2749.1 3081.5,2748.7 3092.3,2746.7 3103.2,2753.8 3114.0,2754.0 3124.8,2761.6" stroke="#7E2F8E" stroke-dasharray="26 24" stroke-linecap="butt"/>
<polyline points="1500.7,4530.3 1511.5,4530.3 1522.4,4530.3 1533.2,4530.3 1544.0,4530.3 1554.8,4460.5 1565.7,4064.6 1576.5,3601.1 1587.3,3308.4 1598.1,3144.7 1609.0,3069.4 1619.8,3001.6 1630.6,2969.3 1641.5,2937.9 1652.3,2920.9 1663.1,2902.7 1673.9,2887.2 1684.8,2863.0 1695.6,2841.6 1706.4,2829.9 1717.2,2821.0 1728.1,2816.0 1738.9,2797.9 1749.7,2783.9 1760.6,2794.7 1771.4,2779.4 1782.2,2787.0 1793.0,2775.2 1803.9,2762.6 1814.7,2777.8 1825.5,2765.9 1836.4,2759.2 1847.2,2757.3 1858.0,2742.7 1868.8,2746.7 1879.7,2737.2 1890.5,2745.0 1901.3,2739.0 1912.1,2741.3 1923.0,2737.7 1933.8,2730.9 1944.6,2727.9 1955.5,2734.2 1966.3,2732.7 1977.1,2730.1 1987.9,2725.9 1998.8,2730.6 2009.6,2722.9 2020.4,2713.9 2031.2,2724.6 2042.1,2717.1 2052.9,2704.8 2063.7,2714.6 2074.6,2714.1 2085.4,2706.3 2096.2,2706.5 2107.0,2701.4 2117.9,2713.3 2128.7,2704.4 2139.5,2703.8 2150.4,2704.7 2161.2,2708.0 2172.0,2703.8 2182.8,2699.2 2193.7,2705.5 2204.5,2705.5 2215.3,2704.6 2226.1,2707.5 2237.0,2709.2 2247.8,2703.3 2258.6,2696.3 2269.5,2699.5 2280.3,2703.1 2291.1,2694.5 2301.9,2694.4 2312.8,2691.5 2323.6,2706.9 2334.4,2696.8 2345.2,2690.2 2356.1,2692.2 2366.9,2702.2 2377.7,2704.5 2388.6,2704.9 2399.4,2699.8 2410.2,2698.9 2421.0,2695.4 2431.9,2698.2 2442.7,2700.7 2453.5,2698.9 2464.3,2699.1 2475.2,2701.2 2486.0,2706.6 2496.8,2701.0 2507.7,2703.6 2518.5,2703.2 2529.3,2707.4 2540.1,2699.8 2551.0,2701.5 2561.8,2716.1 2572.6,2699.2 2583.4,2703.7 2594.3,2702.0 2605.1,2701.1 2615.9,2700.5 2626.8,2710.3 2637.6,2696.4 2648.4,2707.8 2659.2,2705.9 2670.1,2700.2 2680.9,2712.8 2691.7,2696.9 2702.6,2707.4 2713.4,2706.8 2724.2,2691.7 2735.0,2712.3 2745.9,2713.4 2756.7,2702.3 2767.5,2709.4 2778.3,2709.1 2789.2,2705.2 2800.0,2702.6 2810.8,2705.4 2821.7,2701.3 2832.5,2711.3 2843.3,2697.2 2854.1,2713.5 2865.0,2703.5 2875.8,2695.2 2886.6,2706.9 2897.4,2699.2 2908.3,2709.6 2919.1,2711.2 2929.9,2713.6 2940.8,2706.8 2951.6,2695.9 2962.4,2702.5 2973.2,2700.6 2984.1,2688.9 2994.9,2703.0 3005.7,2705.6 3016.6,2703.0 3027.4,2699.2 3038.2,2704.1 3049.0,2702.5 3059.9,2705.6 3070.7,2704.6 3081.5,2696.7 3092.3,2706.6 3103.2,2702.6 3114.0,2705.0 3124.8,2703.2" stroke="#77AC30" stroke-dasharray="26 24" stroke-linecap="butt"/>
<polyline points="1500.7,4530.3 1511.5,4530.3 1522.4,4530.3 1533.2,4530.3 1544.0,4518.7 1554.8,4367.7 1565.7,3879.1 1576.5,3298.3 1587.3,3158.0 1598.1,3016.9 1609.0,2961.4 1619.8,2920.5 1630.6,2888.5 1641.5,2867.8 1652.3,2849.1 1663.1,2830.9 1673.9,2815.7 1684.8,2803.3 1695.6,2790.1 1706.4,2785.8 1717.2,2777.0 1728.1,2772.5 1738.9,2772.8 1749.7,2764.4 1760.6,2755.9 1771.4,2758.5 1782.2,2744.7 1793.0,2738.1 1803.9,2724.1 1814.7,2721.2 1825.5,2719.1 1836.4,2716.2 1847.2,2715.5 1858.0,2713.5 1868.8,2708.6 1879.7,2711.7 1890.5,2711.9 1901.3,2703.7 1912.1,2694.1 1923.0,2696.7 1933.8,2706.5 1944.6,2690.7 1955.5,2694.0 1966.3,2696.9 1977.1,2698.3 1987.9,2697.2 1998.8,2690.6 2009.6,2693.0 2020.4,2688.5 2031.2,2677.8 2042.1,2682.9 2052.9,2692.1 2063.7,2693.2 2074.6,2674.5 2085.4,2694.1 2096.2,2681.0 2107.0,2687.8 2117.9,2682.5 2128.7,2677.9 2139.5,2692.5 2150.4,2682.8 2161.2,2674.5 2172.0,2675.9 2182.8,2669.5 2193.7,2683.7 2204.5,2680.6 2215.3,2678.7 2226.1,2675.3 2237.0,2678.4 2247.8,2677.0 2258.6,2675.5 2269.5,2671.7 2280.3,2670.5 2291.1,2674.4 2301.9,2671.1 2312.8,2663.0 2323.6,2679.1 2334.4,2667.5 2345.2,2672.4 2356.1,2676.0 2366.9,2674.7 2377.7,2678.6 2388.6,2672.3 2399.4,2679.6 2410.2,2667.1 2421.0,2665.8 2431.9,2657.4 2442.7,2666.4 2453.5,2668.6 2464.3,2668.3 2475.2,2671.4 2486.0,2659.0 2496.8,2664.9 2507.7,2662.7 2518.5,2660.0 2529.3,2669.5 2540.1,2668.1 2551.0,2665.0 2561.8,2665.9 2572.6,2671.8 2583.4,2668.0 2594.3,2669.8 2605.1,2665.5 2615.9,2677.1 2626.8,2661.5 2637.6,2672.2 2648.4,2670.0 2659.2,2669.2 2670.1,2668.0 2680.9,2669.0 2691.7,2666.1 2702.6,2668.7 2713.4,2656.3 2724.2,2668.1 2735.0,2665.4 2745.9,2677.0 2756.7,2667.1 2767.5,2671.0 2778.3,2656.6 2789.2,2665.8 2800.0,2662.4 2810.8,2660.1 2821.7,2656.2 2832.5,2676.5 2843.3,2664.4 2854.1,2664.1 2865.0,2660.7 2875.8,2668.5 2886.6,2667.9 2897.4,2665.7 2908.3,2662.5 2919.1,2662.0 2929.9,2675.1 2940.8,2668.2 2951.6,2665.0 2962.4,2667.4 2973.2,2658.5 2984.1,2662.2 2994.9,2667.5 3005.7,2666.9 3016.6,2660.6 3027.4,2657.1 3038.2,2664.0 3049.0,2668.4 3059.9,2659.9 3070.7,2673.5 3081.5,2667.3 3092.3,2657.6 3103.2,2666.8 3114.0,2658.3 3124.8,2655.3" stroke="#4DBEEE" stroke-dasharray="26 24" stroke-linecap="butt"/>
<polyline points="1500.7,4530.3 1511.5,4507.0 1522.4,4296.3 1533.2,3831.4 1544.0,3508.4 1554.8,3294.6 1565.7,3147.7 1576.5,3051.9 1587.3,3014.0 1598.1,2981.9 1609.0,2957.6 1619.8,2935.1 1630.6,2924.3 1641.5,2910.4 1652.3,2887.3 1663.1,2881.5 1673.9,2877.6 1684.8,2870.8 1695.6,2864.4 1706.4,2855.3 1717.2,2857.8 1728.1,2837.6 1738.9,2829.7 1749.7,2828.0 1760.6,2831.9 1771.4,2823.7 1782.2,2827.6 1793.0,2842.6 1803.9,2840.6 1814.7,2823.5 1825.5,2811.2 1836.4,2814.4 1847.2,2810.5 1858.0,2814.1 1868.8,2806.3 1879.7,2809.0 1890.5,2808.6 1901.3,2809.3 1912.1,2804.7 1923.0,2788.1 1933.8,2784.0 1944.6,2789.5 1955.5,2781.6 1966.3,2785.7 1977.1,2782.9 1987.9,2778.0 1998.8,2764.6 2009.6,2768.2 2020.4,2775.8 2031.2,2765.7 2042.1,2765.6 2052.9,2764.0 2063.7,2763.9 2074.6,2764.6 2085.4,2773.9 2096.2,2767.2 2107.0,2759.9 2117.9,2757.9 2128.7,2756.8 2139.5,2756.5 2150.4,2767.5 2161.2,2758.8 2172.0,2751.8 2182.8,2772.0 2193.7,2756.6 2204.5,2747.6 2215.3,2759.7 2226.1,2758.4 2237.0,2754.9 2247.8,2759.6 2258.6,2753.9 2269.5,2770.2 2280.3,2760.3 2291.1,2746.5 2301.9,2746.7 2312.8,2748.7 2323.6,2749.3 2334.4,2757.7 2345.2,2752.9 2356.1,2745.5 2366.9,2748.7 2377.7,2745.7 2388.6,2742.5 2399.4,2747.9 2410.2,2749.5 2421.0,2748.8 2431.9,2745.6 2442.7,2745.5 2453.5,2750.2 2464.3,2757.4 2475.2,2745.7 2486.0,2749.0 2496.8,2751.0 2507.7,2749.3 2518.5,2749.9 2529.3,2759.3 2540.1,2743.3 2551.0,2744.2 2561.8,2745.4 2572.6,2739.3 2583.4,2753.4 2594.3,2746.3 2605.1,2743.6 2615.9,2748.2 2626.8,2746.5 2637.6,2750.6 2648.4,2744.6 2659.2,2751.2 2670.1,2749.0 2680.9,2736.8 2691.7,2741.0 2702.6,2748.6 2713.4,2752.7 2724.2,2751.1 2735.0,2739.4 2745.9,2747.3 2756.7,2744.2 2767.5,2751.1 2778.3,2750.8 2789.2,2746.5 2800.0,2742.9 2810.8,2736.6 2821.7,2752.5 2832.5,2753.5 2843.3,2754.1 2854.1,2741.5 2865.0,2742.8 2875.8,2755.8 2886.6,2748.5 2897.4,2748.7 2908.3,2744.1 2919.1,2752.6 2929.9,2757.0 2940.8,2754.3 2951.6,2737.2 2962.4,2743.8 2973.2,2746.4 2984.1,2747.6 2994.9,2750.3 3005.7,2747.6 3016.6,2745.9 3027.4,2745.3 3038.2,2745.9 3049.0,2753.6 3059.9,2749.5 3070.7,2742.8 3081.5,2752.2 3092.3,2745.9 3103.2,2745.6 3114.0,2745.8 3124.8,2740.4" stroke="#A2142F" stroke-dasharray="7.0 8.6" stroke-linecap="butt"/>
<polyline points="1500.7,4530.3 1511.5,4483.8 1522.4,4066.0 1533.2,3551.6 1544.0,3297.6 1554.8,3179.4 1565.7,3056.3 1576.5,2975.3 1587.3,2927.3 1598.1,2897.9 1609.0,2877.4 1619.8,2868.6 1630.6,2847.0 1641.5,2837.4 1652.3,2825.7 1663.1,2818.5 1673.9,2805.7 1684.8,2800.5 1695.6,2792.5 1706.4,2786.8 1717.2,2791.3 1728.1,2791.0 1738.9,2772.8 1749.7,2783.3 1760.6,2770.0 1771.4,2769.4 1782.2,2767.6 1793.0,2771.5 1803.9,2766.1 1814.7,2768.5 1825.5,2757.9 1836.4,2759.9 1847.2,2745.9 1858.0,2756.5 1868.8,2751.7 1879.7,2753.4 1890.5,2743.5 1901.3,2744.3 1912.1,2737.3 1923.0,2738.5 1933.8,2743.8 1944.6,2740.0 1955.5,2735.0 1966.3,2733.9 1977.1,2730.0 1987.9,2726.3 1998.8,2727.1 2009.6,2720.9 2020.4,2728.7 2031.2,2716.3 2042.1,2727.7 2052.9,2714.2 2063.7,2717.3 2074.6,2712.7 2085.4,2712.8 2096.2,2711.0 2107.0,2725.7 2117.9,2724.4 2128.7,2721.4 2139.5,2710.2 2150.4,2702.2 2161.2,2718.0 2172.0,2719.3 2182.8,2718.5 2193.7,2712.7 2204.5,2709.6 2215.3,2710.9 2226.1,2711.6 2237.0,2704.7 2247.8,2704.0 2258.6,2711.1 2269.5,2710.8 2280.3,2703.2 2291.1,2699.8 2301.9,2709.1 2312.8,2705.2 2323.6,2705.7 2334.4,2712.6 2345.2,2713.5 2356.1,2708.6 2366.9,2710.2 2377.7,2703.3 2388.6,2714.5 2399.4,2708.4 2410.2,2704.3 2421.0,2712.5 2431.9,2714.3 2442.7,2713.8 2453.5,2714.5 2464.3,2714.0 2475.2,2712.0 2486.0,2712.2 2496.8,2716.4 2507.7,2704.9 2518.5,2710.6 2529.3,2708.1 2540.1,2715.2 2551.0,2719.1 2561.8,2710.6 2572.6,2706.0 2583.4,2717.6 2594.3,2713.5 2605.1,2711.4 2615.9,2702.9 2626.8,2697.5 2637.6,2710.9 2648.4,2703.4 2659.2,2706.2 2670.1,2712.9 2680.9,2703.0 2691.7,2704.7 2702.6,2707.0 2713.4,2709.1 2724.2,2708.2 2735.0,2700.6 2745.9,2702.2 2756.7,2698.2 2767.5,2705.7 2778.3,2699.6 2789.2,2712.3 2800.0,2702.1 2810.8,2696.2 2821.7,2705.3 2832.5,2707.7 2843.3,2703.5 2854.1,2705.8 2865.0,2710.3 2875.8,2713.4 2886.6,2699.1 2897.4,2713.8 2908.3,2707.0 2919.1,2704.5 2929.9,2709.7 2940.8,2707.3 2951.6,2711.5 2962.4,2704.7 2973.2,2706.8 2984.1,2701.7 2994.9,2710.8 3005.7,2705.3 3016.6,2709.8 3027.4,2704.7 3038.2,2697.8 3049.0,2710.5 3059.9,2709.4 3070.7,2703.2 3081.5,2712.1 3092.3,2714.6 3103.2,2704.4 3114.0,2706.5 3124.8,2701.1" stroke="#0072BD" stroke-dasharray="7.0 8.6" stroke-linecap="butt"/>
<polyline points="1500.7,4530.3 1511.5,4392.0 1522.4,3691.8 1533.2,3224.8 1544.0,3055.3 1554.8,2983.0 1565.7,2936.3 1576.5,2901.6 1587.3,2871.7 1598.1,2841.0 1609.0,2825.4 1619.8,2813.1 1630.6,2800.3 1641.5,2787.3 1652.3,2779.5 1663.1,2771.1 1673.9,2760.6 1684.8,2754.6 1695.6,2750.5 1706.4,2744.1 1717.2,2745.0 1728.1,2746.2 1738.9,2737.0 1749.7,2733.4 1760.6,2736.8 1771.4,2732.6 1782.2,2725.1 1793.0,2723.9 1803.9,2718.0 1814.7,2712.6 1825.5,2721.2 1836.4,2705.8 1847.2,2722.0 1858.0,2704.9 1868.8,2721.1 1879.7,2709.8 1890.5,2699.9 1901.3,2703.3 1912.1,2702.3 1923.0,2699.5 1933.8,2691.6 1944.6,2694.1 1955.5,2697.2 1966.3,2696.1 1977.1,2686.3 1987.9,2688.2 1998.8,2685.8 2009.6,2696.1 2020.4,2678.4 2031.2,2685.6 2042.1,2678.9 2052.9,2676.1 2063.7,2683.1 2074.6,2680.7 2085.4,2675.7 2096.2,2677.1 2107.0,2677.5 2117.9,2678.4 2128.7,2680.4 2139.5,2679.0 2150.4,2677.1 2161.2,2671.2 2172.0,2673.2 2182.8,2681.4 2193.7,2675.2 2204.5,2678.5 2215.3,2676.7 2226.1,2683.0 2237.0,2670.7 2247.8,2674.0 2258.6,2669.2 2269.5,2673.3 2280.3,2674.6 2291.1,2663.2 2301.9,2681.8 2312.8,2680.6 2323.6,2669.2 2334.4,2670.9 2345.2,2681.6 2356.1,2681.6 2366.9,2677.4 2377.7,2668.0 2388.6,2673.6 2399.4,2669.3 2410.2,2676.3 2421.0,2672.4 2431.9,2684.9 2442.7,2679.9 2453.5,2685.8 2464.3,2671.6 2475.2,2673.8 2486.0,2684.6 2496.8,2680.1 2507.7,2674.9 2518.5,2668.4 2529.3,2664.9 2540.1,2668.8 2551.0,2668.1 2561.8,2674.7 2572.6,2667.9 2583.4,2668.7 2594.3,2672.7 2605.1,2674.0 2615.9,2671.4 2626.8,2669.4 2637.6,2663.1 2648.4,2666.3 2659.2,2672.7 2670.1,2667.6 2680.9,2664.6 2691.7,2674.2 2702.6,2671.4 2713.4,2653.1 2724.2,2665.7 2735.0,2666.0 2745.9,2671.4 2756.7,2673.3 2767.5,2663.8 2778.3,2676.9 2789.2,2670.3 2800.0,2665.5 2810.8,2669.7 2821.7,2667.0 2832.5,2664.5 2843.3,2673.7 2854.1,2669.5 2865.0,2667.8 2875.8,2667.0 2886.6,2670.5 2897.4,2663.9 2908.3,2671.1 2919.1,2669.5 2929.9,2657.2 2940.8,2669.8 2951.6,2662.8 2962.4,2663.5 2973.2,2658.5 2984.1,2666.5 2994.9,2663.7 3005.7,2660.4 3016.6,2662.1 3027.4,2672.6 3038.2,2667.1 3049.0,2657.1 3059.9,2667.8 3070.7,2664.4 3081.5,2662.9 3092.3,2676.7 3103.2,2661.1 3114.0,2668.5 3124.8,2666.7" stroke="#D95319" stroke-dasharray="7.0 8.6" stroke-linecap="butt"/>
</g>
<rect x="1847.0" y="3315.0" width="539.0" height="336.0" fill="#fff"/>
<line x1="1863.0" y1="3345.6" x2="1996.3" y2="3345.6" stroke="#A2142F" stroke-width="6" stroke-dasharray="6.5 6.2"/>
<text transform="translate(2006.0 3370.1) scale(1 1.050)" font-family="Liberation Sans, Arial, sans-serif" font-size="60" fill="#000">4-layerSparse</text>
<line x1="1863.0" y1="3465.3" x2="1996.3" y2="3465.3" stroke="#0072BD" stroke-width="6" stroke-dasharray="6.5 6.2"/>
<text transform="translate(2006.0 3489.8) scale(1 1.050)" font-family="Liberation Sans, Arial, sans-serif" font-size="60" fill="#000">6-layerSparse</text>
<line x1="1863.0" y1="3583.4" x2="1996.3" y2="3583.4" stroke="#D95319" stroke-width="6" stroke-dasharray="6.5 6.2"/>
<text transform="translate(2006.0 3607.9) scale(1 1.050)" font-family="Liberation Sans, Arial, sans-serif" font-size="60" fill="#000">8-layerSparse</text>
<rect x="218.8" y="2619.0" width="1125.9" height="1063.8" fill="none" stroke="#303030" stroke-width="2.2"/>
<g stroke="#303030" stroke-width="2">
<line x1="218.8" y1="3682.8" x2="218.8" y2="3671.8"/>
<line x1="218.8" y1="2619.0" x2="218.8" y2="2630.0"/>
<line x1="594.3" y1="3682.8" x2="594.3" y2="3671.8"/>
<line x1="594.3" y1="2619.0" x2="594.3" y2="2630.0"/>
<line x1="969.7" y1="3682.8" x2="969.7" y2="3671.8"/>
<line x1="969.7" y1="2619.0" x2="969.7" y2="2630.0"/>
<line x1="1345.2" y1="3682.8" x2="1345.2" y2="3671.8"/>
<line x1="1345.2" y1="2619.0" x2="1345.2" y2="2630.0"/>
<line x1="218.8" y1="3470.0" x2="229.8" y2="3470.0"/>
<line x1="1344.7" y1="3470.0" x2="1333.7" y2="3470.0"/>
<line x1="218.8" y1="3257.3" x2="229.8" y2="3257.3"/>
<line x1="1344.7" y1="3257.3" x2="1333.7" y2="3257.3"/>
<line x1="218.8" y1="3044.5" x2="229.8" y2="3044.5"/>
<line x1="1344.7" y1="3044.5" x2="1333.7" y2="3044.5"/>
<line x1="218.8" y1="2831.8" x2="229.8" y2="2831.8"/>
<line x1="1344.7" y1="2831.8" x2="1333.7" y2="2831.8"/>
<line x1="218.8" y1="2619.0" x2="229.8" y2="2619.0"/>
<line x1="1344.7" y1="2619.0" x2="1333.7" y2="2619.0"/>
</g>
<g font-family="Liberation Sans, Arial, sans-serif" font-size="66.0" fill="#1a1a1a">
<text transform="translate(218.8 3771.5) scale(1 1.050)" text-anchor="middle">0</text>
<text transform="translate(594.3 3771.5) scale(1 1.050)" text-anchor="middle">50</text>
<text transform="translate(969.7 3771.5) scale(1 1.050)" text-anchor="middle">100</text>
<text transform="translate(1345.2 3771.5) scale(1 1.050)" text-anchor="middle">150</text>
<text transform="translate(196.9 3496.0) scale(1 1.050)" text-anchor="end">20</text>
<text transform="translate(196.9 3283.3) scale(1 1.050)" text-anchor="end">40</text>
<text transform="translate(196.9 3070.5) scale(1 1.050)" text-anchor="end">60</text>
<text transform="translate(196.9 2857.8) scale(1 1.050)" text-anchor="end">80</text>
<text transform="translate(196.9 2645.0) scale(1 1.050)" text-anchor="end">100</text>
</g>
<rect x="1464.0" y="2629.3" width="968.0" height="1053.3" fill="none" stroke="#303030" stroke-width="2.2"/>
<g stroke="#303030" stroke-width="2">
<line x1="1500.7" y1="3682.6" x2="1500.7" y2="3671.6"/>
<line x1="1500.7" y1="2629.3" x2="1500.7" y2="2640.3"/>
<line x1="1717.2" y1="3682.6" x2="1717.2" y2="3671.6"/>
<line x1="1717.2" y1="2629.3" x2="1717.2" y2="2640.3"/>
<line x1="1933.8" y1="3682.6" x2="1933.8" y2="3671.6"/>
<line x1="1933.8" y1="2629.3" x2="1933.8" y2="2640.3"/>
<line x1="2150.4" y1="3682.6" x2="2150.4" y2="3671.6"/>
<line x1="2150.4" y1="2629.3" x2="2150.4" y2="2640.3"/>
<line x1="2366.9" y1="3682.6" x2="2366.9" y2="3671.6"/>
<line x1="2366.9" y1="2629.3" x2="2366.9" y2="2640.3"/>
<line x1="1464.0" y1="3599.8" x2="1475.0" y2="3599.8"/>
<line x1="2432.0" y1="3599.8" x2="2421.0" y2="3599.8"/>
<line x1="1464.0" y1="3367.2" x2="1475.0" y2="3367.2"/>
<line x1="2432.0" y1="3367.2" x2="2421.0" y2="3367.2"/>
<line x1="1464.0" y1="3134.6" x2="1475.0" y2="3134.6"/>
<line x1="2432.0" y1="3134.6" x2="2421.0" y2="3134.6"/>
<line x1="1464.0" y1="2901.9" x2="1475.0" y2="2901.9"/>
<line x1="2432.0" y1="2901.9" x2="2421.0" y2="2901.9"/>
<line x1="1464.0" y1="2669.3" x2="1475.0" y2="2669.3"/>
<line x1="2432.0" y1="2669.3" x2="2421.0" y2="2669.3"/>
</g>
<g font-family="Liberation Sans, Arial, sans-serif" font-size="66.0" fill="#1a1a1a">
<text transform="translate(1500.7 3771.5) scale(1 1.050)" text-anchor="middle">0</text>
<text transform="translate(1717.2 3771.5) scale(1 1.050)" text-anchor="middle">20</text>
<text transform="translate(1933.8 3771.5) scale(1 1.050)" text-anchor="middle">40</text>
<text transform="translate(2150.4 3771.5) scale(1 1.050)" text-anchor="middle">60</text>
<text transform="translate(2366.9 3771.5) scale(1 1.050)" text-anchor="middle">80</text>
<text transform="translate(1442.1 3625.8) scale(1 1.050)" text-anchor="end">50</text>
<text transform="translate(1442.1 3393.2) scale(1 1.050)" text-anchor="end">60</text>
<text transform="translate(1442.1 3160.6) scale(1 1.050)" text-anchor="end">70</text>
<text transform="translate(1442.1 2927.9) scale(1 1.050)" text-anchor="end">80</text>
<text transform="translate(1442.1 2695.3) scale(1 1.050)" text-anchor="end">90</text>
</g>
<path d="M 412.5 150 A 158.5 151 0 1 1 412.4 150" fill="none" stroke="#000" stroke-width="5.5" stroke-dasharray="25.5 25.5" stroke-dashoffset="41.0"/>
<path d="M 412 140.5 L 1370 53" fill="none" stroke="#000" stroke-width="5.5" stroke-dasharray="26 25.9" stroke-dashoffset="0.0"/>
<path d="M 283 398 L 1324 1035" fill="none" stroke="#000" stroke-width="5.5" stroke-dasharray="25.3 26" stroke-dashoffset="26.2"/>
<path d="M 471 1379.5 A 223 214 0 1 1 470.9 1379.5" fill="none" stroke="#000" stroke-width="5.5" stroke-dasharray="26.5 26.5" stroke-dashoffset="9.5"/>
<path d="M 460 1381 L 1308 1310" fill="none" stroke="#000" stroke-width="5.5" stroke-dasharray="25 24.85" stroke-dashoffset="0.0"/>
<path d="M 262 1714.5 L 1297 2318.8" fill="none" stroke="#000" stroke-width="5.5" stroke-dasharray="25 24.9" stroke-dashoffset="24.4"/>
<path d="M 514.6 2667 A 284 219 0 1 1 514.5 2667" fill="none" stroke="#000" stroke-width="5.5" stroke-dasharray="24 25" stroke-dashoffset="39.0"/>
<path d="M 528 2668 L 1361 2626" fill="none" stroke="#000" stroke-width="5.5" stroke-dasharray="25.3 25.3" stroke-dashoffset="2.4"/>
<path d="M 262 3014 L 1411 3689" fill="none" stroke="#000" stroke-width="5.5" stroke-dasharray="24.8 24.87" stroke-dashoffset="31.5"/>
<text x="1169" y="1189" font-family="Liberation Serif, Times New Roman, serif" font-size="75" fill="#000">(a) β = 0.2</text>
<text x="1209" y="2503" font-family="Liberation Serif, Times New Roman, serif" font-size="75" fill="#000">(b) β = 0.5</text>
<text x="1218" y="3905" font-family="Liberation Serif, Times New Roman, serif" font-size="75" fill="#000">(c) β = 0.8</text>
<text x="672.5" y="3858" font-family="Liberation Sans, Arial, sans-serif" font-size="68" letter-spacing="3.4" fill="#000">rounds</text>
<text transform="translate(71.6 3466) rotate(-90) scale(1 1.05)" font-family="Liberation Sans, Arial, sans-serif" font-size="69" letter-spacing="1.1" fill="#000">Prediction accuracy</text>
</svg></body></html>
